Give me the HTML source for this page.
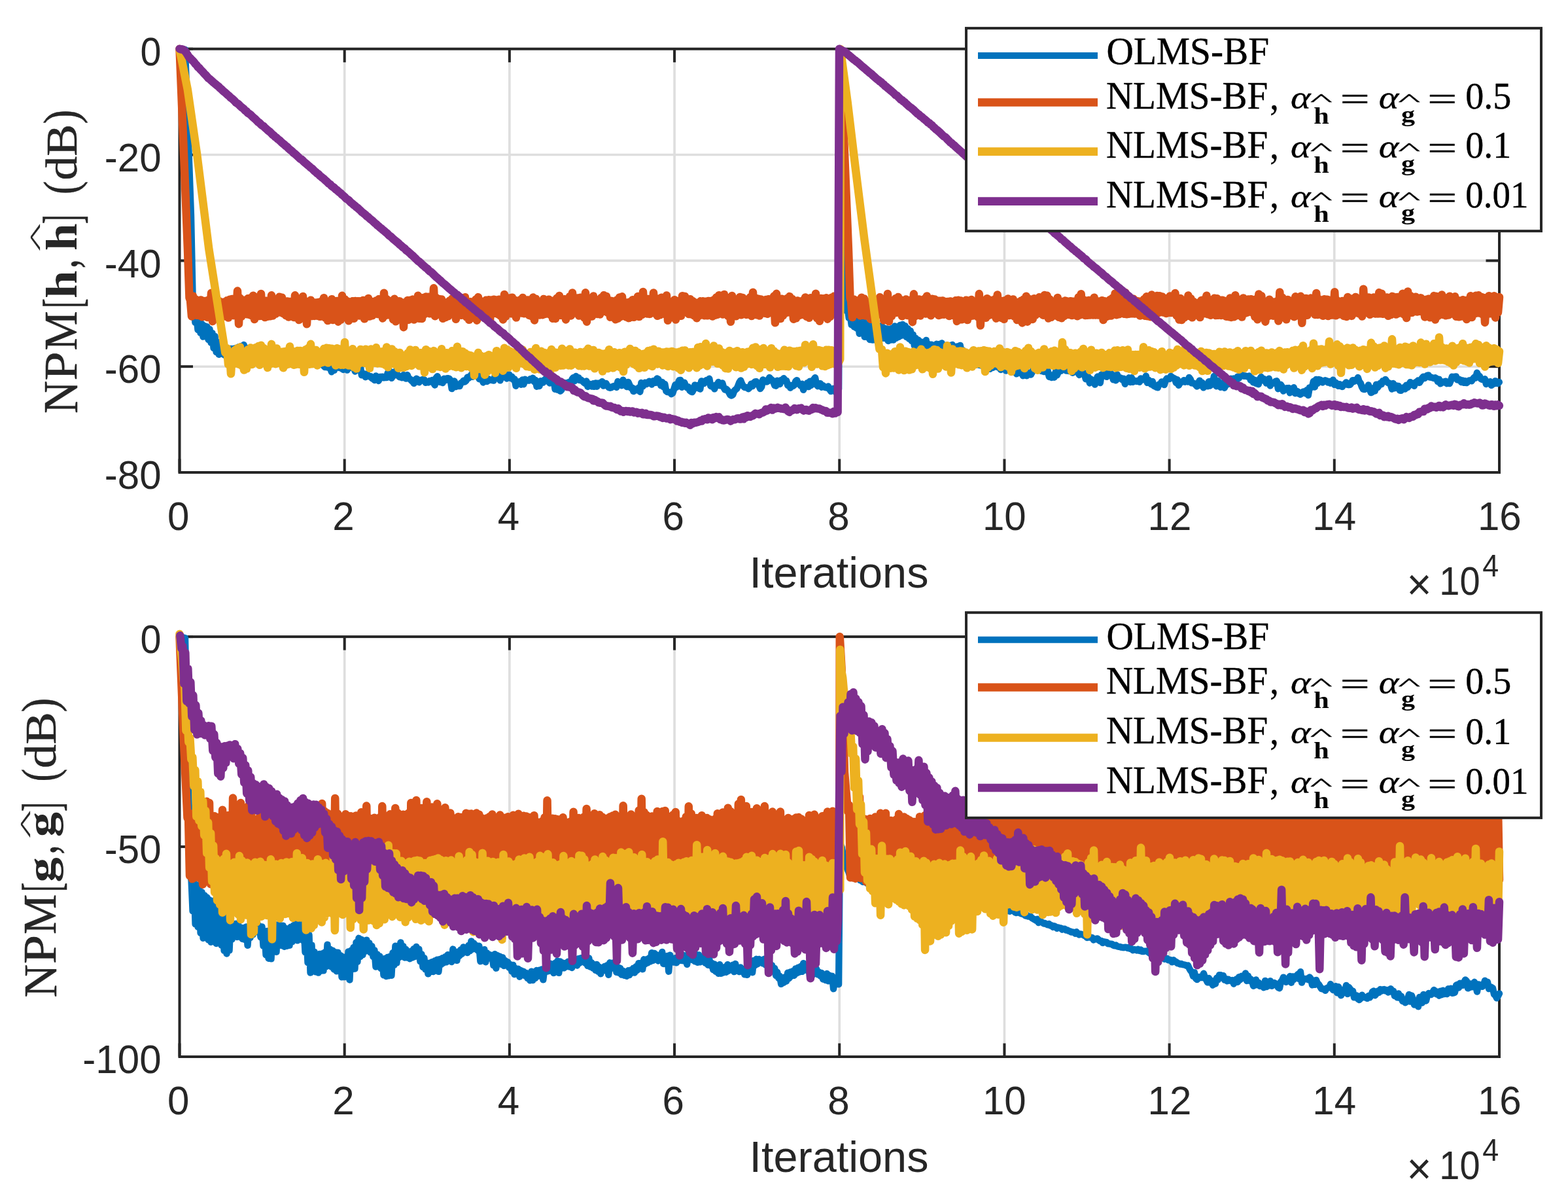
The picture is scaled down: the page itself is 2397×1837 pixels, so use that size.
<!DOCTYPE html>
<html lang="en"><head><meta charset="utf-8"><title>NPM convergence</title>
<style>html,body{margin:0;padding:0;background:#fff}svg{display:block}</style></head>
<body><svg xmlns="http://www.w3.org/2000/svg" width="2397" height="1837" viewBox="0 0 2397 1837">
<rect width="2397" height="1837" fill="#fff"/>
<g><line x1="274.5" y1="74.75" x2="274.5" y2="722" stroke="#dedede" stroke-width="3.6"/><line x1="526.69" y1="74.75" x2="526.69" y2="722" stroke="#dedede" stroke-width="3.6"/><line x1="778.88" y1="74.75" x2="778.88" y2="722" stroke="#dedede" stroke-width="3.6"/><line x1="1031.06" y1="74.75" x2="1031.06" y2="722" stroke="#dedede" stroke-width="3.6"/><line x1="1283.25" y1="74.75" x2="1283.25" y2="722" stroke="#dedede" stroke-width="3.6"/><line x1="1535.44" y1="74.75" x2="1535.44" y2="722" stroke="#dedede" stroke-width="3.6"/><line x1="1787.62" y1="74.75" x2="1787.62" y2="722" stroke="#dedede" stroke-width="3.6"/><line x1="2039.81" y1="74.75" x2="2039.81" y2="722" stroke="#dedede" stroke-width="3.6"/><line x1="2292" y1="74.75" x2="2292" y2="722" stroke="#dedede" stroke-width="3.6"/><line x1="274.5" y1="74.75" x2="2292" y2="74.75" stroke="#dedede" stroke-width="3.6"/><line x1="274.5" y1="236.56" x2="2292" y2="236.56" stroke="#dedede" stroke-width="3.6"/><line x1="274.5" y1="398.38" x2="2292" y2="398.38" stroke="#dedede" stroke-width="3.6"/><line x1="274.5" y1="560.19" x2="2292" y2="560.19" stroke="#dedede" stroke-width="3.6"/><line x1="274.5" y1="722" x2="2292" y2="722" stroke="#dedede" stroke-width="3.6"/></g>
<g><line x1="274.5" y1="722" x2="274.5" y2="701.5" stroke="#262626" stroke-width="4"/><line x1="274.5" y1="74.75" x2="274.5" y2="95.25" stroke="#262626" stroke-width="4"/><line x1="526.69" y1="722" x2="526.69" y2="701.5" stroke="#262626" stroke-width="4"/><line x1="526.69" y1="74.75" x2="526.69" y2="95.25" stroke="#262626" stroke-width="4"/><line x1="778.88" y1="722" x2="778.88" y2="701.5" stroke="#262626" stroke-width="4"/><line x1="778.88" y1="74.75" x2="778.88" y2="95.25" stroke="#262626" stroke-width="4"/><line x1="1031.06" y1="722" x2="1031.06" y2="701.5" stroke="#262626" stroke-width="4"/><line x1="1031.06" y1="74.75" x2="1031.06" y2="95.25" stroke="#262626" stroke-width="4"/><line x1="1283.25" y1="722" x2="1283.25" y2="701.5" stroke="#262626" stroke-width="4"/><line x1="1283.25" y1="74.75" x2="1283.25" y2="95.25" stroke="#262626" stroke-width="4"/><line x1="1535.44" y1="722" x2="1535.44" y2="701.5" stroke="#262626" stroke-width="4"/><line x1="1535.44" y1="74.75" x2="1535.44" y2="95.25" stroke="#262626" stroke-width="4"/><line x1="1787.62" y1="722" x2="1787.62" y2="701.5" stroke="#262626" stroke-width="4"/><line x1="1787.62" y1="74.75" x2="1787.62" y2="95.25" stroke="#262626" stroke-width="4"/><line x1="2039.81" y1="722" x2="2039.81" y2="701.5" stroke="#262626" stroke-width="4"/><line x1="2039.81" y1="74.75" x2="2039.81" y2="95.25" stroke="#262626" stroke-width="4"/><line x1="2292" y1="722" x2="2292" y2="701.5" stroke="#262626" stroke-width="4"/><line x1="2292" y1="74.75" x2="2292" y2="95.25" stroke="#262626" stroke-width="4"/><line x1="274.5" y1="74.75" x2="295" y2="74.75" stroke="#262626" stroke-width="4"/><line x1="2292" y1="74.75" x2="2271.5" y2="74.75" stroke="#262626" stroke-width="4"/><line x1="274.5" y1="236.56" x2="295" y2="236.56" stroke="#262626" stroke-width="4"/><line x1="2292" y1="236.56" x2="2271.5" y2="236.56" stroke="#262626" stroke-width="4"/><line x1="274.5" y1="398.38" x2="295" y2="398.38" stroke="#262626" stroke-width="4"/><line x1="2292" y1="398.38" x2="2271.5" y2="398.38" stroke="#262626" stroke-width="4"/><line x1="274.5" y1="560.19" x2="295" y2="560.19" stroke="#262626" stroke-width="4"/><line x1="2292" y1="560.19" x2="2271.5" y2="560.19" stroke="#262626" stroke-width="4"/><line x1="274.5" y1="722" x2="295" y2="722" stroke="#262626" stroke-width="4"/><line x1="2292" y1="722" x2="2271.5" y2="722" stroke="#262626" stroke-width="4"/></g>
<rect x="274.5" y="74.75" width="2017.5" height="647.25" fill="none" stroke="#262626" stroke-width="4"/>
<g>
<path d="M274.5,75 283,76 292,330 294.5,450 296.42,474.11 298.43,492.94 300.44,484.1 302.45,504.05 304.45,493.07 306.46,508.84 308.47,494.91 310.48,514.64 312.49,498.03 314.5,512.81 316.5,499.36 318.51,518.98 320.52,503.04 322.53,523.81 324.54,509.27 326.54,531.95 328.55,513.95 330.56,537.98 332.57,522.98 334.58,541.79 336.59,526.17 338.59,539.34 340.6,529.44 342.61,542.42 344.62,531.52 346.63,546.3 348.64,534.39 350.64,544.36 352.65,532.93 354.66,545.09 356.67,532.93 358.68,541.85 360.68,531.91 362.69,540.49 364.7,530.28 366.71,542.13 368.72,528.92 370.73,538.25 372.73,527 374.74,539.08 376.75,531.72 378.76,540.51 380.77,533.17 382.77,543.26 384.78,534.26 386.79,541.86 388.8,535.64 390.81,542.31 392.82,535.09 394.82,543.18 396.83,534.42 398.84,544.12 400.85,535.38 402.86,543.51 404.87,535.7 406.87,543.72 408.88,536.92 410.89,546.95 412.9,536.99 414.91,544.42 416.91,535.59 418.92,545.13 420.93,537.14 422.94,546.51 422.94,538.26 424.94,543.58 426.94,543.44 428.93,544.58 430.93,547.24 432.93,550.8 434.93,544.95 436.93,547.16 438.92,554.23 440.92,548.95 442.92,551.57 444.92,551.15 446.92,543.57 448.91,551.46 450.91,541.34 452.91,548.24 454.91,546.78 456.91,543.62 458.9,544.8 460.9,543.86 462.9,543.17 464.9,546.54 466.9,541.14 468.89,544.44 470.89,545.14 472.89,540.55 474.89,543.97 476.89,544.47 478.89,548.09 480.88,541.11 482.88,548.19 484.88,547.83 486.88,546.3 488.88,550.55 490.87,552.51 492.87,554.27 494.87,559.21 496.87,561.09 498.87,559.04 500.86,561.42 502.86,562.04 504.86,562.61 506.86,568.28 508.86,565.09 510.85,565.99 512.85,559.34 514.85,561.51 516.85,561.36 518.85,562.1 520.84,555.42 522.84,563.58 524.84,564.88 526.84,562.9 528.84,555.68 530.83,565.6 532.83,560.81 534.83,555.49 536.83,561.66 538.83,560.85 540.83,561.99 542.82,567.5 544.82,563.37 546.82,560.84 548.82,563.75 550.82,559.61 552.81,573.31 554.81,573.02 556.81,571.08 558.81,576.25 560.81,571.49 562.8,574.92 564.8,575.36 566.8,575.31 568.8,578.4 570.8,579.34 572.79,581.09 574.79,574.41 576.79,577.91 578.79,581.96 580.79,576.04 582.78,576.04 584.78,575.74 586.78,577.4 588.78,577 590.78,577.16 592.78,569.9 594.77,576.34 596.77,567.72 598.77,577.85 600.77,573 602.77,573.77 604.76,567.36 606.76,571.25 608.76,574.29 610.76,576.13 612.76,575.25 614.75,577.31 616.75,573.02 618.75,576.82 620.75,578.67 622.75,573.05 624.74,578.35 626.74,579.08 628.74,581.56 630.74,582.87 632.74,585.89 634.73,580.53 636.73,578.89 638.73,580 640.73,584.22 642.73,582.12 644.72,580.5 646.72,579.83 648.72,580.5 650.72,584.76 652.72,584.21 654.72,584.45 656.71,582.19 658.71,583.31 660.71,581.05 662.71,584.88 664.71,588.49 666.7,577.56 668.7,575.14 670.7,580.75 672.7,584.05 674.7,581.18 676.69,585.06 678.69,578.76 680.69,581.32 682.69,578.47 684.69,578.27 686.68,578.56 688.68,581.37 690.68,594.14 692.68,586.38 694.68,582.51 696.67,591.08 698.67,589.51 700.67,589.84 702.67,590.08 704.67,585.34 706.66,584.31 708.66,581.71 710.66,583.54 712.66,581.66 714.66,576.48 716.66,577.88 718.65,575.32 720.65,572.4 722.65,575.76 724.65,574.66 726.65,569.1 728.64,571.54 730.64,573.86 732.64,579.18 734.64,571.36 736.64,577.41 738.63,584.44 740.63,578.7 742.63,580.73 744.63,582.94 746.63,579.19 748.62,581 750.62,580.58 752.62,581.18 754.62,581.52 756.62,574.98 758.61,573.91 760.61,573.59 762.61,576.95 764.61,581.39 766.61,575.2 768.61,572.41 770.6,571.73 772.6,572.04 774.6,578.47 776.6,572.69 778.6,572.72 780.59,577.93 782.59,575.77 784.59,580.11 786.59,579.26 788.59,589.82 790.58,583.3 792.58,586.1 794.58,582.99 796.58,587.69 798.58,580.58 800.57,587.3 802.57,579.66 804.57,581.9 806.57,581.24 808.57,581.63 810.56,579.23 812.56,579.12 814.56,577.77 816.56,583.29 818.56,580.96 820.55,590.71 822.55,587.99 824.55,590.07 826.55,582.17 828.55,583.67 830.55,584.58 832.54,580.51 834.54,578.75 836.54,578.79 838.54,583.21 840.54,585.45 842.53,581.62 844.53,584.6 846.53,581.56 848.53,594.81 850.53,590.82 852.52,595.65 854.52,595.79 856.52,597.75 858.52,595.8 860.52,587.83 862.51,584.87 864.51,587.51 866.51,589.47 868.51,584.58 870.51,584.02 872.5,586.5 874.5,579.57 876.5,577.14 878.5,582.18 880.5,574.93 882.49,579.98 884.49,577.26 886.49,581.1 888.49,580.7 890.49,582.61 892.49,584.49 894.48,585.89 896.48,582.45 898.48,590.94 900.48,586.52 902.48,588.03 904.47,590.47 906.47,586.32 908.47,590.85 910.47,585.48 912.47,590.75 914.46,585.65 916.46,585.61 918.46,584.92 920.46,583.23 922.46,589.61 924.45,588.53 926.45,585.87 928.45,589.27 930.45,591.97 932.45,592.9 934.44,592.28 936.44,590.77 938.44,589.98 940.44,590.71 942.44,591.97 944.44,583.01 946.43,587.4 948.43,584.01 950.43,589.26 952.43,580.66 954.43,587.68 956.42,588.64 958.42,591.18 960.42,583.89 962.42,588.41 964.42,592.79 966.41,592.72 968.41,598.13 970.41,594.56 972.41,596.19 974.41,596.39 976.4,592.58 978.4,598.7 980.4,585.04 982.4,590.71 984.4,588.13 986.39,584.61 988.39,587.06 990.39,584.9 992.39,582.78 994.39,584.82 996.38,587.51 998.38,582.27 1000.38,583.01 1002.38,584.89 1004.38,578.54 1006.38,579.64 1008.37,584.12 1010.37,589.34 1012.37,584.05 1014.37,591.48 1016.37,587.02 1018.36,597.74 1020.36,599.02 1022.36,599.46 1024.36,599.39 1026.36,602.05 1028.35,600.83 1030.35,594.35 1032.35,588.02 1034.35,591.73 1036.35,586.28 1038.34,581.23 1040.34,580.99 1042.34,591.81 1044.34,589.26 1046.34,584.8 1048.33,589.93 1050.33,592.41 1052.33,591.29 1054.33,596.83 1056.33,598.3 1058.32,599.09 1060.32,594.92 1062.32,588.36 1064.32,592.69 1066.32,589.02 1068.32,593.47 1070.31,594.63 1072.31,582.4 1074.31,583.7 1076.31,586.07 1078.31,582.3 1080.3,580.89 1082.3,581.74 1084.3,578.76 1086.3,589.88 1088.3,590.66 1090.29,589.36 1092.29,594.4 1094.29,588.29 1096.29,588.85 1098.29,584.06 1100.28,589.32 1102.28,588.14 1104.28,585.37 1106.28,592.15 1108.28,595.61 1110.27,594.52 1112.27,596.41 1114.27,599.81 1116.27,603.5 1118.27,604.52 1120.27,603.36 1122.26,597.79 1124.26,595.5 1126.26,594.08 1128.26,589.58 1130.26,584.39 1132.25,581.5 1134.25,586.73 1136.25,590.15 1138.25,592.1 1140.25,591.96 1142.24,592.74 1144.24,594.16 1146.24,592.14 1148.24,586.72 1150.24,590.15 1152.23,585.33 1154.23,583.32 1156.23,583.12 1158.23,587.28 1160.23,589.7 1162.22,594.08 1164.22,591.3 1166.22,580.43 1168.22,582.99 1170.22,581.77 1172.21,583.45 1174.21,582.27 1176.21,577.02 1178.21,579.31 1180.21,580.73 1182.21,583.7 1184.2,589 1186.2,589.69 1188.2,581.79 1190.2,584.8 1192.2,586.96 1194.19,580.86 1196.19,580.57 1198.19,578.29 1200.19,582.55 1202.19,581.72 1204.18,588.98 1206.18,588.03 1208.18,592.67 1210.18,589.15 1212.18,590.02 1214.17,588.55 1216.17,582.93 1218.17,581.08 1220.17,586.34 1222.17,586.52 1224.16,589.65 1226.16,586.76 1228.16,595.88 1230.16,590.89 1232.16,589.42 1234.15,585.2 1236.15,591.09 1238.15,582.76 1240.15,588.76 1242.15,581.97 1244.15,579.85 1246.14,577.12 1248.14,587.85 1250.14,590.19 1252.14,589.41 1254.14,586.09 1256.13,591.68 1258.13,589.13 1260.13,591.61 1262.13,592.21 1264.13,592.59 1266.12,590.45 1268.12,594.88 1270.12,597.95 1272.12,597.07 1274.12,593.85 1276.11,596.36 1278.11,599.74 1280.11,593.51 1282.11,594.14 1284.25,75 1287,80 1290,300 1291.69,459.49 1293.69,474.99 1295.7,470.44 1297.7,485.99 1299.7,481.48 1301.7,496.45 1303.7,487.52 1305.7,499.51 1307.7,488.55 1309.7,501.87 1311.71,489.13 1313.71,509.76 1315.71,489.6 1317.71,509.03 1319.71,489.4 1321.71,514.78 1323.71,494.88 1325.71,515.24 1327.71,498.03 1329.72,519.02 1331.72,497.4 1333.72,519.57 1335.72,501.19 1337.72,519.48 1339.72,500.07 1341.72,517.18 1343.72,498.86 1345.73,514.59 1347.73,497.81 1349.73,516.81 1351.73,501.36 1353.73,517.32 1355.73,502.34 1357.73,521.04 1359.73,502.88 1361.74,519.64 1363.74,501.67 1365.74,519.59 1367.74,498.52 1369.74,516.9 1371.74,500.54 1373.74,514.81 1375.74,497.02 1377.74,512.82 1379.75,495.89 1381.75,512.48 1383.75,498.21 1385.75,515.05 1387.75,502.22 1389.75,517.76 1391.75,505.51 1393.75,521.23 1395.76,511.43 1397.76,528.1 1399.76,516.88 1401.76,532.47 1403.76,519.52 1405.76,534.65 1407.76,522.45 1409.76,535.6 1411.76,524.55 1413.77,540.16 1415.77,519.96 1417.77,535.96 1419.77,526.17 1421.77,540.19 1423.77,526.61 1425.77,536.18 1427.77,528.06 1429.78,533.8 1431.78,525.68 1433.78,534.12 1435.78,525.91 1437.78,533.39 1439.78,524.43 1441.78,532.18 1443.78,527.73 1445.79,533.43 1447.79,527.38 1449.79,533.96 1451.79,527.91 1453.79,534.53 1455.79,526.87 1457.79,533.65 1459.79,529.64 1461.79,533.9 1463.8,529.43 1465.8,542.49 1467.8,527.86 1469.8,539.95 1471.8,535.13 1473.8,545.2 1473.8,538.63 1475.8,544.28 1477.8,545.11 1479.8,547.19 1481.8,548.45 1483.8,556.74 1485.8,556.78 1487.8,553.68 1489.8,557.21 1491.8,557.79 1493.8,553.57 1495.8,557.32 1497.8,558.06 1499.8,558.53 1501.8,558.07 1503.8,553.63 1505.81,558.16 1507.81,561.55 1509.81,559.87 1511.81,557.4 1513.81,563.85 1515.81,555.77 1517.81,561.79 1519.81,556.49 1521.81,553.53 1523.81,560.64 1525.81,561.29 1527.81,561.98 1529.81,564.93 1531.81,557.28 1533.81,558.82 1535.81,561.31 1537.81,566.63 1539.81,563.28 1541.81,557.56 1543.81,560.02 1545.81,557.77 1547.81,560.37 1549.81,561.78 1551.81,564.98 1553.81,571.28 1555.81,570 1557.81,568.99 1559.81,569.96 1561.81,566.17 1563.81,574.22 1565.81,571.16 1567.81,573.65 1569.81,574.25 1571.81,571.16 1573.81,569.71 1575.81,572.58 1577.81,569.05 1579.81,564.69 1581.81,563.7 1583.81,562.7 1585.81,554.08 1587.81,558.57 1589.81,564.64 1591.81,567.02 1593.81,563.88 1595.81,568.07 1597.81,567.9 1599.81,567.17 1601.81,567.05 1603.82,575.93 1605.82,573.1 1607.82,577.07 1609.82,576.22 1611.82,576.67 1613.82,568 1615.82,573.39 1617.82,568.84 1619.82,564.95 1621.82,566.83 1623.82,564.57 1625.82,558.9 1627.82,558.95 1629.82,566.61 1631.82,561.69 1633.82,567.12 1635.82,563.92 1637.82,564.67 1639.82,569.76 1641.82,566.36 1643.82,565.73 1645.82,562.87 1647.82,569.13 1649.82,572.93 1651.82,571.43 1653.82,569.25 1655.82,568.91 1657.82,571.85 1659.82,579.36 1661.82,578.28 1663.82,576.29 1665.82,585.48 1667.82,579.46 1669.82,583.23 1671.82,582.64 1673.82,587.64 1675.82,581.42 1677.82,575.55 1679.82,581.44 1681.82,585.11 1683.82,572.53 1685.82,574.08 1687.82,568.75 1689.82,571.48 1691.82,575.9 1693.82,566.3 1695.82,566.7 1697.82,570.78 1699.82,572.06 1701.83,580.24 1703.83,574.58 1705.83,581.31 1707.83,572.43 1709.83,578.56 1711.83,577.18 1713.83,577.94 1715.83,580.52 1717.83,578.8 1719.83,586.84 1721.83,580.08 1723.83,583.46 1725.83,577.32 1727.83,584 1729.83,577.28 1731.83,583.81 1733.83,582.65 1735.83,582.04 1737.83,582.93 1739.83,581.92 1741.83,583.85 1743.83,578.36 1745.83,580.61 1747.83,579.53 1749.83,579.62 1751.83,574.54 1753.83,584.87 1755.83,580.72 1757.83,583.4 1759.83,587.37 1761.83,583.06 1763.83,589.8 1765.83,590.44 1767.83,591.75 1769.83,592.3 1771.83,587.48 1773.83,587.19 1775.83,583.35 1777.83,585.99 1779.83,587.99 1781.83,581.46 1783.83,578.5 1785.83,579.03 1787.83,579.08 1789.83,575 1791.83,576.75 1793.83,577.69 1795.83,578.66 1797.83,584.88 1799.84,580.31 1801.84,588.79 1803.84,585.42 1805.84,583.87 1807.84,583.42 1809.84,581.15 1811.84,583.75 1813.84,581.07 1815.84,583.47 1817.84,576.93 1819.84,579.73 1821.84,585.4 1823.84,585.72 1825.84,586.1 1827.84,588.23 1829.84,590.47 1831.84,585.62 1833.84,581.6 1835.84,589.15 1837.84,584.64 1839.84,592.41 1841.84,587.96 1843.84,589.93 1845.84,590.2 1847.84,583.19 1849.84,589.64 1851.84,582.32 1853.84,586.87 1855.84,575 1857.84,588.32 1859.84,590.37 1861.84,581.84 1863.84,586.17 1865.84,591.76 1867.84,589.03 1869.84,584.85 1871.84,592.71 1873.84,588.56 1875.84,582.73 1877.84,586.91 1879.84,583.01 1881.84,578.64 1883.84,583.48 1885.84,578.55 1887.84,581.03 1889.84,581.75 1891.84,575.73 1893.84,577.94 1895.84,573.63 1897.84,572.59 1899.85,573.72 1901.85,574.82 1903.85,574.5 1905.85,575.04 1907.85,575.7 1909.85,574.53 1911.85,580.84 1913.85,578.12 1915.85,584.33 1917.85,580.68 1919.85,586.02 1921.85,586.44 1923.85,587.28 1925.85,579.02 1927.85,576.03 1929.85,581.23 1931.85,578.98 1933.85,580.99 1935.85,585.57 1937.85,583.91 1939.85,578.69 1941.85,589.47 1943.85,584.9 1945.85,585.56 1947.85,585.55 1949.85,582.8 1951.85,582.33 1953.85,594.17 1955.85,591.8 1957.85,587.84 1959.85,590.87 1961.85,597.62 1963.85,595.42 1965.85,593.54 1967.85,593.16 1969.85,593.07 1971.85,600.36 1973.85,594.19 1975.85,595.65 1977.85,592.31 1979.85,601.22 1981.85,597.41 1983.85,598.35 1985.85,601.75 1987.85,602.68 1989.85,601.22 1991.85,598.77 1993.85,598.18 1995.85,601.32 1997.86,596.1 1999.86,603.99 2001.86,592.53 2003.86,592.33 2005.86,591.42 2007.86,582.81 2009.86,591.48 2011.86,579.99 2013.86,586.08 2015.86,579.93 2017.86,580.44 2019.86,581.5 2021.86,584.48 2023.86,582.11 2025.86,581.29 2027.86,582.1 2029.86,584.47 2031.86,583.23 2033.86,585.51 2035.86,584.11 2037.86,580.64 2039.86,587.87 2041.86,584.75 2043.86,586.32 2045.86,589.88 2047.86,587.22 2049.86,589.9 2051.86,591.05 2053.86,588.02 2055.86,586.79 2057.86,584.44 2059.86,587.84 2061.86,588.22 2063.86,587.83 2065.86,585.1 2067.86,581.15 2069.86,582.96 2071.86,580.7 2073.86,580.84 2075.86,577.06 2077.86,583.4 2079.86,585.56 2081.86,591.14 2083.86,594.71 2085.86,595.14 2087.86,592.96 2089.86,592.4 2091.86,588.5 2093.86,595.65 2095.87,600.15 2097.87,599.14 2099.87,592.95 2101.87,597.48 2103.87,587.69 2105.87,592.34 2107.87,589.46 2109.87,585.73 2111.87,587.16 2113.87,582.12 2115.87,583.26 2117.87,579.94 2119.87,582.86 2121.87,585.1 2123.87,585.53 2125.87,588.34 2127.87,594.54 2129.87,585.97 2131.87,593.17 2133.87,589.21 2135.87,593.03 2137.87,589.95 2139.87,596.55 2141.87,596.83 2143.87,593.95 2145.87,592.21 2147.87,594.61 2149.87,588.61 2151.87,591.94 2153.87,589.13 2155.87,584.1 2157.87,586.96 2159.87,587.25 2161.87,589.8 2163.87,584.37 2165.87,583.37 2167.87,581.52 2169.87,584.86 2171.87,581.81 2173.87,577.96 2175.87,575.65 2177.87,578.03 2179.87,575.41 2181.87,573.58 2183.87,573.5 2185.87,576.54 2187.87,576.69 2189.87,577.38 2191.87,578.02 2193.88,577.27 2195.88,578.48 2197.88,583.09 2199.88,579.61 2201.88,586.37 2203.88,584.48 2205.88,583.39 2207.88,584.36 2209.88,582.77 2211.88,586.03 2213.88,585.05 2215.88,586.14 2217.88,581.51 2219.88,575.71 2221.88,576.14 2223.88,575.71 2225.88,575.53 2227.88,580.58 2229.88,579.56 2231.88,580.33 2233.88,584.03 2235.88,581.41 2237.88,584.88 2239.88,582.16 2241.88,585.16 2243.88,583.61 2245.88,581.38 2247.88,581.29 2249.88,582.1 2251.88,578.74 2253.88,576.54 2255.88,577.53 2257.88,569.79 2259.88,573.94 2261.88,574.89 2263.88,579.16 2265.88,580.12 2267.88,580.3 2269.88,579.28 2271.88,586.97 2273.88,583.39 2275.88,583.77 2277.88,583.32 2279.88,588.88 2281.88,585.28 2283.88,586.47 2285.88,582.21 2287.88,583.12 2289.88,586.09 2291.88,584" fill="none" stroke="#0072bd" stroke-width="10.4" stroke-linejoin="round" stroke-linecap="round"/>
<path d="M274.5,75 276,110 287,382 289.5,455 291,458.94 293,483.46 295,452.57 297,479.27 299,457.59 301,481.88 303,460.9 305,482.42 307,458.45 309,484.36 311,459.98 313,479.3 315,459.81 317,485.07 319,458.21 321,478.56 323,447.66 325,491.13 327,459.36 329,485.67 331,464.13 333,479.74 335,460.11 337,478.58 339,462.05 341,480.46 343,461.46 345,483.7 347,459.24 349,485.59 351,457.63 353,481.17 355,456.88 357,482.13 359,458.36 361,480.02 363,444.59 365,495.15 367,455.61 369,483.69 371,458.37 373,477.94 375,459.69 377,480.24 379,456.27 381,481.07 383,455.36 385,482.57 387,451.63 389,488.02 391,462.28 393,479.83 395,453.79 397,482.96 399,448.98 401,482.77 403,462.99 405,485.09 407,459.65 409,483.74 411,465.01 413,483.26 415,451.36 417,482.56 419,460.35 421,479.73 423,461.48 425,477.48 427,453.84 429,477.61 431,454.68 433,479.29 435,460.73 437,482.3 439,460.42 441,484.52 443,461.02 445,482.35 447,463.67 449,485.06 451,451.33 453,485.43 455,460.98 457,488.91 459,460.92 461,480.3 463,452.94 465,482.76 467,460.49 469,495.34 471,461.73 473,482.6 475,458.78 477,483.05 479,463.73 481,482.89 483,462.43 485,482.68 487,462.04 489,483.87 491,460.68 493,482.33 495,455.27 497,485.49 499,462.35 501,489.96 503,463.5 505,483.49 507,457.22 509,488.99 511,461.97 513,482.73 515,460.04 517,491.64 519,459.55 521,488.74 523,451.83 525,480.48 527,457.46 529,476.93 531,460.56 533,490.28 535,461.79 537,483.35 539,460.2 541,486.81 543,460.03 545,480.95 547,460.23 549,482.52 551,460.31 553,480.27 555,459.01 557,487.2 559,460.31 561,482.28 563,455.98 565,483.54 567,464.12 569,482.3 571,461.09 573,479.9 575,459.62 577,479.96 579,457.29 581,479.49 583,459.1 585,486.48 587,447.65 589,482.38 591,457.24 593,481.33 595,459.76 597,479.41 599,462.05 601,488.19 603,456.81 605,491.27 607,464.39 609,482.49 611,460.36 613,485.05 615,462.58 617,500.15 619,462.79 621,485.42 623,458.93 625,488.7 627,458.81 629,485 631,457.61 633,488.56 635,459.35 637,482.82 639,451.79 641,486.79 643,460.31 645,487.02 647,454.93 649,480 651,453.57 653,476.89 655,453.71 657,479.2 659,456.84 661,477.63 663,440.29 665,483.22 667,455.12 669,480.52 671,457.03 673,480.95 675,457.42 677,486.79 679,461.94 681,485.07 683,462.42 685,483.27 687,459.73 689,479.9 691,456.55 693,478.58 695,457.86 697,487.74 699,458.65 701,478.48 703,460.52 705,481.67 707,458.93 709,480.32 711,454.34 713,484.44 715,461.92 717,488.85 719,461.3 721,486.01 723,462.93 725,482.9 727,457.99 729,489.68 731,454.12 733,483.32 735,460.35 737,484.33 739,464.71 741,483.52 743,458.64 745,488.45 747,458.26 749,490.6 751,458.52 753,478.92 755,457.83 757,478.82 759,458.41 761,480.16 763,457.83 765,482.79 767,463.25 769,488.46 771,449.89 773,483.71 775,462.21 777,479.48 779,455.4 781,479.25 783,454.78 785,479.86 787,458.74 789,485.38 791,461.16 793,478.4 795,458.5 797,478.46 799,455 801,479.33 803,460.61 805,478.43 807,458.54 809,482.08 811,459.42 813,483.56 815,454.54 817,489.45 819,456.74 821,480.8 823,461.14 825,481.42 827,462.68 829,481.25 831,456.97 833,480.08 835,460.08 837,479.17 839,457.72 841,481.01 843,459.64 845,486.82 847,463.83 849,486.97 851,455.85 853,479.98 855,452.03 857,481.84 859,458.69 861,478.89 863,457.34 865,488.42 867,460.07 869,482.02 871,452.89 873,482.46 875,447.41 877,477.97 879,455.85 881,477.54 883,455.54 885,482.62 887,454.68 889,480.43 891,459.22 893,485.51 895,447.29 897,491.72 899,456.9 901,480.74 903,456.46 905,483.54 907,452.6 909,479.57 911,458.33 913,480 915,458.4 917,480.57 919,454.93 921,476.24 923,451.35 925,475.1 927,453.06 929,477.95 931,459.12 933,484.64 935,459.94 937,481.87 939,461.3 941,488.2 943,458.39 945,486.65 947,454.43 949,483.92 951,453.36 953,481.68 955,463.37 957,484.43 959,462.49 961,486.13 963,461.61 965,484.84 967,458.2 969,484.83 971,460.05 973,479.7 975,452.94 977,483.99 979,457.33 981,481.07 983,445.92 985,478.39 987,457.3 989,479.49 991,456.9 993,479.88 995,456.91 997,477.43 999,447.39 1001,478.93 1003,456.59 1005,482.72 1007,456.51 1009,481.37 1011,454.7 1013,476.35 1015,455.89 1017,480.55 1019,451.44 1021,489.87 1023,462.94 1025,485.41 1027,465.02 1029,484.12 1031,458.16 1033,488.48 1035,459.93 1037,481.55 1039,460.97 1041,482.87 1043,452.15 1045,477.89 1047,453.05 1049,477.59 1051,459.44 1053,480.06 1055,457.28 1057,480.42 1059,460.17 1061,482.35 1063,462.58 1065,486.17 1067,463.42 1069,482.34 1071,460.36 1073,480.11 1075,460.35 1077,482.34 1079,460.72 1081,482.37 1083,460.03 1085,480.54 1087,459.92 1089,483.52 1091,458.52 1093,481.67 1095,454.54 1097,480.67 1099,451.19 1101,475.15 1103,453.21 1105,480.55 1107,449.88 1109,476.3 1111,454.62 1113,482.95 1115,455.54 1117,491.76 1119,451.93 1121,478.37 1123,458.72 1125,483.28 1127,459.66 1129,480.34 1131,453.96 1133,481.34 1135,454.87 1137,477.81 1139,458.41 1141,480.88 1143,457.53 1145,476.33 1147,454.15 1149,483 1151,446.78 1153,476.48 1155,455.72 1157,481.18 1159,456.67 1161,482.55 1163,457.56 1165,476.84 1167,460.02 1169,478.69 1171,458.02 1173,479.8 1175,457.35 1177,478.14 1179,459.6 1181,477.71 1183,452.81 1185,493.37 1187,448.86 1189,477.93 1191,459.77 1193,486.97 1195,456.71 1197,482.25 1199,458.03 1201,478.42 1203,456.24 1205,477.29 1207,453.12 1209,476.45 1211,457.02 1213,487.67 1215,465.01 1217,486.25 1219,459.55 1221,482.48 1223,463.16 1225,481.13 1227,459.53 1229,479.6 1231,454.38 1233,483.73 1235,456.29 1237,485.86 1239,455.31 1241,480.12 1243,458.43 1245,480.72 1247,448.68 1249,486.46 1251,462.19 1253,490.85 1255,456.11 1257,483.91 1259,456.37 1261,483.27 1263,455.25 1265,487.68 1267,457.2 1269,483.72 1271,454.86 1273,476.82 1275,452.87 1277,474.86 1279,455.57 1281,477.22 1283.25,470 1283.75,75 1286,110 1297,382 1299.5,455 1301,460.36 1303,484.93 1305,457.52 1306.99,477.23 1308.99,459.26 1310.99,479.92 1312.99,459.39 1314.99,482.4 1316.98,454.63 1318.98,481.85 1320.98,456.45 1322.98,482.42 1324.98,461.04 1326.97,481.8 1328.97,462.18 1330.97,487.77 1332.97,461.3 1334.97,487.27 1336.96,462.36 1338.96,483.58 1340.96,458.55 1342.96,479.16 1344.96,454.35 1346.95,480.14 1348.95,462.67 1350.95,489.61 1352.95,461.05 1354.95,481.49 1356.94,448.95 1358.94,491.35 1360.94,463.79 1362.94,483.13 1364.94,460.6 1366.93,478.58 1368.93,456.24 1370.93,477.71 1372.93,454.09 1374.93,475.81 1376.92,458.11 1378.92,483.32 1380.92,459.2 1382.92,479.57 1384.92,457.47 1386.91,481.92 1388.91,460.49 1390.91,481.87 1392.91,458.35 1394.91,492.2 1396.9,449.33 1398.9,483.18 1400.9,459.94 1402.9,480.94 1404.9,457.39 1406.89,482.42 1408.89,459.89 1410.89,479 1412.89,457.09 1414.89,479.56 1416.88,452.58 1418.88,478.75 1420.88,457.71 1422.88,482.31 1424.88,456.63 1426.87,479.03 1428.87,457.46 1430.87,478.65 1432.87,459.55 1434.86,481.96 1436.86,459.69 1438.86,481.01 1440.86,459.46 1442.86,480.68 1444.85,460.96 1446.85,480.12 1448.85,460.92 1450.85,482.91 1452.85,460.44 1454.84,481.81 1456.84,461.8 1458.84,480.79 1460.84,459.21 1462.84,490.95 1464.83,458.63 1466.83,488.57 1468.83,459.45 1470.83,488.17 1472.83,460.76 1474.82,480.71 1476.82,458.75 1478.82,489.08 1480.82,461.88 1482.82,483.25 1484.81,458.01 1486.81,482.58 1488.81,462.6 1490.81,480.9 1492.81,462.84 1494.8,484.46 1496.8,449.1 1498.8,497.53 1500.8,459.59 1502.8,481.22 1504.79,462.42 1506.79,485.82 1508.79,456.17 1510.79,482.22 1512.79,458.52 1514.78,479.43 1516.78,459.07 1518.78,481.67 1520.78,457.21 1522.78,486.63 1524.77,450.45 1526.77,478.01 1528.77,460.17 1530.77,485.81 1532.77,459.88 1534.76,487.73 1536.76,459.01 1538.76,482.42 1540.76,456.38 1542.76,482.02 1544.75,460.69 1546.75,480.59 1548.75,457.58 1550.75,483.84 1552.75,461.82 1554.74,489.07 1556.74,461.84 1558.74,482.54 1560.74,459.83 1562.74,493.41 1564.73,457.42 1566.73,482.96 1568.73,452.72 1570.73,491.69 1572.73,456.63 1574.72,481.33 1576.72,458.55 1578.72,487.93 1580.72,456.3 1582.72,481.62 1584.71,458.94 1586.71,479.06 1588.71,454.23 1590.71,478.46 1592.71,456.68 1594.7,481.79 1596.7,450.91 1598.7,481.44 1600.7,451.86 1602.7,486.51 1604.69,457.61 1606.69,484.87 1608.69,462.04 1610.69,480.19 1612.69,461.99 1614.68,482.65 1616.68,454.91 1618.68,484.86 1620.68,461.84 1622.68,486.28 1624.67,460.79 1626.67,483.02 1628.67,459.62 1630.67,481.06 1632.67,460.84 1634.66,480.93 1636.66,460.16 1638.66,482.12 1640.66,460.67 1642.66,480 1644.65,460.29 1646.65,483.22 1648.65,454.22 1650.65,481.62 1652.65,449.23 1654.64,478.48 1656.64,458.46 1658.64,482.08 1660.64,459.73 1662.64,481.75 1664.63,458.93 1666.63,481.48 1668.63,461.91 1670.63,481.48 1672.62,454.71 1674.62,481.48 1676.62,463.48 1678.62,481.62 1680.62,460.51 1682.61,481.62 1684.61,459.2 1686.61,488.99 1688.61,460.32 1690.61,484.33 1692.6,463.54 1694.6,482.74 1696.6,458.28 1698.6,482.5 1700.6,455.51 1702.59,476.84 1704.59,448.53 1706.59,481.18 1708.59,458.17 1710.59,480.32 1712.58,453.14 1714.58,477.1 1716.58,452.7 1718.58,479.76 1720.58,447.36 1722.57,480.33 1724.57,456.05 1726.57,479.63 1728.57,456.71 1730.57,479.18 1732.56,456.67 1734.56,479.59 1736.56,459.69 1738.56,479.68 1740.56,460.46 1742.55,482.56 1744.55,461.34 1746.55,479.15 1748.55,457.47 1750.55,482.8 1752.54,453.34 1754.54,483.27 1756.54,459.44 1758.54,484.33 1760.54,450.43 1762.53,476.19 1764.53,456.58 1766.53,479.41 1768.53,452.06 1770.53,478.22 1772.52,452.3 1774.52,477.05 1776.52,453.44 1778.52,477.62 1780.52,456.13 1782.51,478.91 1784.51,456.03 1786.51,478.1 1788.51,452.4 1790.51,478.12 1792.5,459.59 1794.5,478.22 1796.5,448.05 1798.5,482.25 1800.5,463.05 1802.49,488.45 1804.49,455.99 1806.49,488.96 1808.49,462.03 1810.49,485.15 1812.48,459.25 1814.48,478.48 1816.48,451.58 1818.48,483.07 1820.48,456.47 1822.47,485.26 1824.47,461.08 1826.47,481.91 1828.47,463.78 1830.47,481.71 1832.46,462.71 1834.46,485.11 1836.46,459.04 1838.46,477.36 1840.46,458.05 1842.45,479.23 1844.45,451.69 1846.45,480.19 1848.45,458.41 1850.45,481.75 1852.44,458.31 1854.44,479.43 1856.44,455.84 1858.44,482 1860.44,456.19 1862.43,481.69 1864.43,458.77 1866.43,481.91 1868.43,458.74 1870.43,480.86 1872.42,460.01 1874.42,483.84 1876.42,460.3 1878.42,484.2 1880.42,455.46 1882.41,484.92 1884.41,456.69 1886.41,484.3 1888.41,451.3 1890.41,482.31 1892.4,458.85 1894.4,478.19 1896.4,457.7 1898.4,484.47 1900.4,455.54 1902.39,478.98 1904.39,459.78 1906.39,477.72 1908.39,457.5 1910.39,475.72 1912.38,457.22 1914.38,477.59 1916.38,460.36 1918.38,484.18 1920.38,457.07 1922.37,488.27 1924.37,449.49 1926.37,484.16 1928.37,452.2 1930.36,480.8 1932.36,461.85 1934.36,491.64 1936.36,462.71 1938.36,483.37 1940.35,457.82 1942.35,482.1 1944.35,460.91 1946.35,482.7 1948.35,463.13 1950.34,481.14 1952.34,460.15 1954.34,490.51 1956.34,446.42 1958.34,485.36 1960.33,454.68 1962.33,482.29 1964.33,460.98 1966.33,488.26 1968.33,457.88 1970.32,482.54 1972.32,461.85 1974.32,480.6 1976.32,459.34 1978.32,484.21 1980.31,453.36 1982.31,482.11 1984.31,460.53 1986.31,479.8 1988.31,452.75 1990.3,493.79 1992.3,459.03 1994.3,479.29 1996.3,456.03 1998.3,481.85 2000.29,456.86 2002.29,476.33 2004.29,455.6 2006.29,476.12 2008.29,457.24 2010.28,481 2012.28,447.99 2014.28,480.97 2016.28,457.45 2018.28,479.28 2020.27,459.09 2022.27,482.72 2024.27,457.29 2026.27,478.92 2028.27,457.65 2030.26,482.99 2032.26,458.81 2034.26,481.71 2036.26,460.44 2038.26,481.6 2040.25,446.22 2042.25,482.31 2044.25,459.4 2046.25,480.58 2048.25,460.98 2050.24,480.01 2052.24,460.01 2054.24,482.9 2056.24,461.54 2058.24,484.02 2060.23,453.94 2062.23,481.93 2064.23,461.46 2066.23,482.88 2068.23,456.22 2070.22,478.75 2072.22,454.04 2074.22,476.56 2076.22,457.06 2078.22,479.79 2080.21,458.24 2082.21,483.62 2084.21,441.68 2086.21,477.34 2088.21,458.17 2090.2,477.89 2092.2,454.38 2094.2,480.71 2096.2,455.74 2098.2,476.6 2100.19,454.38 2102.19,479.61 2104.19,456.21 2106.19,479.5 2108.19,447.12 2110.18,479.2 2112.18,448.71 2114.18,479.74 2116.18,457.66 2118.18,479.21 2120.17,454.6 2122.17,482.79 2124.17,459.98 2126.17,481.01 2128.17,452.86 2130.16,479.31 2132.16,454.12 2134.16,480.46 2136.16,453.89 2138.16,478.68 2140.15,457.44 2142.15,476.13 2144.15,448.81 2146.15,480.63 2148.15,455.86 2150.14,486.1 2152.14,445.49 2154.14,473.87 2156.14,452.18 2158.14,477.83 2160.13,456.32 2162.13,475.93 2164.13,453.71 2166.13,476.54 2168.12,456.11 2170.12,475.87 2172.12,455.35 2174.12,476.73 2176.12,459.52 2178.11,484.52 2180.11,457.73 2182.11,481.33 2184.11,456.72 2186.11,485.27 2188.1,458.86 2190.1,477.94 2192.1,452.11 2194.1,488.47 2196.1,452.87 2198.09,482.99 2200.09,461.79 2202.09,480.53 2204.09,450.41 2206.09,480.95 2208.08,455.06 2210.08,482.23 2212.08,456.53 2214.08,481.55 2216.08,452.82 2218.07,479.72 2220.07,456.24 2222.07,478.53 2224.07,453.22 2226.07,483.84 2228.06,458.83 2230.06,484.28 2232.06,463.5 2234.06,483.51 2236.06,458.16 2238.05,481.12 2240.05,459.26 2242.05,488.04 2244.05,458.19 2246.05,480.16 2248.04,452.31 2250.04,484.99 2252.04,455.45 2254.04,479.52 2256.04,451.82 2258.03,478.38 2260.03,451.17 2262.03,478.45 2264.03,453.76 2266.03,480.21 2268.02,455.07 2270.02,492.89 2272.02,457.02 2274.02,478.74 2276.02,452.3 2278.01,479.2 2280.01,453.76 2282.01,479.59 2284.01,452.21 2286.01,485.44 2288,456.94 2290,477.51 2292,454.1" fill="none" stroke="#d95319" stroke-width="12.5" stroke-linejoin="round" stroke-linecap="round"/>
<path d="M274.5,75 286.8,136.7 301.2,236.4 319.4,381 344.3,539 347,532.29 349,556.93 351,540.57 353,571.35 355,538.61 357,555.11 359,534.99 361,555.55 363,532.13 365,556.81 367,530.49 369,558.49 371,538.76 373,565.57 375,537.46 377,563.52 379,534.22 381,554.19 383,531.48 385,557.11 387,537.65 389,554.16 391,531.13 393,554.55 395,528.88 397,557.84 399,527.83 401,555.35 403,532 405,554.24 407,534.66 409,561.91 411,533.89 413,556.42 415,525.87 417,554.23 419,534.55 421,556.27 423,532.53 425,553.81 427,537.49 429,555.57 431,537.73 433,562.22 435,537.22 437,557.87 439,536.21 441,556.44 443,529.41 445,555.26 447,536.61 449,557.81 451,538.34 453,556.9 455,535.88 457,556.71 459,536 461,556.09 463,538.05 465,568.87 467,534.31 469,553.16 471,532.07 473,556.85 475,525.86 477,556.29 479,537.74 481,556.13 483,534.93 485,558.48 487,538.12 489,555.11 491,537.65 493,553.87 495,533 497,549.7 499,531.83 501,554.57 503,532.25 505,552.44 507,532.69 509,553.28 511,535.02 513,558.48 515,532.21 517,556.71 519,533.37 521,557.76 523,536.75 525,557.7 527,522.92 529,557.08 531,535.26 533,558.61 535,536.62 537,556.46 539,533.29 541,561.26 543,538.12 545,563.39 547,538.36 549,555.72 551,534.06 553,552.81 555,534.84 557,554.89 559,533.72 561,554.01 563,537.35 565,562.71 567,533.49 569,551.18 571,535.71 573,554.76 575,531.29 577,555.52 579,538.4 581,555.15 583,537.4 585,556.06 587,536.83 589,557.87 591,530.39 593,561.24 595,538.51 597,556.53 599,533.44 601,555.32 603,537.18 605,557.55 607,539.44 609,562.79 611,538.98 613,562.07 615,543.41 617,561.81 619,543.13 621,560.19 623,539.86 625,558.29 627,534.42 629,558.91 631,538.33 633,556.4 635,534.97 637,556.46 639,540.15 641,559.31 643,539.32 645,558.49 647,539.45 649,569.45 651,534.27 653,556.28 655,536.76 657,556.66 659,537.99 661,564.05 663,536.12 665,558.18 667,538.7 669,560.3 671,539.11 673,560.92 675,533.27 677,559.4 679,540.15 681,563.56 683,539.32 685,560.23 687,541.69 689,559.06 691,536.23 693,559.95 695,536.93 697,561.24 699,529.69 701,556.68 703,538.93 705,562.16 707,537.13 709,558.76 711,539.81 713,560.07 715,542.32 717,559.94 719,543.15 721,562.79 723,544.62 725,573.78 727,544.69 729,564.34 731,539.09 733,563.98 735,543.74 737,565.21 739,545.61 741,572.88 743,544.17 745,567.72 747,542.23 749,563.5 751,547.26 753,564.96 755,543.6 757,570.13 759,536.15 761,560.13 763,539.84 765,561.52 767,539.14 769,566.7 771,531.73 773,560.83 775,534.17 777,561.63 779,536.5 781,557.66 783,538.27 785,555.62 787,539.27 789,562.8 791,536.79 793,555.75 795,538.27 797,553.73 799,534.8 801,556.65 803,541.75 805,560.12 807,540.83 809,560.73 811,538.09 813,558.34 815,539.57 817,564.77 819,532.06 821,557.56 823,539 825,564.55 827,536.81 829,556.53 831,538.64 833,557.54 835,539.87 837,556.56 839,538.93 841,571.13 843,534 845,557.63 847,538.21 849,561.8 851,539.03 853,556.52 855,540.01 857,558.87 859,532.74 861,558.51 863,535.8 865,555.93 867,538.32 869,558.53 871,533.46 873,558.7 875,538.28 877,556.39 879,538.74 881,556.05 883,539.97 885,559.13 887,538.02 889,559.41 891,539.66 893,559.56 895,536.98 897,557.37 899,532.83 901,559.49 903,538.12 905,556.13 907,534.89 909,563.23 911,538.65 913,558.67 915,539.07 917,559.92 919,540.42 921,567.44 923,540.64 925,563.25 927,539.74 929,563.31 931,534.29 933,559.01 935,539.14 937,562.39 939,538.22 941,560.33 943,540.3 945,559.37 947,539.24 949,562.07 951,539.57 953,568 955,537.67 957,557.51 959,537.51 961,554.04 963,533.04 965,553.89 967,537.15 969,556.57 971,536 973,559.07 975,538.78 977,562.87 979,541.9 981,558.1 983,541 985,561.82 987,540.03 989,557.75 991,536.13 993,558.5 995,535.3 997,559.9 999,533.7 1001,555.42 1003,538 1005,556.45 1007,536.85 1009,555.88 1011,538.53 1013,558.39 1015,538.41 1017,557.63 1019,537.42 1021,559.91 1023,537.7 1025,556.36 1027,537.06 1029,560.21 1031,538.11 1033,554.42 1035,538.55 1037,562.71 1039,537.39 1041,565.7 1043,535.76 1045,556.98 1047,535.53 1049,559.65 1051,539.04 1053,562.32 1055,538.27 1057,555.8 1059,538.05 1061,558.34 1063,539.3 1065,562.2 1067,531 1069,558.71 1071,530.11 1073,556.65 1075,533.45 1077,553.13 1079,525.02 1081,559.44 1083,532.34 1085,553.21 1087,533.03 1089,552.65 1091,528.42 1093,551.52 1095,532.64 1097,555.85 1099,532.51 1101,553.76 1103,537.94 1105,558.64 1107,539.51 1109,562.93 1111,539.19 1113,563.46 1115,536.08 1117,555.87 1119,538.52 1121,555.81 1123,537.75 1125,561.31 1127,536.25 1129,560.3 1131,539.95 1133,562.59 1135,538.17 1137,560.8 1139,539.16 1141,556.75 1143,537.63 1145,554.62 1147,536.63 1149,556.89 1151,531.67 1153,555.46 1155,530.54 1157,558.99 1159,538.93 1161,562.78 1163,533.95 1165,557.26 1167,531.94 1169,556.74 1171,538.9 1173,557.4 1175,536.89 1177,561.49 1179,532.14 1181,556.19 1183,536.37 1185,556.68 1187,539.64 1189,560.86 1191,540.92 1193,559.86 1195,540.1 1197,559.53 1199,534.72 1201,559.87 1203,538.91 1205,560.21 1207,535.72 1209,553.35 1211,536.97 1213,555.34 1215,537.28 1217,559.16 1219,536.62 1221,560.27 1223,535.97 1225,554.24 1227,535.21 1229,554.19 1231,526.96 1233,550.79 1235,531.62 1237,551.81 1239,533.07 1241,560.74 1243,526.23 1245,553.32 1247,536.78 1249,556.46 1251,534.9 1253,555.72 1255,535.85 1257,559.36 1259,539.82 1261,559.94 1263,534.64 1265,558.25 1267,534.83 1269,556.69 1271,535.19 1273,554.73 1275,536.49 1277,556.64 1279,538.34 1281,556.28 1284.25,549 1284.75,75 1295.6,155.8 1307.1,251.7 1321.5,366.7 1344.4,533.4 1348,533.93 1350,561.18 1352,539.39 1354,570.41 1356,539.75 1358,558.62 1360,541.52 1362,562.63 1364,541.47 1366,562.42 1368,537.17 1370,562 1372,540.77 1374,565.5 1376,530.38 1378,558.54 1380,540.05 1382,566.11 1384,536.66 1386,557.82 1388,538.04 1390,565.39 1392,542.11 1394,564.25 1396,537.54 1398,558.97 1400,539.9 1402,557.56 1404,538.17 1406,558.48 1408,533.72 1410,564.31 1412,538 1414,561.52 1416,540.08 1418,558.21 1420,538.93 1422,563.02 1424,537.03 1426,571.76 1428,533.88 1430,557.41 1432,535.04 1434,563.51 1436,538.09 1438,556.6 1440,539.92 1442,557.6 1444,538.85 1446,560.44 1448,528.25 1450,556.81 1452,537.26 1454,569.61 1456,533.5 1458,556.49 1460,536.67 1462,556.1 1464,536.88 1466,557.37 1468,536.55 1470,558.16 1472,537.06 1474,557.99 1476,538.47 1478,562.33 1480,540.88 1482,557.91 1484,539.16 1486,560.54 1488,535.18 1490,557.24 1492,537.92 1494,555.88 1496,536.58 1498,555.75 1500,536.34 1502,557.61 1504,535.34 1506,568.07 1508,536.16 1510,562.12 1512,536.82 1514,558.83 1516,538.14 1518,555.95 1520,537.09 1522,554.68 1524,538.45 1526,557 1528,532.48 1530,561.03 1532,537.53 1534,555.29 1536,539.55 1538,559.08 1540,538.11 1542,561.02 1544,539.56 1546,567.98 1548,543.01 1550,560.75 1552,536.16 1554,559.14 1556,537.62 1558,558.27 1560,539.88 1562,558.5 1564,541.43 1566,562.94 1568,536.1 1570,559.12 1572,531.69 1574,554.79 1576,536.87 1578,554.98 1580,540.41 1582,562.86 1584,540.86 1586,565.73 1588,539.07 1590,560.21 1592,539.9 1594,561.59 1596,533.41 1598,555.87 1600,538.35 1602,557.48 1604,538.49 1606,557.67 1608,536.88 1610,558.94 1612,535.78 1614,556.93 1616,537.61 1618,558.58 1620,537.29 1622,554.94 1624,523.06 1626,559.82 1628,534.06 1630,557.22 1632,538.37 1634,556.64 1636,539.28 1638,566.95 1640,541.08 1642,563.07 1644,539.64 1646,559.65 1648,540.14 1650,558.2 1652,537.7 1654,561.56 1656,533 1658,558.36 1660,541.47 1662,557.29 1664,539.54 1666,565.87 1668,534.68 1670,557.6 1672,540.66 1674,561.69 1676,539.66 1678,560 1680,543.37 1682,559.73 1684,538.93 1686,562.13 1688,542.71 1690,560.32 1692,542.03 1694,560.47 1696,539.36 1698,561.03 1700,542.86 1702,560.72 1704,535.81 1706,562.14 1708,535.26 1710,561.18 1712,540.15 1714,560.8 1716,535.25 1718,559.55 1720,540.26 1722,562.77 1724,534.57 1726,563.64 1728,542.7 1730,562.23 1732,542.15 1734,567 1736,542.01 1738,561.99 1740,542.11 1742,561.69 1744,542.02 1746,558.74 1748,530.21 1750,563.31 1752,539.95 1754,561 1756,535.29 1758,560.42 1760,537.05 1762,556.76 1764,538.32 1766,562.18 1768,540.98 1770,558.18 1772,541.21 1774,565.13 1776,537.32 1778,562.69 1780,542.3 1782,564.66 1784,543.27 1786,559.95 1788,539.03 1790,563.86 1792,541.91 1794,561.89 1796,539.29 1798,558.77 1800,534.06 1802,556.56 1804,537.83 1806,555.94 1808,538.19 1810,558.4 1812,529.77 1814,557.28 1816,532.16 1818,558.81 1820,533.2 1822,556.01 1824,536.75 1826,558.45 1828,538.92 1830,559.29 1832,541.74 1834,561.35 1836,536.98 1838,567.06 1840,539.54 1842,556.5 1844,539.02 1846,566.84 1848,539.57 1850,558.7 1852,540.85 1854,558.91 1856,540.98 1858,560.87 1860,540.94 1862,562.37 1864,537.69 1866,556.59 1868,538.83 1870,559.05 1872,537.5 1874,557.54 1876,539.09 1878,559.57 1880,538.59 1882,560.17 1884,540.74 1886,561.62 1888,538.84 1890,563.32 1892,536.25 1894,564.66 1896,539.7 1898,558.46 1900,540.22 1902,562.79 1904,536.21 1906,558.29 1908,539.02 1910,556.06 1912,535.98 1914,559.24 1916,539.74 1918,567.29 1920,540.37 1922,564.13 1924,538.04 1926,565.34 1928,535.68 1930,557.12 1932,540.89 1934,561.82 1936,539.49 1938,562.39 1940,540.04 1942,561.54 1944,538.44 1946,559.09 1948,540.26 1950,561.33 1952,539.22 1954,561.68 1956,536.12 1958,559.14 1960,541.52 1962,564.57 1964,538.59 1966,558.17 1968,538.15 1970,554.96 1972,539.14 1974,556.38 1976,536.11 1978,562.61 1980,534.77 1982,554.55 1984,536.68 1986,556.55 1988,533.62 1990,565.72 1992,528.24 1994,560.5 1996,537.1 1998,558.16 2000,537.92 2002,553.64 2004,534.9 2006,562.98 2008,524.69 2010,554.66 2012,536.15 2014,559.24 2016,534.05 2018,555.28 2020,533.43 2022,554.15 2024,535.49 2026,553.39 2028,533.58 2030,551.14 2032,521.63 2034,556.46 2036,533.46 2038,554.51 2040,532.36 2042,552.83 2044,526.34 2046,559.04 2048,529.24 2050,570.09 2052,533.45 2054,554.68 2056,533.17 2058,555.19 2060,531.61 2062,558.23 2064,532.96 2066,557.69 2068,531.47 2070,554.74 2072,534.67 2074,554.55 2076,536.72 2078,560.27 2080,535.75 2082,558.05 2084,534.28 2086,555.88 2088,535.11 2090,563.88 2092,534.36 2094,555.02 2096,523.83 2098,556.01 2100,529.25 2102,561.49 2104,532.11 2106,558.98 2108,531.68 2110,551.9 2112,531.03 2114,551.11 2116,528.6 2118,562.65 2120,533.79 2122,560.2 2124,532.84 2126,550.8 2128,518.31 2130,555.53 2132,535.03 2134,556.14 2136,536.55 2138,557.17 2140,531.03 2142,555.03 2144,531.78 2146,553.98 2148,529.78 2150,556.96 2152,530.96 2154,557.16 2156,538.67 2158,558.36 2160,528.48 2162,554.55 2164,534.12 2166,553.48 2168,533.46 2170,554.1 2172,523.6 2174,551.64 2176,530.62 2178,556.47 2180,525.82 2182,552.93 2184,533.64 2186,553.49 2188,531.54 2190,549.09 2192,525.33 2194,551.43 2196,533.8 2198,550.06 2200,515.49 2202,550.33 2204,530.56 2206,550.26 2208,532.44 2210,551.14 2212,532.59 2214,553.06 2216,533.03 2218,555.22 2220,528.71 2222,558.58 2224,534.5 2226,553.68 2228,532.15 2230,550.21 2232,530.82 2234,549.95 2236,525.34 2238,551.18 2240,531.12 2242,552.47 2244,532.27 2246,554.45 2248,530.9 2250,549 2252,530.06 2254,548.36 2256,525.25 2258,547.29 2260,526.97 2262,555.04 2264,530.99 2266,554.31 2268,530.63 2270,560.5 2272,528.21 2274,554.66 2276,531.46 2278,553.15 2280,534.63 2282,552.22 2284,532.28 2286,552.43 2288,534.29 2290,554.98 2292,536.9" fill="none" stroke="#edb120" stroke-width="12.5" stroke-linejoin="round" stroke-linecap="round"/>
<path d="M274.5,74.68 276.5,75.39 278.51,75.31 280.51,76.06 282.51,77.89 284.52,80.22 286.52,83.38 288.52,86.75 290.53,88.61 292.53,90.77 294.53,92.71 296.54,94.78 298.54,97.67 300.54,99.51 302.55,102.39 304.55,103.88 306.55,106.43 308.55,108.43 310.56,110.46 312.56,112.94 314.56,114.72 316.57,117.03 318.57,119.45 320.57,120.72 322.58,122.61 324.58,124.45 326.58,126.25 328.59,127.89 330.59,129.46 332.59,131.17 334.6,132.75 336.6,134.92 338.6,136.49 340.61,138.54 342.61,140.32 344.61,141.81 346.62,143.64 348.62,145.58 350.62,147.06 352.63,149.29 354.63,150.64 356.63,152.47 358.64,154.29 360.64,156.69 362.64,157.94 364.65,159.39 366.65,161.45 368.65,163.41 370.65,164.86 372.66,166.46 374.66,168.98 376.66,169.86 378.67,172.48 380.67,173.79 382.67,175.05 384.68,177.01 386.68,179.06 388.68,180.76 390.69,182.41 392.69,184.54 394.69,186.58 396.7,187.87 398.7,189.95 400.7,191.92 402.71,192.61 404.71,194.89 406.71,196.64 408.72,198.43 410.72,200.12 412.72,201.56 414.73,203.58 416.73,205.78 418.73,207.15 420.74,209.38 422.74,210.47 424.74,212.54 426.75,213.99 428.75,215.74 430.75,217.8 432.75,219.49 434.76,221.05 436.76,223.01 438.76,224.32 440.77,226.43 442.77,228.38 444.77,229.81 446.78,231.52 448.78,233.72 450.78,235.05 452.79,236.91 454.79,238.81 456.79,240.63 458.8,242.63 460.8,243.48 462.8,245.38 464.81,247.51 466.81,249.15 468.81,250.86 470.82,252.6 472.82,254.14 474.82,256.15 476.83,257.31 478.83,259.37 480.83,261.48 482.84,262.95 484.84,265.08 486.84,266.14 488.85,268.46 490.85,269.94 492.85,271.72 494.85,273.1 496.86,275.16 498.86,276.78 500.86,278.71 502.87,280.7 504.87,281.87 506.87,284.25 508.88,285.68 510.88,286.92 512.88,289.1 514.89,290.33 516.89,292.24 518.89,293.9 520.9,295.29 522.9,297.57 524.9,299.12 526.91,300.87 528.91,303.21 530.91,304.53 532.92,305.76 534.92,307.94 536.92,310.06 538.93,311.31 540.93,313.32 542.93,314.64 544.94,316.73 546.94,317.95 548.94,319.85 550.95,321.63 552.95,323.81 554.95,325.25 556.95,326.91 558.96,328.47 560.96,330.6 562.96,331.88 564.97,333.83 566.97,335.61 568.97,336.9 570.98,338.93 572.98,340.85 574.98,342.27 576.99,344.48 578.99,345.9 580.99,347.86 583,349.24 585,351.05 587,352.66 589.01,354.49 591.01,355.97 593.01,357.81 595.02,360.08 597.02,361.35 599.02,363.06 601.03,365.09 603.03,366.77 605.03,368.39 607.04,370 609.04,371.63 611.04,373.78 613.05,375.3 615.05,377.17 617.05,378.7 619.05,380.11 621.06,382.65 623.06,383.84 625.06,385.62 627.07,387.36 629.07,389.44 631.07,390.87 633.08,393.02 635.08,394.91 637.08,396.86 639.09,398.85 641.09,400.1 643.09,401.91 645.1,403.97 647.1,405.68 649.1,407.51 651.11,409.24 653.11,410.5 655.11,412.75 657.12,414.7 659.12,415.92 661.12,417.74 663.13,419.75 665.13,421.69 667.13,423.56 669.14,425.19 671.14,427.11 673.14,428.72 675.15,430.74 677.15,432.58 679.15,434.16 681.15,435.74 683.16,437.64 685.16,439.46 687.16,441.18 689.17,442.71 691.17,444.63 693.17,446.35 695.18,447.86 697.18,450.05 699.18,450.73 701.19,452.66 703.19,454.07 705.19,456.19 707.2,458.05 709.2,459.35 711.2,461.61 713.21,463 715.21,464.27 717.21,466.36 719.22,467.76 721.22,469.7 723.22,471.21 725.23,473.1 727.23,474.66 729.23,476.43 731.24,478.14 733.24,479.2 735.24,481.09 737.25,483.23 739.25,484.7 741.25,486.64 743.25,487.66 745.26,489.8 747.26,491.49 749.26,493.53 751.27,494.78 753.27,495.91 755.27,498.45 757.28,499.94 759.28,501.51 761.28,502.88 763.29,505.11 765.29,506.79 767.29,508.34 769.3,509.22 771.3,511.72 773.3,513.37 775.31,514.97 777.31,516.55 779.31,518.32 781.32,520.68 783.32,521.97 785.32,523.98 787.33,525.77 789.33,527.19 791.33,529.5 793.34,531.25 795.34,532.61 797.34,535.14 799.35,536.9 801.35,539.07 803.35,541.18 805.35,542.75 807.36,544.88 809.36,545.93 811.36,547.98 813.37,550.07 815.37,551.71 817.37,553.79 819.38,555.39 821.38,557.36 823.38,559.01 825.39,561.25 827.39,562.97 829.39,565.03 831.4,567.12 833.4,568.91 833.4,567.21 835.4,570.02 837.39,570.72 839.39,571.04 841.39,573.87 843.38,574.91 845.38,576.03 847.37,577.55 849.37,578.95 851.37,579.88 853.36,582.78 855.36,583.24 857.36,583.54 859.35,585.25 861.35,586.54 863.34,587.76 865.34,589.86 867.34,591.23 869.33,590.3 871.33,591.95 873.33,591.48 875.32,593 877.32,597.18 879.32,596.18 881.31,598.62 883.31,599.53 885.3,599.6 887.3,600.36 889.3,602.43 891.29,604.54 893.29,606.14 895.29,605.4 897.28,607.29 899.28,608.38 901.27,608.6 903.27,609.37 905.27,609.47 907.26,612.39 909.26,611.13 911.26,612.78 913.25,613.46 915.25,615.23 917.25,615.68 919.24,615.5 921.24,615.63 923.23,617.88 925.23,619.69 927.23,620.59 929.22,620.46 931.22,621.28 933.22,620.88 935.21,622.73 937.21,623.11 939.2,622.9 941.2,624.41 943.2,625.9 945.19,624.3 947.19,627.17 949.19,628.58 951.18,628 953.18,629.66 955.18,628.33 957.17,627.98 959.17,629.07 961.16,628.2 963.16,629.54 965.16,628.79 967.15,628.56 969.15,630.36 971.15,629.92 973.14,629.86 975.14,631.63 977.13,630.95 979.13,631.59 981.13,630.81 983.12,633.22 985.12,632.94 987.12,631.68 989.11,634.04 991.11,633.72 993.11,634.13 995.1,634 997.1,634.83 999.09,636.21 1001.09,636.34 1003.09,635.51 1005.08,635.69 1007.08,636.05 1009.08,637.4 1011.07,637.31 1013.07,638.91 1015.06,637.8 1017.06,638.67 1019.06,639.52 1021.05,639.44 1023.05,638.86 1025.05,641.14 1027.04,640.23 1029.04,640.58 1031.04,640.92 1033.03,641.58 1035.03,643.54 1037.02,642.91 1039.02,644.65 1041.02,644.49 1043.01,646.05 1045.01,645.56 1047.01,646.64 1049,645.78 1051,647.22 1052.99,647.77 1054.99,649.68 1056.99,646.05 1058.98,647.41 1060.98,645.65 1062.98,646.09 1064.97,645.5 1066.97,644.98 1068.97,644.21 1070.96,642.7 1072.96,643.48 1074.95,640.92 1076.95,640.52 1078.95,639.95 1080.94,641.3 1082.94,638.51 1084.94,640.23 1086.93,639.19 1088.93,641.29 1090.92,638.25 1092.92,639.11 1094.92,637.13 1096.91,638.04 1098.91,637.3 1100.91,640.91 1102.9,640.97 1104.9,642.38 1106.9,642.51 1108.89,641.77 1110.89,641.11 1112.88,641.1 1114.88,641.89 1116.88,643.53 1118.87,642.29 1120.87,641.09 1122.87,641.33 1124.86,640.62 1126.86,639.45 1128.85,639.26 1130.85,640.49 1132.85,640.61 1134.84,637.63 1136.84,640.36 1138.84,637 1140.83,637.77 1142.83,635.2 1144.83,636.61 1146.82,636.97 1148.82,635.73 1150.81,635.43 1152.81,633.62 1154.81,631.85 1156.8,632.54 1158.8,632.6 1160.8,633.24 1162.79,631.43 1164.79,630.81 1166.78,630.21 1168.78,629.01 1170.78,625.58 1172.77,627.63 1174.77,625.17 1176.77,625.38 1178.76,623.09 1180.76,626.6 1182.76,623.59 1184.75,624.79 1186.75,623.74 1188.74,622.84 1190.74,623.83 1192.74,624.05 1194.73,624.64 1196.73,624.81 1198.73,625.23 1200.72,622.7 1202.72,625.69 1204.72,628.49 1206.71,629.69 1208.71,627.52 1210.7,627.12 1212.7,626.38 1214.7,624.1 1216.69,624.85 1218.69,626.16 1220.69,624.37 1222.68,624.32 1224.68,623.63 1226.67,626.08 1228.67,627.55 1230.67,626.26 1232.66,626.07 1234.66,627.23 1236.66,627.75 1238.65,626.27 1240.65,625.82 1242.65,623.27 1244.64,624.38 1246.64,623.21 1248.63,624.33 1250.63,624.49 1252.63,624.55 1254.62,625.77 1256.62,626.39 1258.62,627.45 1260.61,628.1 1262.61,627.99 1264.6,630.73 1266.6,630.65 1268.6,630.77 1270.59,631.31 1272.59,632.14 1274.59,628.84 1276.58,631.58 1278.58,628.36 1280.58,630.03 1283,74.67 1285,76.15 1286.99,76.89 1288.99,77.82 1290.99,78.79 1292.99,80.35 1294.98,82.11 1296.98,83.9 1298.98,85.58 1300.98,87.16 1302.97,89.07 1304.97,90.81 1306.97,92.04 1308.97,93.77 1310.96,95.17 1312.96,96.95 1314.96,98.68 1316.95,100.65 1318.95,102.21 1320.95,103.89 1322.95,105.5 1324.94,107.37 1326.94,109.04 1328.94,110.77 1330.94,112.35 1332.93,113.85 1334.93,115.92 1336.93,117.51 1338.93,119.37 1340.92,121.12 1342.92,122.43 1344.92,124.47 1346.91,125.45 1348.91,127.7 1350.91,128.97 1352.91,131.43 1354.9,132.64 1356.9,134.5 1358.9,136.02 1360.9,137.74 1362.89,139.4 1364.89,141.16 1366.89,142.9 1368.89,145.12 1370.88,145.93 1372.88,148.02 1374.88,149.87 1376.88,152.07 1378.87,152.81 1380.87,154.96 1382.87,156.19 1384.86,158.26 1386.86,159.91 1388.86,161.86 1390.86,163.52 1392.85,164.73 1394.85,166.46 1396.85,168.14 1398.85,170.24 1400.84,171.99 1402.84,173.95 1404.84,175.01 1406.84,177.33 1408.83,178.43 1410.83,180.28 1412.83,182.1 1414.82,183.6 1416.82,185.26 1418.82,187.37 1420.82,188.26 1422.81,190.35 1424.81,191.5 1426.81,194.06 1428.81,195.58 1430.8,197.63 1432.8,198.96 1434.8,200.73 1436.8,202.51 1438.79,204.48 1440.79,206.4 1442.79,208.37 1444.78,209.33 1446.78,211.25 1448.78,213.49 1450.78,215.38 1452.77,217.6 1454.77,218.75 1456.77,220.85 1458.77,222.23 1460.76,224.17 1462.76,226.15 1464.76,227.8 1466.76,229.65 1468.75,231.25 1470.75,233.1 1472.75,235.09 1474.74,236.47 1476.74,238.63 1478.74,240.44 1480.74,241.76 1482.73,243.54 1484.73,245.38 1486.73,247.02 1488.73,249.37 1490.72,250.63 1492.72,252.37 1494.72,254.36 1496.72,256.02 1498.71,257.49 1500.71,258.88 1502.71,260.97 1504.7,262.82 1506.7,264.47 1508.7,265.93 1510.7,267.92 1512.69,269.97 1514.69,271.01 1516.69,273.61 1518.69,274.75 1520.68,276.65 1522.68,278.18 1524.68,280.49 1526.68,282.21 1528.67,283.46 1530.67,285.54 1532.67,287.31 1534.67,288.52 1536.66,290.26 1538.66,292.19 1540.66,294.06 1542.65,295.49 1544.65,297.85 1546.65,299.44 1548.65,300.76 1550.64,302.8 1552.64,304.06 1554.64,306.41 1556.64,307.66 1558.63,309.92 1560.63,311.41 1562.63,313.05 1564.63,315.08 1566.62,316.72 1568.62,318.25 1570.62,320.28 1572.61,321.57 1574.61,323.07 1576.61,325.15 1578.61,326.69 1580.6,328.77 1582.6,330.18 1584.6,331.94 1586.6,333.88 1588.59,335.54 1590.59,337.91 1592.59,338.51 1594.59,340.56 1596.58,342.49 1598.58,344.18 1600.58,346.19 1602.57,347.56 1604.57,349.12 1606.57,351.16 1608.57,352.68 1610.56,354.56 1612.56,356.78 1614.56,358.09 1616.56,359.84 1618.55,361.29 1620.55,363.12 1622.55,365.48 1624.55,366.37 1626.54,368.36 1628.54,370.33 1630.54,371.95 1632.53,373.67 1634.53,375.74 1636.53,376.96 1638.53,379.04 1640.52,380.81 1642.52,382.21 1644.52,384.27 1646.52,385.3 1648.51,387.35 1650.51,388.81 1652.51,390.66 1654.51,392.13 1656.5,394.56 1658.5,395.58 1660.5,397.1 1662.5,399.63 1664.49,401.16 1666.49,403.03 1668.49,404.38 1670.48,406.03 1672.48,408.08 1674.48,409.38 1676.48,410.84 1678.47,412.81 1680.47,414.47 1682.47,416.1 1684.47,417.57 1686.46,419.74 1688.46,421.47 1690.46,422.7 1692.46,424.51 1694.45,426.56 1696.45,428.26 1698.45,429.64 1700.44,431.2 1702.44,433.28 1704.44,434.89 1706.44,436.31 1708.43,438.32 1710.43,439.78 1712.43,441.35 1714.43,443.11 1716.42,444.71 1718.42,446.69 1720.42,447.67 1722.42,450.67 1724.41,451.67 1726.41,453.22 1728.41,455.56 1730.4,456.56 1732.4,458.08 1734.4,460.49 1736.4,461.7 1738.39,463.48 1740.39,465.2 1742.39,467.1 1744.39,468.76 1746.38,470.06 1748.38,472.21 1750.38,473.31 1752.38,475.87 1754.37,476.87 1756.37,479.12 1758.37,480.31 1760.36,482.07 1762.36,483.67 1764.36,485.65 1766.36,487.27 1768.35,489.19 1770.35,491.04 1772.35,492.01 1774.35,493.93 1776.34,495.83 1778.34,497.23 1780.34,498.93 1782.34,500.83 1784.33,502.53 1786.33,504.02 1788.33,505.86 1790.32,507.41 1792.32,508.82 1794.32,510.7 1796.32,512.21 1798.31,514.2 1800.31,515.63 1802.31,517.53 1804.31,518.75 1806.3,520.37 1808.3,522.61 1810.3,523.99 1812.3,526.07 1814.29,528.04 1816.29,529.07 1818.29,530.64 1820.29,533.12 1822.28,533.79 1824.28,536.31 1826.28,537.79 1828.27,539.77 1830.27,540.71 1832.27,542.81 1834.27,543.92 1836.26,546.38 1838.26,547.32 1840.26,548.97 1842.26,551.37 1844.25,552.33 1846.25,554.06 1848.25,555.96 1850.25,557.94 1852.24,559.4 1854.24,560.56 1856.24,562.64 1858.23,564.51 1860.23,565.81 1862.23,567.08 1864.23,569.12 1866.22,571.16 1868.22,572.36 1870.22,574.43 1872.22,575.67 1874.21,577.7 1876.21,579.38 1878.21,580.52 1880.21,582.84 1882.2,584.27 1884.2,586.08 1884.2,584.64 1886.2,589.1 1888.2,588.37 1890.2,590.2 1892.19,589.75 1894.19,589.49 1896.19,590.32 1898.19,593.84 1900.19,592.43 1902.19,595.15 1904.18,596.15 1906.18,596.36 1908.18,597.8 1910.18,597.16 1912.18,599.69 1914.18,597.79 1916.18,602.23 1918.17,600.99 1920.17,603.06 1922.17,606.29 1924.17,605.9 1926.17,605.66 1928.17,605.99 1930.16,607.84 1932.16,608.41 1934.16,609.46 1936.16,610.27 1938.16,612.31 1940.16,612.55 1942.16,614.42 1944.15,614.34 1946.15,614.6 1948.15,615.26 1950.15,616.53 1952.15,617.13 1954.15,619.27 1956.14,617.86 1958.14,619.44 1960.14,617.21 1962.14,619.44 1964.14,621.73 1966.14,620.7 1968.14,621.36 1970.13,622.72 1972.13,622.32 1974.13,623.36 1976.13,625.01 1978.13,624.17 1980.13,624.24 1982.12,625.19 1984.12,625.36 1986.12,626.39 1988.12,627.17 1990.12,627.31 1992.12,626.79 1994.12,629.92 1996.11,628.74 1998.11,630.47 2000.11,632.32 2002.11,631.38 2004.11,626.63 2006.11,627.53 2008.1,625.88 2010.1,624.26 2012.1,623.97 2014.1,621.92 2016.1,620.61 2018.1,619.99 2020.09,618.94 2022.09,620.96 2024.09,618.89 2026.09,619.91 2028.09,618.42 2030.09,618.13 2032.09,617.84 2034.08,618.54 2036.08,619.86 2038.08,618.86 2040.08,618.32 2042.08,620.75 2044.08,619.1 2046.07,620.7 2048.07,619.98 2050.07,622.01 2052.07,621.48 2054.07,621.92 2056.07,622.12 2058.07,621.86 2060.06,623.05 2062.06,623.65 2064.06,623.86 2066.06,622.68 2068.06,624.63 2070.06,623.62 2072.05,623.9 2074.05,622.97 2076.05,625.3 2078.05,626.01 2080.05,626.19 2082.05,626.92 2084.05,625.14 2086.04,627.38 2088.04,626.59 2090.04,626.26 2092.04,627.71 2094.04,628.73 2096.04,628.19 2098.03,629.14 2100.03,629.14 2102.03,630.64 2104.03,632.49 2106.03,631.46 2108.03,630.89 2110.03,634.92 2112.02,634.63 2114.02,634.45 2116.02,637.22 2118.02,636.1 2120.02,637.15 2122.02,635.91 2124.01,637.93 2126.01,637 2128.01,637.63 2130.01,638.73 2132.01,639.93 2134.01,640.75 2136.01,639.81 2138,641.92 2140,640.36 2142,639.86 2144,639.28 2146,641.23 2148,639.14 2149.99,637.21 2151.99,638.29 2153.99,638.87 2155.99,636.97 2157.99,636.92 2159.99,636.75 2161.99,633.96 2163.98,634.35 2165.98,632.67 2167.98,632.92 2169.98,629.47 2171.98,629.39 2173.98,628.73 2175.97,628.98 2177.97,624.82 2179.97,624.85 2181.97,625.47 2183.97,623.33 2185.97,623.63 2187.97,620.63 2189.96,621.68 2191.96,622.05 2193.96,621.83 2195.96,622.75 2197.96,621.5 2199.96,619.9 2201.95,622.06 2203.95,620.79 2205.95,622.37 2207.95,620.97 2209.95,618.34 2211.95,619.52 2213.95,620.34 2215.94,619.6 2217.94,619.47 2219.94,618.69 2221.94,619.79 2223.94,617.78 2225.94,618.48 2227.93,620.73 2229.93,621.21 2231.93,619.15 2233.93,618.41 2235.93,618.37 2237.93,616.23 2239.93,618.18 2241.92,618.6 2243.92,618.01 2245.92,618.68 2247.92,618.39 2249.92,616.81 2251.92,616.73 2253.91,615.35 2255.91,616.13 2257.91,616.4 2259.91,616.25 2261.91,615.52 2263.91,616.75 2265.91,619.44 2267.9,619.19 2269.9,616.57 2271.9,617.47 2273.9,618.17 2275.9,619.4 2277.9,619.89 2279.89,618.26 2281.89,618.53 2283.89,620.87 2285.89,618.43 2287.89,620.18 2289.89,618.41 2291.88,620" fill="none" stroke="#7e2f8e" stroke-width="12.5" stroke-linejoin="round" stroke-linecap="round"/>
</g>
<rect x="1477" y="43.1" width="879" height="310" fill="#fff" stroke="#262626" stroke-width="4"/>
<line x1="1495" y1="85" x2="1678" y2="85" stroke="#0072bd" stroke-width="10"/>
<line x1="1495" y1="156.5" x2="1678" y2="156.5" stroke="#d95319" stroke-width="12.6"/>
<line x1="1495" y1="231.6" x2="1678" y2="231.6" stroke="#edb120" stroke-width="12.6"/>
<line x1="1495" y1="307.6" x2="1678" y2="307.6" stroke="#7e2f8e" stroke-width="12.6"/>
<g><line x1="274.5" y1="973.1" x2="274.5" y2="1615" stroke="#dedede" stroke-width="3.6"/><line x1="526.69" y1="973.1" x2="526.69" y2="1615" stroke="#dedede" stroke-width="3.6"/><line x1="778.88" y1="973.1" x2="778.88" y2="1615" stroke="#dedede" stroke-width="3.6"/><line x1="1031.06" y1="973.1" x2="1031.06" y2="1615" stroke="#dedede" stroke-width="3.6"/><line x1="1283.25" y1="973.1" x2="1283.25" y2="1615" stroke="#dedede" stroke-width="3.6"/><line x1="1535.44" y1="973.1" x2="1535.44" y2="1615" stroke="#dedede" stroke-width="3.6"/><line x1="1787.62" y1="973.1" x2="1787.62" y2="1615" stroke="#dedede" stroke-width="3.6"/><line x1="2039.81" y1="973.1" x2="2039.81" y2="1615" stroke="#dedede" stroke-width="3.6"/><line x1="2292" y1="973.1" x2="2292" y2="1615" stroke="#dedede" stroke-width="3.6"/><line x1="274.5" y1="973.1" x2="2292" y2="973.1" stroke="#dedede" stroke-width="3.6"/><line x1="274.5" y1="1294.05" x2="2292" y2="1294.05" stroke="#dedede" stroke-width="3.6"/><line x1="274.5" y1="1615" x2="2292" y2="1615" stroke="#dedede" stroke-width="3.6"/></g>
<g><line x1="274.5" y1="1615" x2="274.5" y2="1594.5" stroke="#262626" stroke-width="4"/><line x1="274.5" y1="973.1" x2="274.5" y2="993.6" stroke="#262626" stroke-width="4"/><line x1="526.69" y1="1615" x2="526.69" y2="1594.5" stroke="#262626" stroke-width="4"/><line x1="526.69" y1="973.1" x2="526.69" y2="993.6" stroke="#262626" stroke-width="4"/><line x1="778.88" y1="1615" x2="778.88" y2="1594.5" stroke="#262626" stroke-width="4"/><line x1="778.88" y1="973.1" x2="778.88" y2="993.6" stroke="#262626" stroke-width="4"/><line x1="1031.06" y1="1615" x2="1031.06" y2="1594.5" stroke="#262626" stroke-width="4"/><line x1="1031.06" y1="973.1" x2="1031.06" y2="993.6" stroke="#262626" stroke-width="4"/><line x1="1283.25" y1="1615" x2="1283.25" y2="1594.5" stroke="#262626" stroke-width="4"/><line x1="1283.25" y1="973.1" x2="1283.25" y2="993.6" stroke="#262626" stroke-width="4"/><line x1="1535.44" y1="1615" x2="1535.44" y2="1594.5" stroke="#262626" stroke-width="4"/><line x1="1535.44" y1="973.1" x2="1535.44" y2="993.6" stroke="#262626" stroke-width="4"/><line x1="1787.62" y1="1615" x2="1787.62" y2="1594.5" stroke="#262626" stroke-width="4"/><line x1="1787.62" y1="973.1" x2="1787.62" y2="993.6" stroke="#262626" stroke-width="4"/><line x1="2039.81" y1="1615" x2="2039.81" y2="1594.5" stroke="#262626" stroke-width="4"/><line x1="2039.81" y1="973.1" x2="2039.81" y2="993.6" stroke="#262626" stroke-width="4"/><line x1="2292" y1="1615" x2="2292" y2="1594.5" stroke="#262626" stroke-width="4"/><line x1="2292" y1="973.1" x2="2292" y2="993.6" stroke="#262626" stroke-width="4"/><line x1="274.5" y1="973.1" x2="295" y2="973.1" stroke="#262626" stroke-width="4"/><line x1="2292" y1="973.1" x2="2271.5" y2="973.1" stroke="#262626" stroke-width="4"/><line x1="274.5" y1="1294.05" x2="295" y2="1294.05" stroke="#262626" stroke-width="4"/><line x1="2292" y1="1294.05" x2="2271.5" y2="1294.05" stroke="#262626" stroke-width="4"/><line x1="274.5" y1="1615" x2="295" y2="1615" stroke="#262626" stroke-width="4"/><line x1="2292" y1="1615" x2="2271.5" y2="1615" stroke="#262626" stroke-width="4"/></g>
<rect x="274.5" y="973.1" width="2017.5" height="641.9" fill="none" stroke="#262626" stroke-width="4"/>
<g>
<path d="M274.5,973 283,975 288,1200 291.6,1339.5 292.59,1346.1 294.59,1392.42 296.59,1349.87 298.58,1412.4 300.58,1352.28 302.58,1416.8 304.58,1359.35 306.58,1425.93 308.58,1363.34 310.58,1433.91 312.58,1368.28 314.58,1432.81 316.58,1371.56 318.58,1436.57 320.57,1375.47 322.57,1439.9 324.57,1378.25 326.57,1435 328.57,1375.8 330.57,1442.07 332.57,1382.6 334.57,1429.43 336.57,1390.2 338.57,1444.8 340.56,1396.34 342.56,1452.86 344.56,1402.03 346.56,1457.45 348.56,1405.68 350.56,1452.5 352.56,1408.68 354.56,1435.57 356.56,1413.92 358.56,1428.6 360.55,1411.7 362.55,1431.95 364.55,1414.23 366.55,1431.62 368.55,1417.65 370.55,1434.98 372.55,1418.04 374.55,1436.23 376.55,1416.39 378.55,1444.88 380.55,1419.21 382.54,1433.16 384.54,1417.8 386.54,1428.45 388.54,1414.14 390.54,1424.29 392.54,1407.53 394.54,1419.45 396.54,1415.13 398.54,1432.31 400.54,1416.38 402.53,1445.82 404.53,1423.1 406.53,1459.5 408.53,1423.03 410.53,1464.69 412.53,1424.82 414.53,1465.42 416.53,1420.7 418.53,1452.5 420.53,1412.88 422.52,1454.79 424.52,1413.57 426.52,1440.42 428.52,1414.13 430.52,1445.05 432.52,1414.66 434.52,1446.71 436.52,1418.69 438.52,1445.71 440.52,1423.18 442.52,1444.9 444.51,1416.71 446.51,1439.45 448.51,1414.42 450.51,1434.22 452.51,1408.41 454.51,1437.35 456.51,1407.23 458.51,1432.79 460.51,1404.72 462.51,1436.78 464.5,1418.15 466.5,1455.34 468.5,1427.83 470.5,1471.22 472.5,1428.96 474.5,1486.61 476.5,1444.53 478.5,1482.05 480.5,1454.59 482.5,1485.24 484.49,1458.97 486.49,1486.57 488.49,1457.94 490.49,1483.87 492.49,1457.56 494.49,1483.33 496.49,1455.49 498.49,1477.18 500.49,1443.68 502.49,1475.58 504.49,1450.61 506.48,1477.66 508.48,1452.63 510.48,1481.39 512.48,1455.24 514.48,1484.21 516.48,1455.64 518.48,1484.32 520.48,1460.13 522.48,1493.27 524.48,1462.41 526.47,1493.01 528.47,1466.07 530.47,1490.4 532.47,1454.35 534.47,1497.48 536.47,1452.74 538.47,1481.17 540.47,1447.93 542.47,1480.6 544.47,1440.23 546.46,1469.82 548.46,1433.82 550.46,1462.19 552.46,1435.83 554.46,1459.28 556.46,1438 558.46,1453.95 560.46,1436.7 562.46,1450 564.46,1441.37 566.46,1455.76 568.45,1446.21 570.45,1462.08 572.45,1452.42 574.45,1477.5 576.45,1458.32 578.45,1477.1 580.45,1461.31 582.45,1480.19 584.45,1466.12 586.45,1490.29 588.44,1464.88 590.44,1492 592.44,1463.04 594.44,1491.24 596.44,1461.77 598.44,1490.69 600.44,1456.16 602.44,1474.85 604.44,1445.67 606.44,1471.68 608.43,1445.64 610.43,1462.97 612.43,1440.39 614.43,1459.88 616.43,1446.21 618.43,1463.5 620.43,1450.84 622.43,1463.65 624.43,1455.73 626.43,1465.2 628.43,1453.66 630.42,1463.52 632.42,1450.18 634.42,1461.85 636.42,1446.96 638.42,1461.89 640.42,1450.71 642.42,1469.48 644.42,1458.37 646.42,1477.9 648.42,1464.03 650.41,1481.6 652.41,1472.8 654.41,1488.37 656.41,1471.64 658.41,1485.13 660.41,1470.19 662.41,1484.99 664.41,1468.57 666.41,1483.54 668.41,1466.68 670.4,1484.85 672.4,1466.03 674.4,1474.02 676.4,1464.2 678.4,1471.55 680.4,1462.27 682.4,1470.33 684.4,1459.24 686.4,1468.56 688.4,1459.35 690.4,1470.06 692.39,1450.57 694.39,1463.39 696.39,1457.28 698.39,1467.91 700.39,1454.53 702.39,1460.94 704.39,1451.42 706.39,1457.7 708.39,1447.43 710.39,1454.32 712.38,1448.4 714.38,1456.01 716.38,1444.85 718.38,1453.26 720.38,1438.42 722.38,1450.53 724.38,1441.55 726.38,1450.1 728.38,1444.98 730.38,1452.69 732.37,1445.7 734.37,1469.18 736.37,1451.86 738.37,1459.73 740.37,1451.17 742.37,1470.24 744.37,1456.46 746.37,1464.73 748.37,1458.88 750.37,1464.28 752.37,1459.93 754.36,1475.49 756.36,1458.22 758.36,1479.69 760.36,1460.17 762.36,1466.61 764.36,1461.7 766.36,1473.86 768.36,1463.34 770.36,1475.98 772.36,1468.14 774.35,1475.11 776.35,1470.33 778.35,1478.96 780.35,1474.1 782.35,1484.49 784.35,1474.89 786.35,1489.1 788.35,1479.77 790.35,1485.96 792.35,1480.78 794.34,1492.7 796.34,1483.13 798.34,1488.96 800.34,1484.63 802.34,1491.23 804.34,1486.97 806.34,1495 808.34,1488.47 810.34,1498.35 812.34,1484.68 814.34,1498.08 816.33,1485.29 818.33,1494.94 820.33,1483.05 822.33,1491.96 824.33,1482.75 826.33,1487.81 828.33,1481.47 830.33,1497.35 832.33,1480.8 834.33,1485.53 836.32,1474.25 838.32,1484.26 840.32,1472.28 842.32,1482.52 844.32,1474.07 846.32,1486.94 848.32,1472.02 850.32,1481.87 852.32,1468.54 854.32,1486.91 856.31,1469.44 858.31,1479.66 860.31,1471.51 862.31,1479.41 864.31,1471.99 866.31,1477.16 868.31,1469.64 870.31,1477.65 872.31,1471.87 874.31,1478.93 876.31,1462.99 878.3,1474.53 880.3,1468.99 882.3,1475.47 884.3,1465.09 886.3,1471.67 888.3,1464.1 890.3,1469.48 892.3,1465.52 894.3,1471.52 896.3,1467.08 898.29,1476.05 900.29,1464.31 902.29,1477.66 904.29,1470.95 906.29,1479.51 908.29,1474.06 910.29,1482.77 912.29,1474.07 914.29,1484.81 916.29,1477.65 918.28,1488.24 920.28,1479.96 922.28,1483.52 924.28,1476.88 926.28,1482.88 928.28,1475.31 930.28,1489.77 932.28,1471.31 934.28,1479.03 936.28,1471.63 938.28,1479.95 940.27,1473.63 942.27,1485.72 944.27,1478.07 946.27,1486.84 948.27,1479.67 950.27,1489.63 952.27,1483.77 954.27,1490.7 956.27,1486.01 958.27,1491.83 960.26,1483.31 962.26,1490.02 964.26,1482.42 966.26,1486.55 968.26,1479.67 970.26,1486.43 972.26,1477.11 974.26,1482.91 976.26,1472.13 978.26,1479.87 980.25,1471.72 982.25,1481.19 984.25,1466.33 986.25,1473.56 988.25,1466.27 990.25,1471.3 992.25,1464.36 994.25,1469.36 996.25,1456.12 998.25,1467.82 1000.25,1456.91 1002.24,1466.55 1004.24,1459.22 1006.24,1468.42 1008.24,1462.55 1010.24,1467.83 1012.24,1454.97 1014.24,1473.06 1016.24,1463.18 1018.24,1470.72 1020.24,1460.96 1022.23,1484.69 1024.23,1459.6 1026.23,1470.17 1028.23,1464.99 1030.23,1470.62 1032.23,1464.26 1034.23,1471.34 1036.23,1463.83 1038.23,1468.26 1040.23,1460.77 1042.22,1468.09 1044.22,1459.66 1046.22,1468.76 1048.22,1460.59 1050.22,1473.83 1052.22,1457.78 1054.22,1465.72 1056.22,1460.56 1058.22,1466.93 1060.22,1458.04 1062.22,1469.36 1064.21,1458.81 1066.21,1470.78 1068.21,1459.47 1070.21,1470.36 1072.21,1462.5 1074.21,1468.87 1076.21,1463.45 1078.21,1471.72 1080.21,1465.21 1082.21,1474.75 1084.2,1465.33 1086.2,1475.64 1088.2,1471.81 1090.2,1481.9 1092.2,1473.64 1094.2,1484.83 1096.2,1479.81 1098.2,1487.74 1100.2,1474.2 1102.2,1487.71 1104.19,1479.35 1106.19,1486.24 1108.19,1477.84 1110.19,1485.71 1112.19,1474.18 1114.19,1483.6 1116.19,1477.07 1118.19,1482.01 1120.19,1474.78 1122.19,1485.13 1124.19,1473.04 1126.18,1483.77 1128.18,1478.65 1130.18,1485.1 1132.18,1478.4 1134.18,1485.04 1136.18,1481.05 1138.18,1489.36 1140.18,1480.24 1142.18,1489.91 1144.18,1475.31 1146.17,1485.67 1148.17,1472.55 1150.17,1486.18 1152.17,1467.96 1154.17,1475.57 1156.17,1465.82 1158.17,1473.17 1160.17,1465.88 1162.17,1471.03 1164.17,1467.17 1166.16,1472.39 1168.16,1465.81 1170.16,1474.55 1172.16,1469.1 1174.16,1479.33 1176.16,1470.23 1178.16,1477.78 1180.16,1475.35 1182.16,1484.36 1184.16,1479.74 1186.16,1490.95 1188.15,1485.51 1190.15,1494.81 1192.15,1491.82 1194.15,1503.91 1196.15,1496.89 1198.15,1501.78 1200.15,1493.18 1202.15,1499.64 1204.15,1486.7 1206.15,1495.12 1208.14,1485.49 1210.14,1491.82 1212.14,1484.1 1214.14,1490.76 1216.14,1480.37 1218.14,1487.22 1220.14,1478.72 1222.14,1485.55 1224.14,1476.98 1226.14,1484.87 1228.13,1472.15 1230.13,1482.59 1232.13,1477.24 1234.13,1483.11 1236.13,1476.23 1238.13,1493.73 1240.13,1476.02 1242.13,1489.86 1244.13,1479.13 1246.13,1487.52 1248.13,1480.63 1250.12,1489.27 1252.12,1485.56 1254.12,1491.55 1256.12,1486.99 1258.12,1496.5 1260.12,1489.46 1262.12,1498.13 1264.12,1488 1266.12,1499.29 1268.12,1490.71 1270.11,1499.59 1272.11,1491.78 1274.11,1511.19 1276.11,1497.39 1278.11,1504.6 1280.11,1496.65 1282.11,1504.22 1284,1290 1285,1290.71 1287,1295.99 1289.01,1307.85 1291.01,1315.51 1293.01,1323.45 1295.02,1327.15 1297.02,1331.88 1299.03,1337.86 1301.03,1339.86 1303.03,1339.7 1305.04,1341.43 1307.04,1341.44 1309.04,1341.29 1311.05,1342.86 1313.05,1342.58 1315.06,1345.44 1317.06,1345.61 1319.06,1347.85 1321.07,1345.69 1323.07,1346.97 1325.07,1349.57 1327.08,1348.44 1329.08,1350.34 1331.09,1347.13 1333.09,1348.64 1335.09,1350.33 1337.1,1349.64 1339.1,1348.54 1341.1,1352.34 1343.11,1351.28 1345.11,1352.84 1347.11,1352.26 1349.12,1352.77 1351.12,1353.86 1353.13,1353.92 1355.13,1357.27 1357.13,1355.78 1359.14,1355.37 1361.14,1357.51 1363.14,1357.18 1365.15,1359.38 1367.15,1358.69 1369.16,1359.29 1371.16,1360.24 1373.16,1360.86 1375.17,1360.51 1377.17,1360.55 1379.17,1362.04 1381.18,1363.27 1383.18,1364.83 1385.19,1362.97 1387.19,1364.24 1389.19,1365.11 1391.2,1366.25 1393.2,1365.27 1395.2,1365.54 1397.21,1368.19 1399.21,1367.57 1401.21,1370.37 1403.22,1367.74 1405.22,1367.33 1407.23,1369.12 1409.23,1369.91 1411.23,1370.12 1413.24,1371.05 1415.24,1372.35 1417.24,1372.4 1419.25,1372.08 1421.25,1369.18 1423.26,1372.18 1425.26,1372.77 1427.26,1370.55 1429.27,1372.13 1431.27,1373.04 1433.27,1374.01 1435.28,1370.69 1437.28,1372.54 1439.29,1374.27 1441.29,1373.67 1443.29,1372.66 1445.3,1375.43 1447.3,1373.61 1449.3,1375.01 1451.31,1375.72 1453.31,1374.88 1455.31,1376.11 1457.32,1377.24 1459.32,1377.57 1461.33,1377.37 1463.33,1376.14 1465.33,1378.77 1467.34,1379.26 1469.34,1380.58 1471.34,1379.29 1473.35,1378.51 1475.35,1378.96 1477.36,1379.82 1479.36,1380.11 1481.36,1379.8 1483.37,1381.79 1485.37,1381.27 1487.37,1382.13 1489.38,1381.05 1491.38,1382.72 1493.39,1380.47 1495.39,1382.31 1497.39,1384.02 1499.4,1382.55 1501.4,1384.11 1503.4,1384.26 1505.41,1385.11 1507.41,1383.67 1509.41,1385.07 1511.42,1385.32 1513.42,1384.8 1515.43,1385.88 1517.43,1386.02 1519.43,1385.82 1521.44,1387.25 1523.44,1388.64 1525.44,1388.57 1527.45,1388.98 1529.45,1389.79 1531.46,1389.26 1533.46,1390.22 1535.46,1390.61 1537.47,1391.83 1539.47,1389.07 1541.47,1391.91 1543.48,1392.77 1545.48,1391.31 1547.49,1390.82 1549.49,1391.62 1551.49,1394.15 1553.5,1395.04 1555.5,1392.17 1557.5,1394.61 1559.51,1395.57 1561.51,1396.42 1563.51,1395.42 1565.52,1397.69 1567.52,1399.52 1569.53,1398.33 1571.53,1400.6 1573.53,1400.67 1575.54,1400.6 1577.54,1403.21 1579.54,1404.23 1581.55,1405.18 1583.55,1406.64 1585.56,1404.6 1587.56,1410.05 1589.56,1406.87 1591.57,1408.69 1593.57,1409.93 1595.57,1411.5 1597.58,1411.06 1599.58,1412.34 1601.59,1413.3 1603.59,1411.87 1605.59,1414.53 1607.6,1414.32 1609.6,1416.73 1611.6,1415.36 1613.61,1416.25 1615.61,1418.72 1617.61,1417.49 1619.62,1418.12 1621.62,1418.33 1623.63,1420.58 1625.63,1419.68 1627.63,1419.76 1629.64,1421.43 1631.64,1421.35 1633.64,1422.79 1635.65,1423.23 1637.65,1424.52 1639.66,1424.45 1641.66,1425.03 1643.66,1426.49 1645.67,1424.28 1647.67,1427.13 1649.67,1428.43 1651.68,1427.39 1653.68,1428.05 1655.69,1428.36 1657.69,1429.93 1659.69,1430.17 1661.7,1433 1663.7,1431.8 1665.7,1432.49 1667.71,1432.69 1669.71,1433.08 1671.71,1436.46 1673.72,1435.44 1675.72,1434.79 1677.73,1434.45 1679.73,1436.79 1681.73,1438.21 1683.74,1438.05 1685.74,1440.92 1687.74,1439.18 1689.75,1440.16 1691.75,1439.99 1693.76,1442.3 1695.76,1442.16 1697.76,1442.77 1699.77,1442.59 1701.77,1444.69 1703.77,1445.39 1705.78,1444.46 1707.78,1446.22 1709.79,1446.73 1711.79,1446.87 1713.79,1447.65 1715.8,1448 1717.8,1448.19 1719.8,1447.67 1721.81,1447.94 1723.81,1449.07 1725.81,1447.77 1727.82,1450.04 1729.82,1450 1731.83,1452.09 1733.83,1451.05 1735.83,1451.44 1737.84,1452.52 1739.84,1450.91 1741.84,1452.82 1743.85,1451.59 1745.85,1454.04 1747.86,1454.11 1749.86,1453.58 1751.86,1453.65 1753.87,1453.33 1755.87,1455.58 1757.87,1456.98 1759.88,1457.57 1761.88,1456.88 1763.89,1458.8 1765.89,1459.69 1767.89,1460.38 1769.9,1459.01 1771.9,1461.63 1773.9,1462.56 1775.91,1462.47 1777.91,1462.35 1779.91,1465.71 1781.92,1464.73 1783.92,1464.71 1785.93,1467.29 1787.93,1466.63 1789.93,1467.68 1791.94,1470.41 1793.94,1467.31 1795.94,1469.27 1797.95,1470.07 1799.95,1472.05 1801.96,1472.4 1803.96,1473.52 1805.96,1473 1807.97,1474.12 1809.97,1474.47 1811.97,1474.86 1813.98,1476 1815.98,1475.44 1817.99,1479.83 1819.99,1483.25 1821.99,1485.66 1824,1491.87 1826,1492.46 1826,1486.29 1828,1495.25 1830,1497.02 1832,1493.63 1834,1493.05 1836,1494.14 1838,1493.97 1840,1487.77 1842,1493.73 1844,1497.46 1846,1501.4 1848,1495 1850,1501.71 1852,1498.76 1854,1505.58 1856,1499.84 1858,1503.5 1860,1494.74 1862,1497.37 1864,1490.26 1866,1490.14 1868,1491.48 1870,1491.19 1872,1497.63 1874,1495.97 1876,1499.36 1878,1496.76 1880,1498.64 1882,1498.98 1884,1498.09 1886,1503.6 1888,1498.6 1890,1496.34 1892,1500.82 1894,1493.33 1896,1497.11 1898,1491.76 1900,1494.5 1902,1494.78 1904,1487.43 1906,1498.97 1908,1491.55 1910,1498.75 1912,1496.49 1914,1499.36 1916,1506.71 1918,1505.81 1920,1497.34 1922,1505.19 1924,1501.75 1926,1507.01 1928,1504.67 1930,1507.23 1932,1509.31 1934,1498.93 1936,1508.06 1938,1507.01 1940,1505.78 1942,1499.21 1944,1506.8 1946,1505.51 1948,1502.03 1950,1503.07 1952,1504.99 1954,1509.11 1956,1510.25 1958,1500.49 1960,1498.32 1962,1493.61 1964,1496.64 1966,1500.84 1968,1498.05 1970,1495.69 1972,1492.05 1974,1501.77 1976,1492.43 1978,1496.92 1980,1492.24 1982,1492.68 1984,1489.05 1986,1496.17 1988,1485.24 1990,1501.6 1992,1495.22 1994,1496.66 1996,1496.09 1998,1495.73 2000,1497.18 2002,1493.48 2004,1495.93 2006,1505.32 2008,1503.8 2010.01,1504.89 2012.01,1497.87 2014.01,1502.66 2016.01,1504.55 2018.01,1507.75 2020.01,1510.98 2022.01,1511.53 2024.01,1511.55 2026.01,1513.82 2028.01,1510.49 2030.01,1509.34 2032.01,1509.37 2034.01,1504.05 2036.01,1509.21 2038.01,1513.05 2040.01,1511.38 2042.01,1507.2 2044.01,1517.23 2046.01,1508.14 2048.01,1512.16 2050.01,1521.26 2052.01,1516.08 2054.01,1517.3 2056.01,1513.94 2058.01,1505.99 2060.01,1518.98 2062.01,1508.82 2064.01,1511.5 2066.01,1516.41 2068.01,1514.4 2070.01,1524.26 2072.01,1524.17 2074.01,1521.37 2076.01,1526.79 2078.01,1527.97 2080.01,1525.84 2082.01,1520.66 2084.01,1523.57 2086.01,1524.23 2088.01,1524.08 2090.01,1525.91 2092.01,1521.96 2094.01,1524.4 2096.01,1521.85 2098.01,1515.7 2100.01,1514.55 2102.01,1521.26 2104.01,1518.76 2106.01,1514.76 2108.01,1516.92 2110.01,1511.95 2112.01,1514.39 2114.01,1512.42 2116.01,1511.98 2118.01,1514.18 2120.01,1513.08 2122.01,1516.49 2124.01,1512.72 2126.01,1511.18 2128.01,1515.89 2130.01,1514.53 2132.01,1522.07 2134.01,1519.79 2136.01,1524.5 2138.01,1518.52 2140.01,1525.13 2142.01,1522.36 2144.01,1529.92 2146.01,1528.72 2148.01,1532.31 2150.01,1531.25 2152.01,1526.03 2154.01,1519.94 2156.01,1530.63 2158.01,1521.57 2160.01,1527 2162.01,1535.5 2164.01,1531.77 2166.01,1529.9 2168.01,1538.41 2170.01,1524.01 2172.01,1528.21 2174.01,1532.43 2176.01,1519.97 2178.01,1527.82 2180.01,1529.49 2182.01,1521.55 2184.01,1518.03 2186.01,1518.94 2188.01,1520.01 2190.01,1516.48 2192.01,1512.97 2194.01,1514.99 2196.01,1519.33 2198.01,1515.68 2200.01,1521.67 2202.01,1514.76 2204.01,1520.18 2206.01,1513.67 2208.01,1519.15 2210.01,1516.69 2212.01,1519.18 2214.01,1511.22 2216.01,1512.34 2218.01,1510.74 2220.01,1517.91 2222.01,1517.51 2224.01,1516.63 2226.01,1505.88 2228.01,1504.75 2230.01,1509.47 2232.01,1502.65 2234.01,1505.09 2236.01,1505.72 2238.01,1501.11 2240.01,1497.43 2242.01,1499.11 2244.01,1510.34 2246.01,1509.52 2248.01,1503.47 2250.01,1508.32 2252.01,1506.86 2254.01,1500.84 2256.01,1506.68 2258.01,1515.6 2260.01,1504.4 2262.01,1505.78 2264.01,1505.08 2266.01,1507.78 2268.01,1504.8 2270.01,1498.67 2272.01,1504.99 2274.01,1500.66 2276.01,1511.12 2278.01,1509.42 2280.01,1508.84 2282.01,1510.3 2284.01,1519.75 2286.01,1521.11 2288.01,1525.31 2290.01,1522.25 2292.01,1518.44" fill="none" stroke="#0072bd" stroke-width="10.4" stroke-linejoin="round" stroke-linecap="round"/>
<path d="M274.5,973 276,1010 281.7,1150 286.5,1250 288,1247.69 290,1338.47 292,1243.49 294.01,1343.37 296.01,1248.34 298.01,1341.46 300.01,1233.84 302.01,1337.22 304.02,1227.23 306.02,1342.8 308.02,1247.53 310.02,1351.68 312.02,1252.4 314.03,1345.63 316.03,1224.84 318.03,1343.92 320.03,1226.94 322.03,1351.26 324.04,1253.42 326.04,1344.19 328.04,1247.37 330.04,1347.85 332.04,1249.07 334.05,1346.3 336.05,1251.26 338.05,1349.52 340.05,1237.74 342.05,1349.47 344.06,1251.71 346.06,1346.24 348.06,1246.31 350.06,1347.97 352.06,1247.86 354.07,1348.27 356.07,1219.56 358.07,1344.42 360.07,1238.12 362.07,1347.79 364.08,1247.45 366.08,1341.47 368.08,1227.07 370.08,1344.4 372.08,1251.17 374.09,1338.98 376.09,1247.78 378.09,1341.23 380.09,1231.25 382.09,1340.75 384.1,1238.27 386.1,1346.54 388.1,1256.01 390.1,1350.51 392.1,1256.29 394.11,1350 396.11,1249.39 398.11,1348.21 400.11,1227.77 402.11,1349.45 404.12,1244.46 406.12,1366.15 408.12,1237.41 410.12,1348.37 412.12,1249.95 414.13,1343.91 416.13,1241.44 418.13,1353.31 420.13,1243.8 422.14,1353.59 424.14,1255.94 426.14,1348.74 428.14,1256.72 430.14,1350.88 432.15,1253.98 434.15,1354.71 436.15,1247.58 438.15,1345.96 440.15,1248.69 442.16,1352.43 444.16,1256.34 446.16,1363.88 448.16,1257.84 450.16,1353.25 452.17,1255.07 454.17,1353.19 456.17,1238.79 458.17,1355.91 460.17,1249.14 462.18,1353.33 464.18,1257.48 466.18,1346.42 468.18,1249.51 470.18,1347.18 472.19,1246 474.19,1342 476.19,1245.52 478.19,1350.28 480.19,1249.92 482.2,1342.42 484.2,1241.67 486.2,1342.96 488.2,1245.93 490.2,1338.4 492.21,1228.04 494.21,1338.46 496.21,1239.8 498.21,1341.1 500.21,1242.5 502.22,1339.16 504.22,1246.08 506.22,1343.8 508.22,1243.85 510.22,1342.95 512.23,1219.96 514.23,1340.27 516.23,1243.54 518.23,1349.09 520.23,1250.1 522.24,1343.54 524.24,1247.85 526.24,1346.13 528.24,1244.28 530.24,1342.45 532.25,1247.08 534.25,1346.22 536.25,1247.16 538.25,1344.64 540.25,1255.78 542.26,1345.35 544.26,1246.38 546.26,1346.67 548.26,1249.77 550.26,1340.04 552.27,1241.34 554.27,1337.95 556.27,1245.76 558.27,1337.14 560.27,1231.57 562.28,1344.23 564.28,1250.15 566.28,1350.92 568.28,1251.45 570.28,1343.52 572.29,1249.76 574.29,1349.64 576.29,1254.08 578.29,1350.73 580.29,1249.26 582.3,1343.41 584.3,1232.07 586.3,1342.03 588.3,1251.67 590.3,1347.42 592.31,1249.38 594.31,1349.69 596.31,1244.32 598.31,1341.04 600.31,1246.87 602.32,1345.61 604.32,1234.96 606.32,1340.86 608.32,1242.58 610.32,1345.77 612.33,1248.12 614.33,1345.86 616.33,1244.86 618.33,1340.42 620.33,1244.94 622.34,1339.42 624.34,1242.72 626.34,1334.77 628.34,1226.96 630.34,1343.13 632.35,1240.81 634.35,1336.55 636.35,1222.89 638.35,1337.21 640.35,1243.61 642.36,1339.46 644.36,1234.93 646.36,1343.26 648.36,1246.17 650.36,1342 652.37,1225.2 654.37,1347.28 656.37,1250.51 658.37,1346.04 660.38,1233.47 662.38,1342.77 664.38,1249.04 666.38,1338.1 668.38,1228.35 670.39,1340.09 672.39,1238.34 674.39,1336.03 676.39,1245.76 678.39,1336.38 680.4,1234.2 682.4,1334.99 684.4,1242.23 686.4,1344.53 688.4,1242.54 690.41,1338.29 692.41,1249.99 694.41,1348.71 696.41,1250.82 698.41,1341.54 700.42,1248.14 702.42,1347.68 704.42,1249.05 706.42,1341.74 708.42,1253.14 710.43,1341.76 712.43,1242.81 714.43,1340.83 716.43,1243.73 718.43,1347.41 720.44,1243.56 722.44,1340.26 724.44,1247.39 726.44,1341.78 728.44,1242.62 730.45,1340.34 732.45,1244.66 734.45,1337.14 736.45,1250.2 738.45,1343.47 740.46,1254.22 742.46,1346.77 744.46,1250.17 746.46,1342.55 748.46,1248.04 750.47,1350.96 752.47,1244.42 754.47,1342.01 756.47,1249.86 758.47,1350.88 760.48,1256.64 762.48,1357.92 764.48,1245.57 766.48,1349.78 768.48,1254.26 770.49,1346.7 772.49,1249.81 774.49,1344.65 776.49,1248.24 778.49,1349.45 780.5,1250.94 782.5,1354.53 784.5,1245.84 786.5,1347.85 788.5,1255.22 790.51,1348.49 792.51,1243.68 794.51,1340.28 796.51,1251.77 798.51,1348.75 800.52,1246.8 802.52,1344.12 804.52,1247.44 806.52,1350.33 808.52,1248.98 810.53,1350.41 812.53,1258.92 814.53,1344.98 816.53,1246.13 818.53,1357.03 820.54,1256.03 822.54,1346.78 824.54,1257.62 826.54,1359.71 828.54,1255.27 830.55,1359.06 832.55,1249.33 834.55,1351.87 836.55,1223.32 838.55,1345.57 840.56,1251.72 842.56,1344.31 844.56,1250.74 846.56,1347.08 848.56,1251.21 850.57,1347.12 852.57,1252.18 854.57,1340.56 856.57,1252.45 858.57,1344.64 860.58,1249.19 862.58,1354.35 864.58,1257.35 866.58,1346.7 868.58,1256.63 870.59,1343.52 872.59,1255.21 874.59,1347.52 876.59,1240.75 878.59,1350.3 880.6,1251.37 882.6,1343.3 884.6,1250.02 886.6,1345.43 888.6,1251.86 890.61,1346.43 892.61,1248.45 894.61,1342.58 896.61,1236.02 898.61,1350.96 900.62,1247.29 902.62,1343.31 904.62,1249.75 906.62,1340.8 908.62,1243.18 910.63,1345.01 912.63,1255.26 914.63,1353.19 916.63,1245.22 918.64,1346.3 920.64,1248.52 922.64,1343.93 924.64,1254.75 926.64,1345.92 928.65,1250.39 930.65,1341 932.65,1248.19 934.65,1342.94 936.65,1246.51 938.66,1336.97 940.66,1244.87 942.66,1345.2 944.66,1248.27 946.66,1350.91 948.67,1252.47 950.67,1352.61 952.67,1231.33 954.67,1341.35 956.67,1253.83 958.68,1343.96 960.68,1251.99 962.68,1344.97 964.68,1244.45 966.68,1361.68 968.69,1248.67 970.69,1342.44 972.69,1251.14 974.69,1350.31 976.69,1238.48 978.7,1346.53 980.7,1220.72 982.7,1340.7 984.7,1241.2 986.7,1338.7 988.71,1245.82 990.71,1343.23 992.71,1250.16 994.71,1343.24 996.71,1247.48 998.72,1339.85 1000.72,1250.85 1002.72,1342.39 1004.72,1239.97 1006.72,1343.35 1008.73,1246.44 1010.73,1334.14 1012.73,1240.03 1014.73,1334.32 1016.73,1238.93 1018.74,1339.89 1020.74,1247.41 1022.74,1350.76 1024.74,1248.57 1026.74,1336.01 1028.75,1245.29 1030.75,1349.3 1032.75,1240.9 1034.75,1353.41 1036.75,1254.73 1038.76,1347.02 1040.76,1256.57 1042.76,1346.72 1044.76,1254.42 1046.76,1343.77 1048.77,1248.28 1050.77,1346.78 1052.77,1232.35 1054.77,1347.07 1056.77,1243.41 1058.78,1355.98 1060.78,1251.51 1062.78,1343.86 1064.78,1250 1066.78,1344.8 1068.79,1251.59 1070.79,1346.39 1072.79,1246.15 1074.79,1342.72 1076.79,1252.69 1078.8,1340.16 1080.8,1250.12 1082.8,1342.55 1084.8,1252.29 1086.8,1365.09 1088.81,1255.23 1090.81,1346.81 1092.81,1251.85 1094.81,1346.3 1096.81,1243.37 1098.82,1360.37 1100.82,1250.41 1102.82,1340.75 1104.82,1241.52 1106.82,1338.06 1108.83,1245.52 1110.83,1346.82 1112.83,1234.77 1114.83,1341.27 1116.83,1240 1118.84,1343.67 1120.84,1243.62 1122.84,1341.56 1124.84,1251.81 1126.84,1344.87 1128.85,1228.49 1130.85,1339.7 1132.85,1222.03 1134.85,1352.88 1136.85,1240.72 1138.86,1339.69 1140.86,1231.94 1142.86,1340.8 1144.86,1248.24 1146.86,1342.33 1148.87,1241.11 1150.87,1337.68 1152.87,1242.15 1154.87,1337.8 1156.88,1235.24 1158.88,1343.28 1160.88,1246.82 1162.88,1340.07 1164.88,1245.86 1166.89,1347.31 1168.89,1232.1 1170.89,1344.99 1172.89,1246.45 1174.89,1354.45 1176.9,1251.55 1178.9,1343.95 1180.9,1240.61 1182.9,1347.87 1184.9,1251.65 1186.91,1351.5 1188.91,1248.11 1190.91,1344.69 1192.91,1240.43 1194.91,1355.45 1196.92,1252.43 1198.92,1351.39 1200.92,1257.84 1202.92,1345.96 1204.92,1250.02 1206.93,1341.9 1208.93,1254.1 1210.93,1343.8 1212.93,1251.65 1214.93,1345.4 1216.94,1249.56 1218.94,1344.22 1220.94,1249.12 1222.94,1337.45 1224.94,1251.45 1226.95,1344.57 1228.95,1258.81 1230.95,1350.86 1232.95,1253.91 1234.95,1347.1 1236.96,1245.9 1238.96,1350.87 1240.96,1248.02 1242.96,1349.26 1244.96,1244.81 1246.97,1341.54 1248.97,1252.09 1250.97,1348.93 1252.97,1251.42 1254.97,1342.02 1256.98,1247.35 1258.98,1338.06 1260.98,1246.27 1262.98,1338.13 1264.98,1240.58 1266.99,1341.35 1268.99,1253.49 1270.99,1346.28 1272.99,1239.78 1274.99,1342.45 1277,1254.29 1279,1356.77 1281,1246.31 1283.25,1290 1283.75,973 1286.5,1020 1291,1180 1296,1240 1298,1230.63 1300,1341.27 1302,1242.82 1304,1341.47 1306,1235.39 1308,1342.66 1310,1234.34 1312,1339.8 1314,1217.68 1316,1342.32 1318,1252.95 1320,1341.83 1322,1251.77 1324,1347.45 1326,1252.55 1328,1342.36 1330,1251.09 1332,1340.06 1334,1251.22 1336,1341.77 1338,1248.4 1340,1354.08 1342,1249.89 1344,1361.47 1346,1242.85 1348,1360.39 1350,1251.42 1352,1349.88 1354,1242.73 1356,1348.63 1358,1259.51 1360,1351.61 1362,1254.11 1364,1345.7 1366,1255.7 1368,1350.77 1370,1252.43 1372,1352.84 1374,1244.12 1376,1338.86 1378,1248.71 1380,1340.54 1382,1248.49 1384,1346.65 1386,1250.98 1388,1345.3 1390,1253.18 1392,1344.25 1394,1255.53 1396,1347.24 1398,1256.06 1400,1350.05 1402,1257.34 1404,1349.67 1406,1248.13 1408,1353.34 1410,1256.02 1412,1359.64 1414,1245.88 1416,1354.25 1418,1253.51 1420,1362.07 1422,1250.71 1424,1353.54 1426,1253.45 1428,1356.86 1430,1249.34 1432,1358.15 1434,1253.91 1436,1347.54 1438,1254.44 1440,1343.41 1442,1247.68 1444,1342.51 1446,1233.72 1448,1339.38 1450,1247.46 1452,1338.74 1454,1248.23 1456,1339.49 1458,1244.93 1460,1347.25 1462,1247.18 1464,1349.11 1466,1253.13 1468,1344.68 1470,1247.9 1472,1342.47 1474,1235 1476,1343.12 1478,1240.14 1480,1364.53 1482,1244.79 1484,1342.37 1486,1242.97 1488,1348.82 1490,1244.3 1492,1348.13 1494,1243.07 1496,1349.04 1498,1234.04 1500,1355.2 1502,1246.63 1504,1347.09 1506,1245.43 1508,1357.07 1510,1246.98 1512,1346.78 1514,1246.41 1516,1343.81 1518,1247.54 1520,1351.88 1522,1246.56 1524,1345.22 1526,1230.24 1528,1342.99 1530,1237.37 1532,1346.68 1534,1238.89 1536,1346.83 1538,1240.66 1540,1351.27 1542,1236.2 1544,1341.11 1546,1237.8 1548,1344.78 1550,1225.24 1552,1339.48 1554,1242.38 1556,1359.99 1558,1247.74 1560,1349.49 1562,1230.91 1564,1347.44 1566,1246.05 1568,1350.23 1570,1247.15 1572,1351.67 1574,1236.75 1576,1346.47 1578,1247.91 1580,1348.66 1582,1248.62 1584,1348.79 1586,1243.69 1588,1347.08 1590,1245.95 1592,1345.52 1594,1238.37 1596,1352.9 1598,1246.5 1600,1346 1602,1237.24 1604,1343.39 1606,1212.28 1608,1347.56 1610,1219.36 1612,1335.82 1614,1241.35 1616,1342.65 1618,1236.55 1620,1339.88 1622,1240.45 1624,1342.76 1626,1229.44 1628,1333.62 1630,1240.01 1632,1343.37 1634,1235.4 1636,1339.44 1638,1222.71 1640,1337.91 1642,1238.75 1644,1339.36 1646,1237.84 1648,1344.9 1650,1235.75 1652,1338.91 1654,1238.46 1656,1351.46 1658,1240.7 1660,1349.97 1662,1228.87 1664,1347.66 1666,1236.81 1668,1338.13 1670,1216.75 1672,1341.5 1674,1241.35 1676,1345.3 1678,1240.18 1680,1349.83 1682,1242.82 1684,1350.99 1686,1232.06 1688,1342.89 1690,1241.12 1692,1346.07 1694,1244.94 1696,1348.58 1698,1244.13 1700,1350.43 1702,1241.59 1704,1343.79 1706,1226.53 1708,1343.13 1710,1239.19 1712,1340.75 1714,1240.46 1716,1347.47 1718,1227.83 1720,1343.1 1722,1240.69 1724,1344.88 1726,1246.94 1728,1358.65 1730,1244.49 1732,1342.47 1734,1245.91 1736,1342.59 1738,1235.87 1740,1343.62 1742,1247.16 1744,1356.62 1746,1247.86 1748,1353.5 1750,1243.31 1752,1338.87 1754,1242.71 1756,1340.16 1758,1233.45 1760,1337.47 1762,1217.26 1764,1351.29 1766,1233.87 1768,1358.36 1770,1229.35 1772,1357.8 1774,1237.65 1776,1335.78 1778,1236.31 1780,1338.9 1782,1241.97 1784,1361.26 1786,1233.64 1788,1336.67 1790,1212.98 1792,1333.11 1794,1227.82 1796,1332.25 1798,1237.57 1800,1338.13 1802,1230.2 1804,1336.87 1806,1235.64 1808,1346.51 1810,1242.32 1812,1342.43 1814,1242.95 1816,1351.55 1818,1241.97 1820,1349.11 1822,1246.28 1824,1350.36 1826,1243.97 1828,1345.68 1830,1247.49 1832,1346.14 1834,1243.42 1836,1348.8 1838,1235.28 1840,1344.1 1842,1244.88 1844,1349.66 1846,1234.02 1848,1353.58 1850,1253.55 1852,1355.21 1854,1237.11 1856,1346.17 1858,1247.89 1860,1344.46 1862,1238.71 1864,1346 1866,1238.66 1868,1338.01 1870,1239.13 1872,1337.27 1874,1240.35 1876,1342.68 1878,1239.43 1880,1344.37 1882,1244.27 1884,1347.82 1886,1241.62 1888,1342.47 1890,1242.78 1892,1347.86 1894,1224.99 1896,1351.7 1898,1249.88 1900,1352.74 1902,1240.8 1904,1343.52 1906,1241.94 1908,1338.43 1910,1243.56 1912,1338.82 1914,1243.02 1916,1343.94 1918,1232.63 1920,1340.06 1922,1240.14 1924,1339.5 1926,1240.16 1928,1336.3 1930,1236.33 1932,1343.64 1934,1231.91 1936,1340.61 1938,1234.64 1940,1360.35 1942,1231.87 1944,1344.99 1946,1243.26 1948,1361.42 1950,1246.72 1952,1353.43 1954,1244.14 1956,1358.66 1958,1237.9 1960,1347.8 1962,1244.34 1964,1342.47 1966,1237.33 1968,1348.11 1970,1241.45 1972,1348.45 1974,1240 1976,1352.78 1978,1246.57 1980,1341.58 1982,1240.19 1984,1340.84 1986,1244.14 1988,1354.81 1990,1230.63 1992,1339.25 1994,1244.11 1996,1340.62 1998,1243.61 2000,1341.72 2002,1233.85 2004,1344.03 2006,1242.58 2008,1344.2 2010,1244.55 2012,1350.57 2014,1246.32 2016,1339.86 2018,1235.7 2020,1338.39 2022,1240.4 2024,1341.65 2026,1213.32 2028,1340.27 2030,1215.1 2032,1353.11 2034,1235.59 2036,1344.08 2038,1239.85 2040,1356.33 2042,1236.22 2044,1347.51 2046,1247.98 2048,1343.55 2050,1241.94 2052,1349.99 2054,1241.5 2056,1348.05 2058,1247.17 2060,1344.85 2062,1246.52 2064,1345.53 2066,1248.46 2068,1351.71 2070,1245.2 2072,1355.03 2074,1248.99 2076,1353.25 2078,1232.61 2080,1343.07 2082,1242.48 2084,1347.06 2086,1229.21 2088,1342.92 2090,1242.17 2092,1344.13 2094,1234.88 2096,1344.57 2098,1241.88 2100,1343.53 2102,1238.21 2104,1340.08 2106,1244.91 2108,1340.86 2110,1231.07 2112,1362.83 2114,1243.19 2116,1343.7 2118,1242.19 2120,1344.4 2122,1245.26 2124,1342.97 2126,1233.97 2128,1341.99 2130,1240.46 2132,1343.86 2134,1242.16 2136,1343.71 2138,1242.35 2140,1337.48 2142,1235.76 2144,1344.16 2146,1220.62 2148,1345.09 2150,1243.22 2152,1346.7 2154,1240.45 2156,1342.12 2158,1238.73 2160,1343.93 2162,1235.45 2164,1347.7 2166,1244.2 2168,1340.84 2170,1243.66 2172,1354.6 2174,1228.85 2176,1344.86 2178,1236.64 2180,1352.23 2182,1239.36 2184,1345.67 2186,1234.26 2188,1337.5 2190,1232.96 2192,1340.65 2194,1237.8 2196,1343.56 2198,1241.94 2200,1349.56 2202,1241.22 2204,1347.85 2206,1255.2 2208,1355.77 2210,1245.13 2212,1349.81 2214,1251.49 2216,1357.18 2218,1225.85 2220,1362.54 2222,1250.43 2224,1353.53 2226,1252.3 2228,1353.28 2230,1249.53 2232,1363.07 2234,1235.86 2236,1347.46 2238,1243.17 2240,1351.95 2242,1219.74 2244,1348.36 2246,1246.45 2248,1349.01 2250,1247.04 2252,1350.03 2254,1236.56 2256,1354.59 2258,1238.35 2260,1345.02 2262,1241.93 2264,1342.58 2266,1245.59 2268,1348.05 2270,1248.72 2272,1345.77 2274,1238.84 2276,1343 2278,1244.44 2280,1346.67 2282,1230.62 2284,1341.51 2286,1239.31 2288,1348.11 2290,1235.3 2292,1344.7" fill="none" stroke="#d95319" stroke-width="12.5" stroke-linejoin="round" stroke-linecap="round"/>
<path d="M274.5,969.04 276.48,991.57 278.47,1010.85 280.45,1037.94 282.44,1051.47 284.42,1116.78 286.41,1094.45 288.39,1134.29 290.38,1127.63 292.36,1160.68 294.35,1157.19 296.33,1201.58 298.32,1176.92 300.3,1248 302.29,1193.86 304.27,1254.13 306.26,1209.62 308.24,1262.64 310.23,1224.13 312.21,1276.6 314.2,1238.95 316.18,1304.05 318.17,1256.93 320.15,1326.02 322.14,1273.48 324.12,1346.98 326.11,1292.24 328.09,1363.73 330.08,1311.84 332.06,1376.2 334.05,1315.85 336.03,1382.42 338.02,1315.48 340,1394.79 342,1312.62 344,1389 346,1304.85 347.99,1389.52 349.99,1323.34 351.99,1406.4 353.99,1320.32 355.99,1394.76 357.98,1317.82 359.98,1393.86 361.98,1320.2 363.98,1397.53 365.97,1308.1 367.97,1405.24 369.97,1315.25 371.97,1396.89 373.97,1321.78 375.96,1398.54 377.96,1318.5 379.96,1399.53 381.96,1323.49 383.96,1428.06 385.95,1321.06 387.95,1424.39 389.95,1317.86 391.95,1409.57 393.94,1320.52 395.94,1396.35 397.94,1316.63 399.94,1400.7 401.94,1321.27 403.93,1395.71 405.93,1322.06 407.93,1399.07 409.93,1322.4 411.93,1397.61 413.92,1313.32 415.92,1435.54 417.92,1320.74 419.92,1396.58 421.91,1320.82 423.91,1398.04 425.91,1324.29 427.91,1403.8 429.91,1319.1 431.9,1394.31 433.9,1321.27 435.9,1397.07 437.9,1317.4 439.9,1396.07 441.89,1318.82 443.89,1393.43 445.89,1317.26 447.89,1402.94 449.89,1318.07 451.88,1398.95 453.88,1303.95 455.88,1402.55 457.88,1324.51 459.87,1402.44 461.87,1311.13 463.87,1401.96 465.87,1318.96 467.87,1421.6 469.86,1319.01 471.86,1408.79 473.86,1328.22 475.86,1418.76 477.86,1320.58 479.85,1414.19 481.85,1329.86 483.85,1403.93 485.85,1313.16 487.84,1395.66 489.84,1319.34 491.84,1409.6 493.84,1321.31 495.84,1402.4 497.83,1318.67 499.83,1395.95 501.83,1322.24 503.83,1393 505.83,1320.82 507.82,1396.24 509.82,1310.77 511.82,1421.97 513.82,1318.49 515.81,1395.35 517.81,1315.5 519.81,1395.61 521.81,1320.93 523.81,1398.05 525.8,1318.33 527.8,1390.49 529.8,1314.97 531.8,1389.26 533.8,1315.26 535.79,1418.02 537.79,1319.42 539.79,1405.13 541.79,1310.62 543.79,1397.32 545.78,1320.73 547.78,1394.61 549.78,1327.4 551.78,1406.13 553.77,1322.82 555.77,1420.5 557.77,1324.99 559.77,1396.48 561.77,1322.75 563.76,1406.62 565.76,1325.26 567.76,1400.56 569.76,1321.53 571.76,1408.08 573.75,1316.31 575.75,1414.01 577.75,1315.56 579.75,1411.29 581.74,1311.98 583.74,1390.39 585.74,1316.4 587.74,1405.3 589.74,1312.57 591.73,1395.26 593.73,1291.71 595.73,1398.21 597.73,1316.27 599.73,1400.9 601.72,1304.03 603.72,1395.05 605.72,1304.35 607.72,1397.48 609.71,1320.82 611.71,1401.74 613.71,1315.74 615.71,1401.31 617.71,1319.98 619.7,1409.22 621.7,1319.37 623.7,1402.46 625.7,1316.8 627.7,1399.75 629.69,1318.03 631.69,1395.55 633.69,1315.4 635.69,1404.86 637.69,1314.7 639.68,1395.33 641.68,1315.38 643.68,1406.74 645.68,1322.88 647.67,1396.97 649.67,1319.07 651.67,1405.1 653.67,1320.74 655.67,1408.32 657.66,1314.91 659.66,1397.55 661.66,1314.01 663.66,1393.43 665.66,1313.07 667.65,1388.71 669.65,1311.53 671.65,1400.78 673.65,1313.97 675.64,1402.54 677.64,1324.69 679.64,1413.68 681.64,1315.21 683.64,1398.46 685.63,1322.66 687.63,1399.54 689.63,1314.61 691.63,1402.28 693.63,1318.82 695.62,1407.05 697.62,1320.83 699.62,1395.91 701.62,1308.47 703.61,1397.29 705.61,1325.82 707.61,1401.65 709.61,1322.45 711.61,1399.02 713.6,1314.32 715.6,1397.65 717.6,1302.03 719.6,1399.18 721.6,1305.88 723.59,1424.32 725.59,1316.95 727.59,1407.78 729.59,1321.44 731.59,1416.86 733.58,1317.57 735.58,1398.32 737.58,1303.63 739.58,1397.51 741.57,1322.82 743.57,1395.69 745.57,1315.66 747.57,1402.76 749.57,1324.55 751.56,1401.15 753.56,1316.9 755.56,1429.43 757.56,1325.05 759.56,1415.48 761.55,1317.77 763.55,1403.13 765.55,1320.12 767.55,1436.15 769.54,1306.01 771.54,1405.24 773.54,1321.16 775.54,1398.52 777.54,1316.46 779.53,1423.34 781.53,1320.69 783.53,1403.65 785.53,1327.93 787.53,1410.76 789.52,1319.79 791.52,1405.83 793.52,1313.45 795.52,1398.91 797.51,1322.17 799.51,1392.69 801.51,1311.55 803.51,1389.84 805.51,1318.2 807.5,1397.26 809.5,1309.79 811.5,1396.84 813.5,1318.25 815.5,1398.76 817.49,1320.94 819.49,1429.94 821.49,1316.73 823.49,1390.4 825.49,1307.79 827.48,1405.07 829.48,1309.65 831.48,1390.82 833.48,1309.7 835.47,1402.24 837.47,1305.3 839.47,1404.63 841.47,1324.81 843.47,1411.97 845.46,1318.37 847.46,1413.27 849.46,1325.39 851.46,1411.45 853.46,1321.8 855.45,1398.32 857.45,1320.18 859.45,1393.98 861.45,1308.06 863.44,1400.3 865.44,1318.59 867.44,1399.74 869.44,1326.13 871.44,1404.78 873.43,1316.06 875.43,1400 877.43,1321.06 879.43,1399.07 881.43,1317.26 883.42,1401.96 885.42,1307.15 887.42,1400.65 889.42,1307.76 891.41,1410.11 893.41,1313.14 895.41,1396.52 897.41,1322.37 899.41,1401.32 901.4,1323.23 903.4,1400.63 905.4,1320.6 907.4,1404.34 909.4,1313.44 911.39,1407.01 913.39,1323.91 915.39,1405.25 917.39,1320.48 919.39,1399.93 921.38,1309.05 923.38,1400.59 925.38,1314.46 927.38,1397.74 929.37,1318.95 931.37,1400.29 933.37,1316.36 935.37,1388.52 937.37,1310.77 939.36,1386.76 941.36,1311.14 943.36,1415.23 945.36,1312.84 947.36,1395.11 949.35,1302.45 951.35,1393.54 953.35,1314.16 955.35,1395.69 957.34,1304.61 959.34,1409.75 961.34,1302.18 963.34,1389.94 965.34,1310.11 967.33,1400.17 969.33,1310.18 971.33,1403.5 973.33,1325.85 975.33,1416.52 977.32,1321.67 979.32,1406.84 981.32,1305.89 983.32,1407.44 985.31,1322.46 987.31,1406.59 989.31,1317.19 991.31,1436.14 993.31,1320.72 995.3,1393.51 997.3,1319.47 999.3,1430.52 1001.3,1315.99 1003.3,1390.45 1005.29,1313.54 1007.29,1415.51 1009.29,1315.15 1011.29,1409.62 1013.29,1286.28 1015.28,1391.7 1017.28,1317.26 1019.28,1391.83 1021.28,1317.94 1023.27,1388.81 1025.27,1321.04 1027.27,1407.66 1029.27,1322.42 1031.27,1400.04 1033.26,1320.98 1035.26,1401.1 1037.26,1318.79 1039.26,1401.7 1041.26,1322.11 1043.25,1398.83 1045.25,1317.73 1047.25,1391.83 1049.25,1316.23 1051.24,1397.12 1053.24,1319.78 1055.24,1408.32 1057.24,1315.1 1059.24,1399.88 1061.23,1317.65 1063.23,1389.06 1065.23,1291.14 1067.23,1388.98 1069.23,1314.55 1071.22,1406.71 1073.22,1309.77 1075.22,1387.84 1077.22,1308.89 1079.21,1394.5 1081.21,1298.92 1083.21,1406.21 1085.21,1320.39 1087.21,1408.03 1089.2,1322.45 1091.2,1415.49 1093.2,1304.05 1095.2,1397.75 1097.2,1319.63 1099.19,1394.42 1101.19,1314.73 1103.19,1400.45 1105.19,1308.82 1107.19,1410.22 1109.18,1315.73 1111.18,1395.32 1113.18,1316.78 1115.18,1411.28 1117.17,1317.79 1119.17,1394.97 1121.17,1320.15 1123.17,1415.41 1125.17,1319.38 1127.16,1435.39 1129.16,1319.07 1131.16,1390.86 1133.16,1317.71 1135.16,1417.81 1137.15,1315.48 1139.15,1389.97 1141.15,1309.84 1143.15,1395.77 1145.14,1316.84 1147.14,1397.01 1149.14,1307.65 1151.14,1393.76 1153.14,1314.63 1155.13,1394.11 1157.13,1314.78 1159.13,1398.13 1161.13,1316.99 1163.13,1395.08 1165.12,1319.53 1167.12,1398.12 1169.12,1311.11 1171.12,1395.67 1173.11,1318.83 1175.11,1391.05 1177.11,1311.81 1179.11,1393.52 1181.11,1305.12 1183.1,1397.91 1185.1,1320.62 1187.1,1397.4 1189.1,1316.05 1191.1,1428.35 1193.09,1304.67 1195.09,1394.2 1197.09,1312.2 1199.09,1398.46 1201.09,1306.04 1203.08,1392.44 1205.08,1318.32 1207.08,1404.52 1209.08,1324 1211.07,1405.51 1213.07,1324.24 1215.07,1396.75 1217.07,1301.59 1219.07,1396.45 1221.06,1299.91 1223.06,1393.22 1225.06,1322.77 1227.06,1414.3 1229.06,1322.24 1231.05,1411.27 1233.05,1325.38 1235.05,1402.28 1237.05,1309.77 1239.04,1398.17 1241.04,1312.98 1243.04,1408.72 1245.04,1316.69 1247.04,1402.88 1249.03,1321.84 1251.03,1400.69 1253.03,1322.63 1255.03,1399.19 1257.03,1315.03 1259.02,1400.01 1261.02,1322.03 1263.02,1403.41 1265.02,1323.47 1267.01,1405.59 1269.01,1324.1 1271.01,1417.4 1273.01,1318.88 1275.01,1409.82 1277,1322.03 1279,1399.72 1281,1316.34 1284.25,1360 1284.25,992.66 1286.24,1025 1288.23,1035.88 1290.21,1058.2 1292.2,1059.67 1294.19,1084.18 1296.18,1088.04 1298.17,1114.38 1300.15,1115.75 1302.14,1152.61 1304.13,1140.98 1306.12,1204.21 1308.11,1159.47 1310.1,1237.1 1312.08,1192.92 1314.07,1259.91 1316.06,1229.12 1318.05,1305.29 1320.04,1255.56 1322.02,1333.6 1324.01,1272.73 1326,1345.73 1328.12,1300.69 1330.11,1357.97 1332.11,1297.83 1334.11,1362.21 1336.11,1311.69 1338.11,1380.36 1340.11,1312.29 1342.11,1373.87 1344.11,1317.84 1346.11,1398.76 1348.11,1292.38 1350.11,1374.52 1352.11,1315.95 1354.11,1374.25 1356.11,1312.7 1358.11,1382.3 1360.11,1312.51 1362.11,1373.37 1364.11,1316.43 1366.11,1366.13 1368.11,1316.73 1370.11,1375.15 1372.11,1313.23 1374.11,1377.83 1376.11,1302.74 1378.11,1381.53 1380.11,1319.95 1382.11,1383.45 1384.11,1301.07 1386.11,1382.56 1388.11,1318.31 1390.11,1385.06 1392.11,1308.79 1394.11,1390.23 1396.11,1320.21 1398.11,1400.72 1400.11,1316.23 1402.11,1403.81 1404.11,1322.89 1406.11,1406.18 1408.11,1329 1410.11,1413.15 1412.1,1315.69 1414.1,1451.92 1416.1,1318.4 1418.1,1420.46 1420.1,1325.25 1422.1,1438.39 1424.1,1327.43 1426.1,1427.37 1428.1,1320.71 1430.1,1428.47 1432.1,1325.88 1434.1,1430.73 1436.1,1318.84 1438.1,1428.55 1440.1,1327.61 1442.1,1425.42 1444.1,1320.61 1446.1,1425.21 1448.1,1323.28 1450.1,1415.11 1452.1,1321.7 1454.1,1407.93 1456.1,1319.66 1458.1,1394.09 1460.1,1319.82 1462.1,1389.41 1464.1,1322.8 1466.1,1426.66 1468.1,1299.57 1470.1,1424.07 1472.1,1308.91 1474.1,1420.75 1476.1,1320.69 1478.1,1421.85 1480.1,1322.45 1482.1,1407.66 1484.1,1309.08 1486.1,1420.42 1488.1,1321.26 1490.1,1393.49 1492.1,1321.13 1494.1,1392.97 1496.09,1319.02 1498.09,1384.27 1500.09,1313.98 1502.09,1375.84 1504.09,1307.41 1506.09,1389.26 1508.09,1319.69 1510.09,1389.84 1512.09,1315.79 1514.09,1396.31 1516.09,1324.01 1518.09,1399.66 1520.09,1321.37 1522.09,1385.18 1524.09,1312.03 1526.09,1397.64 1528.09,1320.77 1530.09,1387.1 1532.09,1324.25 1534.09,1409.67 1536.09,1319.44 1538.09,1383.17 1540.09,1304.66 1542.09,1382.17 1544.09,1313.08 1546.09,1376.35 1548.09,1304.28 1550.09,1385.79 1552.09,1314.97 1554.09,1386.83 1556.09,1320.81 1558.09,1385.47 1560.09,1318.1 1562.09,1382.82 1564.09,1316.8 1566.09,1394.14 1568.09,1323.71 1570.09,1384.79 1572.09,1317.23 1574.09,1383.88 1576.09,1321.34 1578.09,1390.15 1580.08,1298.16 1582.08,1386.51 1584.08,1323.07 1586.08,1390.58 1588.08,1321.39 1590.08,1389.55 1592.08,1307.39 1594.08,1398.14 1596.08,1309.47 1598.08,1390.25 1600.08,1314.72 1602.08,1393.97 1604.08,1316.49 1606.08,1393.47 1608.08,1317 1610.08,1381.07 1612.08,1323.91 1614.08,1395.09 1616.08,1325.05 1618.08,1386.57 1620.08,1319.98 1622.08,1384.07 1624.08,1314.29 1626.08,1381.96 1628.08,1308.92 1630.08,1384.19 1632.08,1304.17 1634.08,1388.34 1636.08,1316.73 1638.08,1383.35 1640.08,1316.26 1642.08,1387.6 1644.08,1317.32 1646.08,1395.87 1648.08,1320.02 1650.08,1384.36 1652.08,1321.47 1654.08,1386.68 1656.08,1325.96 1658.08,1396.84 1660.08,1327.02 1662.08,1428.32 1664.07,1318.12 1666.07,1386.61 1668.07,1310.96 1670.07,1391.59 1672.07,1299.54 1674.07,1391.15 1676.07,1325.87 1678.07,1396.28 1680.07,1326.7 1682.07,1387.95 1684.07,1321.85 1686.07,1384.26 1688.07,1322 1690.07,1389.86 1692.07,1317.08 1694.07,1390.97 1696.07,1325.19 1698.07,1383.76 1700.07,1324.91 1702.07,1386.22 1704.07,1325.28 1706.07,1390.73 1708.07,1327.29 1710.07,1390.33 1712.07,1321.61 1714.07,1415.09 1716.07,1328.25 1718.07,1395.37 1720.07,1332.87 1722.07,1394.49 1724.07,1329.73 1726.07,1405.74 1728.07,1318.41 1730.07,1398.5 1732.07,1322.2 1734.07,1391 1736.07,1315.24 1738.07,1389.04 1740.07,1316.8 1742.07,1382.39 1744.07,1295.55 1746.07,1391.11 1748.06,1323.69 1750.06,1387.73 1752.06,1315.26 1754.06,1405.61 1756.06,1325.51 1758.06,1383.45 1760.06,1324.29 1762.06,1393.95 1764.06,1322.91 1766.06,1397.01 1768.06,1331.65 1770.06,1397.29 1772.06,1317.66 1774.06,1393.06 1776.06,1328.1 1778.06,1389.57 1780.06,1320.24 1782.06,1389.55 1784.06,1317.29 1786.06,1392.07 1788.06,1310.75 1790.06,1383.4 1792.06,1322.23 1794.06,1409.49 1796.06,1318.61 1798.06,1381.34 1800.06,1320.9 1802.06,1382.84 1804.06,1316.15 1806.06,1387.16 1808.06,1325.71 1810.06,1386.55 1812.06,1314.71 1814.06,1395.93 1816.06,1321.19 1818.06,1386 1820.06,1323.04 1822.06,1387.57 1824.06,1314.31 1826.06,1396.01 1828.06,1328.68 1830.06,1401.74 1832.05,1311.47 1834.05,1391.49 1836.05,1312.73 1838.05,1390.77 1840.05,1322.89 1842.05,1390.35 1844.05,1321 1846.05,1390.83 1848.05,1326.51 1850.05,1387.41 1852.05,1323.2 1854.05,1393.36 1856.05,1312.55 1858.05,1392.63 1860.05,1322.77 1862.05,1390.05 1864.05,1321.86 1866.05,1391.19 1868.05,1314.57 1870.05,1388.56 1872.05,1315.11 1874.05,1398.15 1876.05,1323.04 1878.05,1385.13 1880.05,1315.92 1882.05,1394.23 1884.05,1327.15 1886.05,1396.72 1888.05,1324.04 1890.05,1399.21 1892.05,1324.99 1894.05,1398.57 1896.05,1330.33 1898.05,1405.03 1900.05,1319.95 1902.05,1405.1 1904.05,1323.63 1906.05,1397.02 1908.05,1320.35 1910.05,1396.55 1912.05,1323.81 1914.05,1385.93 1916.04,1311.48 1918.04,1386.22 1920.04,1315.95 1922.04,1384.69 1924.04,1314.03 1926.04,1386.14 1928.04,1319.7 1930.04,1383.69 1932.04,1321.91 1934.04,1387.26 1936.04,1303.81 1938.04,1384.67 1940.04,1313.81 1942.04,1392.67 1944.04,1312.89 1946.04,1381.76 1948.04,1320.49 1950.04,1388.43 1952.04,1314.88 1954.04,1391.64 1956.04,1313.74 1958.04,1408.78 1960.04,1315.21 1962.04,1393.26 1964.04,1317.78 1966.04,1382.66 1968.04,1316.74 1970.04,1389.43 1972.04,1316.45 1974.04,1387.25 1976.04,1323.69 1978.04,1392.71 1980.04,1320.83 1982.04,1401.41 1984.04,1318.06 1986.04,1391.26 1988.04,1324.13 1990.04,1396.24 1992.04,1313.87 1994.04,1385.74 1996.04,1322.64 1998.04,1394.44 2000.03,1317.89 2002.03,1385.3 2004.03,1324.11 2006.03,1418.47 2008.03,1323.48 2010.03,1387 2012.03,1316.93 2014.03,1387.46 2016.03,1315.02 2018.03,1390.14 2020.03,1324.11 2022.03,1397.38 2024.03,1314.98 2026.03,1414.85 2028.03,1326.52 2030.03,1393.49 2032.03,1327.81 2034.03,1390.53 2036.03,1316.9 2038.03,1392.75 2040.03,1320.62 2042.03,1392.75 2044.03,1325.42 2046.03,1391.21 2048.03,1330.15 2050.03,1394.95 2052.03,1320.28 2054.03,1395.62 2056.03,1329.61 2058.03,1414.47 2060.03,1311.48 2062.03,1387.86 2064.03,1317.44 2066.03,1392.9 2068.03,1322.49 2070.03,1403.44 2072.03,1324.68 2074.03,1392.79 2076.03,1312.36 2078.03,1415.89 2080.03,1317.95 2082.03,1396.98 2084.02,1327.66 2086.02,1415.3 2088.02,1326.69 2090.02,1389.72 2092.02,1323.13 2094.02,1414.55 2096.02,1322.37 2098.02,1405.88 2100.02,1324.12 2102.02,1390.62 2104.02,1323.72 2106.02,1389.79 2108.02,1316.26 2110.02,1402.73 2112.02,1321.68 2114.02,1393.39 2116.02,1321.44 2118.02,1399.43 2120.02,1328.08 2122.02,1397.91 2124.02,1333.9 2126.02,1417.32 2128.02,1334.58 2130.02,1398.36 2132.02,1317.48 2134.02,1390.66 2136.02,1326.03 2138.02,1391.14 2140.02,1292.98 2142.02,1404.44 2144.02,1319.41 2146.02,1392.15 2148.02,1321.42 2150.02,1391.54 2152.02,1315.17 2154.02,1389.42 2156.02,1321.54 2158.02,1403.94 2160.02,1318.74 2162.02,1379.5 2164.02,1310.53 2166.02,1380.77 2168.01,1314.29 2170.01,1383.3 2172.01,1313.56 2174.01,1409.67 2176.01,1318.13 2178.01,1383.29 2180.01,1321.69 2182.01,1390.24 2184.01,1321.73 2186.01,1387.48 2188.01,1311.23 2190.01,1403.51 2192.01,1320.01 2194.01,1401.6 2196.01,1321.06 2198.01,1396.1 2200.01,1317.07 2202.01,1395.73 2204.01,1322.52 2206.01,1390.08 2208.01,1326.14 2210.01,1400.33 2212.01,1317.66 2214.01,1394.21 2216.01,1316.37 2218.01,1387.03 2220.01,1314.36 2222.01,1395.16 2224.01,1315.8 2226.01,1385.37 2228.01,1309.22 2230.01,1388.98 2232.01,1323.71 2234.01,1428.1 2236.01,1318.23 2238.01,1391.3 2240.01,1311.68 2242.01,1401.7 2244.01,1320.57 2246.01,1386.85 2248.01,1319.54 2250.01,1386.6 2252,1316.68 2254,1386.53 2256,1296.88 2258,1390.41 2260,1319.4 2262,1396.99 2264,1319.73 2266,1390.32 2268,1324.35 2270,1406.81 2272,1328.2 2274,1390.13 2276,1321.31 2278,1389.41 2280,1319.53 2282,1408.48 2284,1324.05 2286,1419.01 2288,1325.08 2290,1398.73 2292,1301.38" fill="none" stroke="#edb120" stroke-width="12.5" stroke-linejoin="round" stroke-linecap="round"/>
<path d="M275.34,971.27 277.33,991.11 279.33,987.59 281.33,1044.93 283.33,997.46 285.33,1071.65 287.33,1021.71 289.33,1075.1 291.32,1042.44 293.32,1095.06 295.32,1062.52 297.32,1115.52 299.32,1077.59 301.32,1122.57 303.32,1089.66 305.31,1120.99 307.31,1101.46 309.31,1120.98 311.31,1108.31 313.31,1123.45 315.31,1112.64 317.31,1123.55 319.3,1109.36 321.3,1129.2 323.3,1109.85 325.3,1147.25 327.3,1122.1 329.3,1157.48 331.3,1135.29 333.3,1182.25 335.29,1140.57 337.29,1186.74 339.29,1142.01 341.29,1173.95 343.29,1140.28 345.29,1165.88 347.29,1139.86 349.28,1155.04 351.28,1138.48 353.28,1155.83 355.28,1139.2 357.28,1159.3 359.28,1137.28 361.28,1159.65 363.27,1144.37 365.27,1167.3 367.27,1151.56 369.27,1183.68 371.27,1158.34 373.27,1196.12 375.27,1169.42 377.26,1212.79 379.26,1177.45 381.26,1223.79 383.26,1187.4 385.26,1238.44 387.26,1197.16 389.26,1233.16 391.25,1199.35 393.25,1238.75 395.25,1202.15 397.25,1236.42 399.25,1203.38 401.25,1233.84 403.25,1198.49 405.24,1248.09 407.24,1202.85 409.24,1233.46 411.24,1204.73 413.24,1238.19 415.24,1209.19 417.24,1247.43 419.24,1213.93 421.23,1255.02 423.23,1213.69 425.23,1258.98 427.23,1219.69 429.23,1261.01 431.23,1222.28 433.23,1269.56 435.22,1224.52 437.22,1277.49 439.22,1230.64 441.22,1271.54 443.22,1236.1 445.22,1274.05 447.22,1233.63 449.21,1268.07 451.21,1232.37 453.21,1264.33 455.21,1227.64 457.21,1258.7 459.21,1223.11 461.21,1269.01 463.2,1219.88 465.2,1276.33 467.2,1225.94 469.2,1280.94 471.2,1227.72 473.2,1277.12 475.2,1230.7 477.19,1272.58 479.19,1229.4 481.19,1264.75 483.19,1229.72 485.19,1260.06 487.19,1234.01 489.19,1258.42 491.19,1237.45 493.18,1257.81 495.18,1243.72 497.18,1272.65 499.18,1251.38 501.18,1295.95 503.18,1259.29 505.18,1293.7 507.17,1263.45 509.17,1307.6 511.17,1269.29 513.17,1313.69 515.17,1270.89 517.17,1330.01 519.17,1277.23 521.16,1343.99 523.16,1282.58 525.16,1332.18 527.16,1285.77 529.16,1325.34 531.16,1286.31 533.16,1320.06 535.15,1293.93 537.15,1343.44 539.15,1292.11 541.15,1353.5 543.15,1287.09 545.15,1372.78 547.15,1291.58 549.14,1391.07 551.14,1292.12 553.14,1372.53 555.14,1287.53 557.14,1347.71 559.14,1285.41 561.14,1328.55 563.14,1284.93 565.13,1315.11 567.13,1285.46 569.13,1301.91 571.13,1287.88 573.13,1316.64 575.13,1288.33 577.13,1316.28 579.12,1286.67 581.12,1329.35 583.12,1293.01 585.12,1338.06 587.12,1303.4 589.12,1354.82 591.12,1311.9 593.11,1357.05 595.11,1304.15 597.11,1358.72 599.11,1315.16 601.11,1363.59 603.11,1321.19 605.11,1365.95 607.1,1325.9 609.1,1371.31 611.1,1331 613.1,1367.33 615.1,1330.21 617.1,1373.08 619.1,1334.69 621.09,1373.97 623.09,1339.85 625.09,1374.53 627.09,1341.49 629.09,1379.15 631.09,1346.36 633.09,1374.57 635.08,1344.62 637.08,1370.69 639.08,1338.05 641.08,1368.99 643.08,1337.92 645.08,1373.97 647.08,1338.74 649.08,1376.81 651.07,1341.69 653.07,1376.73 655.07,1349.45 657.07,1383.39 659.07,1348.26 661.07,1393.33 663.07,1353.58 665.06,1396.92 667.06,1366.91 669.06,1399.07 671.06,1368.1 673.06,1402.64 675.06,1367.39 677.06,1408.4 679.05,1365.97 681.05,1404.03 683.05,1371.01 685.05,1404.87 687.05,1374.36 689.05,1410.04 691.05,1376.02 693.04,1416.04 695.04,1372.83 697.04,1410.9 699.04,1372.64 701.04,1417.14 703.04,1373.13 705.04,1422.98 707.03,1369.33 709.03,1418.04 711.03,1371.04 713.03,1420.68 715.03,1371.4 717.03,1418.16 719.03,1368.2 721.03,1420.7 723.02,1371.29 725.02,1422.74 727.02,1375 729.02,1423.16 731.02,1374.12 733.02,1428.2 735.02,1379.01 737.01,1426.16 739.01,1380.75 741.01,1433.32 743.01,1381.11 745.01,1428.12 747.01,1381.61 749.01,1425.63 751,1384.19 753,1432 755,1383.97 757,1427.87 757,1387.6 759,1426.49 761,1389.17 763,1430.91 765,1388.58 767,1427.61 769,1384.68 771,1421.23 773,1394.39 775,1423.65 777,1379.65 779,1423.4 781,1393.31 783,1431.29 785,1392.24 787,1435.05 789,1387.79 791,1461.57 793,1394.53 795,1429.43 797,1390 799,1457.37 801,1400.17 803,1449.54 805,1385.94 807,1464.81 809,1401.41 811,1431.61 813,1390.47 815,1433.4 817,1398.63 819,1428.97 821,1389.82 823,1430.79 825,1401.45 827,1441.61 829,1406.54 831,1453.27 833,1408.38 835,1479.25 837,1406.84 839,1435.83 841,1403.65 843,1451.61 845,1400.34 847,1446.31 849,1402.51 851,1457.76 853,1404.31 855,1435.15 857,1394.02 859,1437.86 861,1404.04 863,1446.53 865,1406.11 867,1443.36 869,1408.88 871,1445.78 873,1410.7 875,1468.86 877,1396.83 879,1444.49 881,1404.65 883,1442.08 885,1405.42 887,1437.03 889,1396.8 891,1447.01 893,1400.29 895,1460.45 897,1384.1 899,1438.41 901,1394.59 903,1430.54 905,1396.33 907,1426.18 909,1399.21 911,1439.97 913,1394.45 915,1440.35 917,1388.59 919,1431.78 921,1390.2 923,1437.17 925,1387.28 927,1433.51 929,1384.66 931,1421.57 933,1349.5 935,1426.07 937,1396.85 939,1431.41 941,1388.07 943,1468.52 945,1357.08 947,1424.74 949,1390.72 951,1436.55 953,1394.25 955,1427.73 957,1386.21 959,1427.95 961,1394.02 963,1433.43 965,1398.52 967,1456.63 969,1396.21 971,1431.05 973,1397.51 975,1435.31 977,1395.19 979,1429.49 981,1400.78 983,1429.08 985,1394.1 987,1437.35 989,1385.21 991,1436.8 993,1393.66 995,1436.12 997,1393.13 999,1441.15 1001,1398.62 1003,1439.72 1005,1399.65 1007,1429.68 1009,1400.27 1011,1436.68 1013,1399.82 1015,1432.41 1017,1386.23 1019,1436.54 1021,1386.73 1023,1434 1025,1402.23 1027,1435.57 1029,1389.63 1031,1436.66 1033,1397.82 1035,1450.08 1037,1398.82 1039,1460.34 1041,1389.11 1043,1432.25 1045,1397.76 1047,1447.02 1049,1400.04 1051,1449.53 1053,1405.69 1055,1455.99 1057,1404.9 1059,1459.28 1061,1399.25 1063,1448.51 1065,1401.29 1067,1431.53 1069,1401.48 1071,1441.68 1073,1396.56 1075,1438.71 1077,1401.04 1079,1455.51 1081,1389.13 1083,1458.09 1085,1405.02 1087,1437.08 1089,1394.14 1091,1458.54 1093,1403.97 1095,1448.94 1097,1403.92 1099,1438.86 1101,1395.25 1103,1436.78 1105,1388.02 1107,1435.42 1109,1405.67 1111,1442.47 1113,1405.71 1115,1454.9 1117,1403.15 1119,1444.06 1121,1412.31 1123,1442.71 1125,1384.08 1127,1436.88 1129,1404.3 1131,1437.49 1133,1401.24 1135,1437.23 1137,1398.8 1139,1442.74 1141,1403.71 1143,1475.19 1145,1401.47 1147,1444.63 1149,1396.51 1151,1431.41 1153,1374.36 1155,1428.39 1157,1370.35 1159,1426.61 1161,1393.8 1163,1426.37 1165,1380.35 1167,1435.58 1169,1391.94 1171,1424.99 1173,1391.82 1175,1487.05 1177,1386.39 1179,1452.44 1181,1401.15 1183,1429.25 1185,1396.42 1187,1445.93 1189,1396.15 1191,1435.5 1193,1401.83 1195,1431.58 1197,1390.8 1199,1438.17 1201,1377.04 1203,1440.41 1205,1395.94 1207,1436.19 1209,1403.41 1211,1441.47 1213,1412.11 1215,1457.46 1217,1404.97 1219,1454.59 1221,1391.68 1223,1446.4 1225,1405.92 1227,1434.86 1229,1404.09 1231,1451.24 1233,1378.06 1235,1439.07 1237,1408.73 1239,1495.23 1241,1404.74 1243,1438.21 1245,1397.96 1247,1472.89 1249,1406.57 1251,1442.93 1253,1398.31 1255,1440.24 1257,1408.54 1259,1442.41 1261,1401.92 1263,1448.95 1265,1392.26 1267,1438.57 1269,1393.5 1271,1444.42 1273,1371.41 1275,1450.76 1277,1398.5 1279,1438.53 1281,1406.43 1284.5,1094.02 1286.5,1179.38 1288.5,1080.4 1290.5,1121.53 1292.5,1088.72 1294.49,1104.47 1296.49,1073.23 1298.49,1106.5 1300.49,1060.72 1302.49,1116.49 1304.49,1057.99 1306.49,1109.1 1308.49,1067.66 1310.49,1117.3 1312.48,1073.02 1314.48,1120.15 1316.48,1079.05 1318.48,1137.09 1320.48,1092.71 1322.48,1160.65 1324.48,1102.5 1326.48,1148.35 1328.47,1102.43 1330.47,1137.46 1332.47,1104.36 1334.47,1135.38 1336.47,1109.41 1338.47,1142.41 1340.47,1121.19 1342.47,1142.69 1344.47,1121.3 1346.46,1151.91 1348.46,1114.26 1350.46,1144.46 1352.46,1120.27 1354.46,1158.14 1356.46,1129.8 1358.46,1158.61 1360.46,1140.4 1362.46,1172.78 1364.45,1147.82 1366.45,1184.01 1368.45,1164.61 1370.45,1192.74 1372.45,1165.67 1374.45,1196.76 1376.45,1164.79 1378.45,1202.7 1380.45,1159.58 1382.44,1197.47 1384.44,1164.16 1386.44,1201.17 1388.44,1162.58 1390.44,1208.71 1392.44,1176.19 1394.44,1225.84 1396.44,1177.18 1398.43,1209.92 1400.43,1175.57 1402.43,1208.6 1404.43,1161.82 1406.43,1214.58 1408.43,1172 1410.43,1222.97 1412.43,1171.64 1414.43,1230.37 1416.42,1181.33 1418.42,1255.82 1420.42,1188.36 1422.42,1251.83 1424.42,1194.46 1426.42,1260.17 1428.42,1200.74 1430.42,1267.69 1432.42,1203.89 1434.41,1267.32 1436.41,1211.64 1438.41,1266.85 1440.41,1215.96 1442.41,1261.38 1444.41,1216.55 1446.41,1261.59 1448.41,1218.82 1450.4,1256.15 1452.4,1219.16 1454.4,1259.57 1456.4,1215.52 1458.4,1254.74 1460.4,1208.84 1462.4,1258.67 1464.4,1221.08 1466.4,1261.61 1468.39,1224.73 1470.39,1265.43 1472.39,1222.65 1474.39,1271.08 1476.39,1231.58 1478.39,1270.6 1480.39,1234.18 1482.39,1275.41 1484.39,1234.04 1486.38,1271.36 1488.38,1242.75 1490.38,1271.44 1492.38,1244.15 1494.38,1273.4 1496.38,1250.16 1498.38,1278.04 1500.38,1251.04 1502.38,1275.14 1504.37,1257.43 1506.37,1276.3 1508.37,1258.51 1510.37,1276.86 1512.37,1264.51 1514.37,1283.16 1516.37,1268.49 1518.37,1293.18 1520.36,1268.56 1522.36,1299.86 1524.36,1274.9 1526.36,1303.94 1528.36,1279.74 1530.36,1315.15 1532.36,1281.25 1534.36,1315.82 1536.36,1286.88 1538.35,1322.64 1540.35,1287.21 1542.35,1324.49 1544.35,1287.61 1546.35,1324.03 1548.35,1286.2 1550.35,1317.01 1552.35,1283.23 1554.35,1315.32 1556.34,1272.32 1558.34,1317.54 1560.34,1280.55 1562.34,1316.49 1564.34,1280.83 1566.34,1327.19 1568.34,1288.55 1570.34,1326.32 1572.34,1291.45 1574.33,1351.9 1576.33,1297.7 1578.33,1342.91 1580.33,1301.98 1582.33,1347.61 1584.33,1299.88 1586.33,1342.1 1588.33,1299.22 1590.32,1339.97 1592.32,1298.27 1594.32,1338.97 1596.32,1300.15 1598.32,1341.45 1600.32,1300.46 1602.32,1336.94 1604.32,1300.04 1606.32,1334.34 1608.31,1306.22 1610.31,1340.86 1612.31,1312.25 1614.31,1346.34 1616.31,1309.1 1618.31,1351.72 1620.31,1319.91 1622.31,1359.47 1624.31,1322.1 1626.3,1371.66 1628.3,1322.27 1630.3,1378.7 1632.3,1323.53 1634.3,1390.01 1636.3,1329.04 1638.3,1381.76 1640.3,1326.2 1642.3,1365.86 1644.29,1322.53 1646.29,1353.6 1648.29,1324.58 1650.29,1362.36 1652.29,1322.77 1654.29,1366.68 1656.29,1334.81 1658.29,1385.52 1660.28,1338.37 1662.28,1381.72 1664.28,1342.61 1666.28,1384.51 1668.28,1344.23 1670.28,1398.67 1672.28,1342.5 1674.28,1406.56 1676.28,1351.71 1678.27,1401.16 1680.27,1352.3 1682.27,1400.99 1684.27,1354.97 1686.27,1402.46 1688.27,1359.83 1690.27,1404.45 1692.27,1364.46 1694.27,1420.11 1696.26,1369.93 1698.26,1420.33 1700.26,1375.93 1702.26,1427.1 1704.26,1383.63 1706.26,1426.21 1708.26,1379.37 1710.26,1415.92 1712.26,1374.44 1714.25,1409.96 1716.25,1364.95 1718.25,1409.75 1720.25,1367.33 1722.25,1421.06 1724.25,1375.43 1726.25,1426.45 1728.25,1381.44 1730.24,1439.11 1732.24,1384.35 1734.24,1435.05 1736.24,1372.85 1738.24,1426.12 1740.24,1376.07 1742.24,1413.16 1744.24,1380.18 1746.24,1417.27 1748.23,1384.02 1750.23,1426.15 1752.23,1391.29 1754.23,1436.7 1756.23,1394.43 1758.23,1444.04 1760.23,1401.23 1762.23,1464.36 1764.23,1409.59 1766.22,1485.09 1768.22,1408.99 1770.22,1470.33 1772.22,1408.77 1774.22,1463.68 1776.22,1406.15 1778.22,1456.71 1780.22,1393.48 1782.21,1449.03 1784.21,1396.31 1786.21,1443.61 1788.21,1391.32 1790.21,1446.51 1792.21,1390.29 1794.21,1428.58 1796.21,1380.84 1798.21,1422.12 1800.2,1385.31 1802.2,1421.39 1804.2,1388.79 1806.2,1411.98 1808.2,1382.64 1810.2,1429.94 1812.2,1394.02 1814.2,1440.57 1816.2,1392.38 1818.19,1443.44 1820.19,1399.85 1822.19,1456.41 1824.19,1401.74 1826.19,1464.29 1828.19,1405.59 1830.19,1475.25 1832.19,1407.64 1834.19,1472.84 1836.18,1405.23 1838.18,1467.78 1840.18,1401.5 1842.18,1458.99 1844.18,1401.85 1846.18,1452.71 1848.18,1396.93 1850.18,1444.54 1852.17,1394.42 1854.17,1438.91 1856.17,1382.99 1858.17,1428.49 1860.17,1384.31 1862.17,1427.41 1864.17,1385.32 1866.17,1426.11 1868.17,1382.15 1870.16,1438.12 1872.16,1386.32 1874.16,1442.42 1876.16,1391.5 1878.16,1444.61 1880.16,1378.37 1882.16,1441.65 1884.16,1385.28 1886.16,1442.44 1888.15,1378.66 1890.15,1435.43 1892.15,1374.47 1894.15,1432.52 1896.15,1372.73 1898.15,1429.16 1900.15,1374.48 1902.15,1428.17 1904.15,1380.7 1906.14,1429.48 1908.14,1388.41 1910.14,1433.55 1912.14,1388.03 1915,1390.07 1917.01,1438.23 1919.01,1409.57 1921.02,1433.26 1923.02,1407.54 1925.03,1455.76 1927.03,1387.98 1929.04,1438.43 1931.04,1407.64 1933.05,1439.04 1935.05,1392.08 1937.06,1437.86 1939.06,1408.11 1941.07,1438.3 1943.07,1408.54 1945.08,1434.6 1947.09,1400.63 1949.09,1439.18 1951.1,1395.04 1953.1,1455.23 1955.11,1394.64 1957.11,1423.85 1959.12,1359.65 1961.12,1443.65 1963.13,1402.57 1965.13,1473.5 1967.14,1389.86 1969.14,1456.19 1971.15,1398.02 1973.15,1437.95 1975.16,1395.45 1977.16,1432.94 1979.17,1408.4 1981.18,1443.01 1983.18,1385.74 1985.19,1427.36 1987.19,1391.15 1989.2,1429.77 1991.2,1394.6 1993.21,1431.55 1995.21,1388.82 1997.22,1436.57 1999.22,1397.41 2001.23,1429.07 2003.23,1389.94 2005.24,1422.95 2007.24,1380.84 2009.25,1418.65 2011.26,1380.95 2013.26,1422.86 2015.27,1399.17 2017.27,1481.22 2019.28,1390.71 2021.28,1423.29 2023.29,1391.16 2025.29,1427.17 2027.3,1390.69 2029.3,1424.85 2031.31,1399.23 2033.31,1426.93 2035.32,1396.29 2037.32,1428.88 2039.33,1400.16 2041.34,1432.82 2043.34,1395.52 2045.35,1429.37 2047.35,1396.95 2049.36,1430.02 2051.36,1394.2 2053.37,1430.85 2055.37,1402.13 2057.38,1428.61 2059.38,1392.18 2061.39,1430.81 2063.39,1404.26 2065.4,1440.84 2067.4,1397.97 2069.41,1445.34 2071.41,1404.26 2073.42,1447.33 2075.43,1388.29 2077.43,1435.29 2079.44,1409.05 2081.44,1467.76 2083.45,1394.79 2085.45,1442.57 2087.46,1389.32 2089.46,1430.57 2091.47,1395.07 2093.47,1429.84 2095.48,1371.35 2097.48,1435.35 2099.49,1393.92 2101.49,1446.32 2103.5,1390.18 2105.51,1432.19 2107.51,1392.39 2109.52,1430.05 2111.52,1398.04 2113.53,1436.48 2115.53,1403.41 2117.54,1454.33 2119.54,1395.01 2121.55,1456.24 2123.55,1405.55 2125.56,1461.51 2127.56,1399.72 2129.57,1436.51 2131.57,1399.41 2133.58,1427.35 2135.59,1401.39 2137.59,1436.67 2139.6,1402.83 2141.6,1426.03 2143.61,1398.92 2145.61,1443.71 2147.62,1371.2 2149.62,1426.93 2151.63,1407.49 2153.63,1435.3 2155.64,1402.37 2157.64,1435.86 2159.65,1407.41 2161.65,1455.42 2163.66,1397.14 2165.66,1427.87 2167.67,1396.31 2169.68,1432.03 2171.68,1404.01 2173.69,1440.19 2175.69,1384.88 2177.7,1462.19 2179.7,1405.77 2181.71,1433.61 2183.71,1394.64 2185.72,1431.81 2187.72,1401.31 2189.73,1433.64 2191.73,1407.03 2193.74,1451.01 2195.74,1395.09 2197.75,1439.57 2199.76,1393.53 2201.76,1436.72 2203.77,1401.43 2205.77,1439.84 2207.78,1386.62 2209.78,1443.94 2211.79,1398.24 2213.79,1441.36 2215.8,1402.63 2217.8,1429.38 2219.81,1398.33 2221.81,1438.39 2223.82,1404.6 2225.82,1462.49 2227.83,1406.55 2229.84,1463.43 2231.84,1397.27 2233.85,1436.44 2235.85,1389.49 2237.86,1457.39 2239.86,1396.15 2241.87,1432.38 2243.87,1396.24 2245.88,1427.01 2247.88,1397.92 2249.89,1437.07 2251.89,1386.13 2253.9,1437.11 2255.9,1398.41 2257.91,1448.83 2259.91,1395.89 2261.92,1425.69 2263.93,1396.94 2265.93,1425.04 2267.94,1401.39 2269.94,1428.49 2271.95,1400.38 2273.95,1426.58 2275.96,1375.15 2277.96,1438.4 2279.97,1389.15 2281.97,1440.76 2283.98,1387.74 2285.98,1432.05 2287.99,1406.92 2289.99,1436.01 2292,1378.31" fill="none" stroke="#7e2f8e" stroke-width="12.5" stroke-linejoin="round" stroke-linecap="round"/>
</g>
<rect x="1477" y="936.2" width="879" height="313.7" fill="#fff" stroke="#262626" stroke-width="4"/>
<line x1="1495" y1="977.8" x2="1678" y2="977.8" stroke="#0072bd" stroke-width="10"/>
<line x1="1495" y1="1050.5" x2="1678" y2="1050.5" stroke="#d95319" stroke-width="12.6"/>
<line x1="1495" y1="1127.5" x2="1678" y2="1127.5" stroke="#edb120" stroke-width="12.6"/>
<line x1="1495" y1="1204" x2="1678" y2="1204" stroke="#7e2f8e" stroke-width="12.6"/>
<g>
<text transform="matrix(0.6007 0.0000 0.0000 0.6180 256.0054 810.2000)" font-size="100" font-family="'Liberation Sans', sans-serif" fill="#262626">0</text>
<text transform="matrix(0.6007 0.0000 0.0000 0.6180 508.1929 810.2000)" font-size="100" font-family="'Liberation Sans', sans-serif" fill="#262626">2</text>
<text transform="matrix(0.6007 0.0000 0.0000 0.6180 760.8497 810.2000)" font-size="100" font-family="'Liberation Sans', sans-serif" fill="#262626">4</text>
<text transform="matrix(0.6007 0.0000 0.0000 0.6180 1012.5679 810.2000)" font-size="100" font-family="'Liberation Sans', sans-serif" fill="#262626">6</text>
<text transform="matrix(0.6007 0.0000 0.0000 0.6180 1265.2247 810.2000)" font-size="100" font-family="'Liberation Sans', sans-serif" fill="#262626">8</text>
<text transform="matrix(0.6007 0.0000 0.0000 0.6180 1501.9004 810.2000)" font-size="100" font-family="'Liberation Sans', sans-serif" fill="#262626">10</text>
<text transform="matrix(0.6007 0.0000 0.0000 0.6180 1754.5572 810.2000)" font-size="100" font-family="'Liberation Sans', sans-serif" fill="#262626">12</text>
<text transform="matrix(0.6007 0.0000 0.0000 0.6180 2006.2754 810.2000)" font-size="100" font-family="'Liberation Sans', sans-serif" fill="#262626">14</text>
<text transform="matrix(0.6007 0.0000 0.0000 0.6180 2258.9322 810.2000)" font-size="100" font-family="'Liberation Sans', sans-serif" fill="#262626">16</text>
<text transform="matrix(0.5747 0.0000 0.0000 0.6180 214.5669 100.0500)" font-size="100" font-family="'Liberation Sans', sans-serif" fill="#262626">0</text>
<text transform="matrix(0.6007 0.0000 0.0000 0.6180 159.7765 261.8625)" font-size="100" font-family="'Liberation Sans', sans-serif" fill="#262626">-20</text>
<text transform="matrix(0.6007 0.0000 0.0000 0.6180 159.7765 423.6750)" font-size="100" font-family="'Liberation Sans', sans-serif" fill="#262626">-40</text>
<text transform="matrix(0.6007 0.0000 0.0000 0.6180 159.7765 585.4875)" font-size="100" font-family="'Liberation Sans', sans-serif" fill="#262626">-60</text>
<text transform="matrix(0.6007 0.0000 0.0000 0.6180 159.7765 747.3000)" font-size="100" font-family="'Liberation Sans', sans-serif" fill="#262626">-80</text>
<text transform="matrix(0.5741 0.0000 0.0000 0.5862 1691.5061 98.1841)" font-size="100" font-family="'Liberation Serif', serif" fill="#000" stroke="#000" stroke-width="0.7" stroke-linejoin="round">OLMS-BF</text>
<text transform="matrix(0.5706 0.0000 0.0000 0.5833 1690.9085 166.0886)" font-size="100" font-family="'Liberation Serif', serif" fill="#000" stroke="#000" stroke-width="0.7" stroke-linejoin="round">NLMS-BF</text>
<text transform="matrix(0.5440 0.0000 0.0000 0.5873 1941.3000 166.6235)" font-size="100" font-family="'Liberation Serif', serif" fill="#000" stroke="#000" stroke-width="0.7" stroke-linejoin="round">,</text>
<text transform="matrix(0.5835 0.0000 0.0000 0.4960 1973.0882 166.0250)" font-size="100" font-family="'Liberation Serif', serif" fill="#000" stroke="#000" stroke-width="0.7" stroke-linejoin="round" font-style="italic">α</text>
<text transform="matrix(0.7147 0.0000 0.0000 0.2475 2003.0000 160.8400)" font-size="100" font-family="'Liberation Serif', serif" fill="#000" stroke="#000" stroke-width="1.6" stroke-linejoin="round">^</text>
<text transform="matrix(0.4235 0.0000 0.0000 0.3584 2008.1382 188.6000)" font-size="100" font-family="'Liberation Serif', serif" fill="#000" font-weight="bold">h</text>
<text transform="matrix(0.5835 0.0000 0.0000 0.4960 2107.6882 166.0250)" font-size="100" font-family="'Liberation Serif', serif" fill="#000" stroke="#000" stroke-width="0.7" stroke-linejoin="round" font-style="italic">α</text>
<text transform="matrix(0.7147 0.0000 0.0000 0.2475 2137.5000 160.8400)" font-size="100" font-family="'Liberation Serif', serif" fill="#000" stroke="#000" stroke-width="1.6" stroke-linejoin="round">^</text>
<text transform="matrix(0.4212 0.0000 0.0000 0.3307 2141.9419 185.7500)" font-size="100" font-family="'Liberation Serif', serif" fill="#000" font-weight="bold">g</text>
<text transform="matrix(0.8064 0.0000 0.0000 0.5007 2048.5200 168.1706)" font-size="100" font-family="'Liberation Serif', serif" fill="#000" stroke="#000" stroke-width="0.7" stroke-linejoin="round">=</text>
<text transform="matrix(0.8064 0.0000 0.0000 0.5007 2181.9200 168.1706)" font-size="100" font-family="'Liberation Serif', serif" fill="#000" stroke="#000" stroke-width="0.7" stroke-linejoin="round">=</text>
<text transform="matrix(0.5608 0.0000 0.0000 0.5789 2240.2474 166.4955)" font-size="100" font-family="'Liberation Serif', serif" fill="#000" stroke="#000" stroke-width="0.7" stroke-linejoin="round">0.5</text>
<text transform="matrix(0.5706 0.0000 0.0000 0.5833 1690.9085 240.9886)" font-size="100" font-family="'Liberation Serif', serif" fill="#000" stroke="#000" stroke-width="0.7" stroke-linejoin="round">NLMS-BF</text>
<text transform="matrix(0.5440 0.0000 0.0000 0.5873 1941.3000 241.5235)" font-size="100" font-family="'Liberation Serif', serif" fill="#000" stroke="#000" stroke-width="0.7" stroke-linejoin="round">,</text>
<text transform="matrix(0.5835 0.0000 0.0000 0.4960 1973.0882 240.9250)" font-size="100" font-family="'Liberation Serif', serif" fill="#000" stroke="#000" stroke-width="0.7" stroke-linejoin="round" font-style="italic">α</text>
<text transform="matrix(0.7147 0.0000 0.0000 0.2475 2003.0000 235.7400)" font-size="100" font-family="'Liberation Serif', serif" fill="#000" stroke="#000" stroke-width="1.6" stroke-linejoin="round">^</text>
<text transform="matrix(0.4235 0.0000 0.0000 0.3584 2008.1382 263.5000)" font-size="100" font-family="'Liberation Serif', serif" fill="#000" font-weight="bold">h</text>
<text transform="matrix(0.5835 0.0000 0.0000 0.4960 2107.6882 240.9250)" font-size="100" font-family="'Liberation Serif', serif" fill="#000" stroke="#000" stroke-width="0.7" stroke-linejoin="round" font-style="italic">α</text>
<text transform="matrix(0.7147 0.0000 0.0000 0.2475 2137.5000 235.7400)" font-size="100" font-family="'Liberation Serif', serif" fill="#000" stroke="#000" stroke-width="1.6" stroke-linejoin="round">^</text>
<text transform="matrix(0.4212 0.0000 0.0000 0.3307 2141.9419 260.6500)" font-size="100" font-family="'Liberation Serif', serif" fill="#000" font-weight="bold">g</text>
<text transform="matrix(0.8064 0.0000 0.0000 0.5007 2048.5200 243.0706)" font-size="100" font-family="'Liberation Serif', serif" fill="#000" stroke="#000" stroke-width="0.7" stroke-linejoin="round">=</text>
<text transform="matrix(0.8064 0.0000 0.0000 0.5007 2181.9200 243.0706)" font-size="100" font-family="'Liberation Serif', serif" fill="#000" stroke="#000" stroke-width="0.7" stroke-linejoin="round">=</text>
<text transform="matrix(0.5598 0.0000 0.0000 0.5789 2240.2507 241.3955)" font-size="100" font-family="'Liberation Serif', serif" fill="#000" stroke="#000" stroke-width="0.7" stroke-linejoin="round">0.1</text>
<text transform="matrix(0.5706 0.0000 0.0000 0.5833 1690.9085 316.6886)" font-size="100" font-family="'Liberation Serif', serif" fill="#000" stroke="#000" stroke-width="0.7" stroke-linejoin="round">NLMS-BF</text>
<text transform="matrix(0.5440 0.0000 0.0000 0.5873 1941.3000 317.2235)" font-size="100" font-family="'Liberation Serif', serif" fill="#000" stroke="#000" stroke-width="0.7" stroke-linejoin="round">,</text>
<text transform="matrix(0.5835 0.0000 0.0000 0.4960 1973.0882 316.6250)" font-size="100" font-family="'Liberation Serif', serif" fill="#000" stroke="#000" stroke-width="0.7" stroke-linejoin="round" font-style="italic">α</text>
<text transform="matrix(0.7147 0.0000 0.0000 0.2475 2003.0000 311.4400)" font-size="100" font-family="'Liberation Serif', serif" fill="#000" stroke="#000" stroke-width="1.6" stroke-linejoin="round">^</text>
<text transform="matrix(0.4235 0.0000 0.0000 0.3584 2008.1382 339.2000)" font-size="100" font-family="'Liberation Serif', serif" fill="#000" font-weight="bold">h</text>
<text transform="matrix(0.5835 0.0000 0.0000 0.4960 2107.6882 316.6250)" font-size="100" font-family="'Liberation Serif', serif" fill="#000" stroke="#000" stroke-width="0.7" stroke-linejoin="round" font-style="italic">α</text>
<text transform="matrix(0.7147 0.0000 0.0000 0.2475 2137.5000 311.4400)" font-size="100" font-family="'Liberation Serif', serif" fill="#000" stroke="#000" stroke-width="1.6" stroke-linejoin="round">^</text>
<text transform="matrix(0.4212 0.0000 0.0000 0.3307 2141.9419 336.3500)" font-size="100" font-family="'Liberation Serif', serif" fill="#000" font-weight="bold">g</text>
<text transform="matrix(0.8064 0.0000 0.0000 0.5007 2048.5200 318.7706)" font-size="100" font-family="'Liberation Serif', serif" fill="#000" stroke="#000" stroke-width="0.7" stroke-linejoin="round">=</text>
<text transform="matrix(0.8064 0.0000 0.0000 0.5007 2181.9200 318.7706)" font-size="100" font-family="'Liberation Serif', serif" fill="#000" stroke="#000" stroke-width="0.7" stroke-linejoin="round">=</text>
<text transform="matrix(0.5491 0.0000 0.0000 0.5789 2240.2841 317.0955)" font-size="100" font-family="'Liberation Serif', serif" fill="#000" stroke="#000" stroke-width="0.7" stroke-linejoin="round">0.01</text>
<text transform="matrix(0.6007 0.0000 0.0000 0.6180 256.0054 1702.6000)" font-size="100" font-family="'Liberation Sans', sans-serif" fill="#262626">0</text>
<text transform="matrix(0.6007 0.0000 0.0000 0.6180 508.1929 1702.6000)" font-size="100" font-family="'Liberation Sans', sans-serif" fill="#262626">2</text>
<text transform="matrix(0.6007 0.0000 0.0000 0.6180 760.8497 1702.6000)" font-size="100" font-family="'Liberation Sans', sans-serif" fill="#262626">4</text>
<text transform="matrix(0.6007 0.0000 0.0000 0.6180 1012.5679 1702.6000)" font-size="100" font-family="'Liberation Sans', sans-serif" fill="#262626">6</text>
<text transform="matrix(0.6007 0.0000 0.0000 0.6180 1265.2247 1702.6000)" font-size="100" font-family="'Liberation Sans', sans-serif" fill="#262626">8</text>
<text transform="matrix(0.6007 0.0000 0.0000 0.6180 1501.9004 1702.6000)" font-size="100" font-family="'Liberation Sans', sans-serif" fill="#262626">10</text>
<text transform="matrix(0.6007 0.0000 0.0000 0.6180 1754.5572 1702.6000)" font-size="100" font-family="'Liberation Sans', sans-serif" fill="#262626">12</text>
<text transform="matrix(0.6007 0.0000 0.0000 0.6180 2006.2754 1702.6000)" font-size="100" font-family="'Liberation Sans', sans-serif" fill="#262626">14</text>
<text transform="matrix(0.6007 0.0000 0.0000 0.6180 2258.9322 1702.6000)" font-size="100" font-family="'Liberation Sans', sans-serif" fill="#262626">16</text>
<text transform="matrix(0.5747 0.0000 0.0000 0.6180 214.5669 998.4000)" font-size="100" font-family="'Liberation Sans', sans-serif" fill="#262626">0</text>
<text transform="matrix(0.6007 0.0000 0.0000 0.6180 159.7765 1319.3500)" font-size="100" font-family="'Liberation Sans', sans-serif" fill="#262626">-50</text>
<text transform="matrix(0.6007 0.0000 0.0000 0.6180 126.3687 1640.3000)" font-size="100" font-family="'Liberation Sans', sans-serif" fill="#262626">-100</text>
<text transform="matrix(0.5741 0.0000 0.0000 0.5862 1691.5061 991.8841)" font-size="100" font-family="'Liberation Serif', serif" fill="#000" stroke="#000" stroke-width="0.7" stroke-linejoin="round">OLMS-BF</text>
<text transform="matrix(0.5706 0.0000 0.0000 0.5833 1690.9085 1059.5886)" font-size="100" font-family="'Liberation Serif', serif" fill="#000" stroke="#000" stroke-width="0.7" stroke-linejoin="round">NLMS-BF</text>
<text transform="matrix(0.5440 0.0000 0.0000 0.5873 1941.3000 1060.1235)" font-size="100" font-family="'Liberation Serif', serif" fill="#000" stroke="#000" stroke-width="0.7" stroke-linejoin="round">,</text>
<text transform="matrix(0.5835 0.0000 0.0000 0.4960 1973.0882 1059.5250)" font-size="100" font-family="'Liberation Serif', serif" fill="#000" stroke="#000" stroke-width="0.7" stroke-linejoin="round" font-style="italic">α</text>
<text transform="matrix(0.7147 0.0000 0.0000 0.2475 2003.0000 1054.3400)" font-size="100" font-family="'Liberation Serif', serif" fill="#000" stroke="#000" stroke-width="1.6" stroke-linejoin="round">^</text>
<text transform="matrix(0.4235 0.0000 0.0000 0.3584 2008.1382 1082.1000)" font-size="100" font-family="'Liberation Serif', serif" fill="#000" font-weight="bold">h</text>
<text transform="matrix(0.5835 0.0000 0.0000 0.4960 2107.6882 1059.5250)" font-size="100" font-family="'Liberation Serif', serif" fill="#000" stroke="#000" stroke-width="0.7" stroke-linejoin="round" font-style="italic">α</text>
<text transform="matrix(0.7147 0.0000 0.0000 0.2475 2137.5000 1054.3400)" font-size="100" font-family="'Liberation Serif', serif" fill="#000" stroke="#000" stroke-width="1.6" stroke-linejoin="round">^</text>
<text transform="matrix(0.4212 0.0000 0.0000 0.3307 2141.9419 1079.2500)" font-size="100" font-family="'Liberation Serif', serif" fill="#000" font-weight="bold">g</text>
<text transform="matrix(0.8064 0.0000 0.0000 0.5007 2048.5200 1061.6706)" font-size="100" font-family="'Liberation Serif', serif" fill="#000" stroke="#000" stroke-width="0.7" stroke-linejoin="round">=</text>
<text transform="matrix(0.8064 0.0000 0.0000 0.5007 2181.9200 1061.6706)" font-size="100" font-family="'Liberation Serif', serif" fill="#000" stroke="#000" stroke-width="0.7" stroke-linejoin="round">=</text>
<text transform="matrix(0.5608 0.0000 0.0000 0.5789 2240.2474 1059.9955)" font-size="100" font-family="'Liberation Serif', serif" fill="#000" stroke="#000" stroke-width="0.7" stroke-linejoin="round">0.5</text>
<text transform="matrix(0.5706 0.0000 0.0000 0.5833 1690.9085 1136.2886)" font-size="100" font-family="'Liberation Serif', serif" fill="#000" stroke="#000" stroke-width="0.7" stroke-linejoin="round">NLMS-BF</text>
<text transform="matrix(0.5440 0.0000 0.0000 0.5873 1941.3000 1136.8235)" font-size="100" font-family="'Liberation Serif', serif" fill="#000" stroke="#000" stroke-width="0.7" stroke-linejoin="round">,</text>
<text transform="matrix(0.5835 0.0000 0.0000 0.4960 1973.0882 1136.2250)" font-size="100" font-family="'Liberation Serif', serif" fill="#000" stroke="#000" stroke-width="0.7" stroke-linejoin="round" font-style="italic">α</text>
<text transform="matrix(0.7147 0.0000 0.0000 0.2475 2003.0000 1131.0400)" font-size="100" font-family="'Liberation Serif', serif" fill="#000" stroke="#000" stroke-width="1.6" stroke-linejoin="round">^</text>
<text transform="matrix(0.4235 0.0000 0.0000 0.3584 2008.1382 1158.8000)" font-size="100" font-family="'Liberation Serif', serif" fill="#000" font-weight="bold">h</text>
<text transform="matrix(0.5835 0.0000 0.0000 0.4960 2107.6882 1136.2250)" font-size="100" font-family="'Liberation Serif', serif" fill="#000" stroke="#000" stroke-width="0.7" stroke-linejoin="round" font-style="italic">α</text>
<text transform="matrix(0.7147 0.0000 0.0000 0.2475 2137.5000 1131.0400)" font-size="100" font-family="'Liberation Serif', serif" fill="#000" stroke="#000" stroke-width="1.6" stroke-linejoin="round">^</text>
<text transform="matrix(0.4212 0.0000 0.0000 0.3307 2141.9419 1155.9500)" font-size="100" font-family="'Liberation Serif', serif" fill="#000" font-weight="bold">g</text>
<text transform="matrix(0.8064 0.0000 0.0000 0.5007 2048.5200 1138.3706)" font-size="100" font-family="'Liberation Serif', serif" fill="#000" stroke="#000" stroke-width="0.7" stroke-linejoin="round">=</text>
<text transform="matrix(0.8064 0.0000 0.0000 0.5007 2181.9200 1138.3706)" font-size="100" font-family="'Liberation Serif', serif" fill="#000" stroke="#000" stroke-width="0.7" stroke-linejoin="round">=</text>
<text transform="matrix(0.5598 0.0000 0.0000 0.5789 2240.2507 1136.6955)" font-size="100" font-family="'Liberation Serif', serif" fill="#000" stroke="#000" stroke-width="0.7" stroke-linejoin="round">0.1</text>
<text transform="matrix(0.5706 0.0000 0.0000 0.5833 1690.9085 1212.4886)" font-size="100" font-family="'Liberation Serif', serif" fill="#000" stroke="#000" stroke-width="0.7" stroke-linejoin="round">NLMS-BF</text>
<text transform="matrix(0.5440 0.0000 0.0000 0.5873 1941.3000 1213.0235)" font-size="100" font-family="'Liberation Serif', serif" fill="#000" stroke="#000" stroke-width="0.7" stroke-linejoin="round">,</text>
<text transform="matrix(0.5835 0.0000 0.0000 0.4960 1973.0882 1212.4250)" font-size="100" font-family="'Liberation Serif', serif" fill="#000" stroke="#000" stroke-width="0.7" stroke-linejoin="round" font-style="italic">α</text>
<text transform="matrix(0.7147 0.0000 0.0000 0.2475 2003.0000 1207.2400)" font-size="100" font-family="'Liberation Serif', serif" fill="#000" stroke="#000" stroke-width="1.6" stroke-linejoin="round">^</text>
<text transform="matrix(0.4235 0.0000 0.0000 0.3584 2008.1382 1235.0000)" font-size="100" font-family="'Liberation Serif', serif" fill="#000" font-weight="bold">h</text>
<text transform="matrix(0.5835 0.0000 0.0000 0.4960 2107.6882 1212.4250)" font-size="100" font-family="'Liberation Serif', serif" fill="#000" stroke="#000" stroke-width="0.7" stroke-linejoin="round" font-style="italic">α</text>
<text transform="matrix(0.7147 0.0000 0.0000 0.2475 2137.5000 1207.2400)" font-size="100" font-family="'Liberation Serif', serif" fill="#000" stroke="#000" stroke-width="1.6" stroke-linejoin="round">^</text>
<text transform="matrix(0.4212 0.0000 0.0000 0.3307 2141.9419 1232.1500)" font-size="100" font-family="'Liberation Serif', serif" fill="#000" font-weight="bold">g</text>
<text transform="matrix(0.8064 0.0000 0.0000 0.5007 2048.5200 1214.5706)" font-size="100" font-family="'Liberation Serif', serif" fill="#000" stroke="#000" stroke-width="0.7" stroke-linejoin="round">=</text>
<text transform="matrix(0.8064 0.0000 0.0000 0.5007 2181.9200 1214.5706)" font-size="100" font-family="'Liberation Serif', serif" fill="#000" stroke="#000" stroke-width="0.7" stroke-linejoin="round">=</text>
<text transform="matrix(0.5491 0.0000 0.0000 0.5789 2240.2841 1212.8955)" font-size="100" font-family="'Liberation Serif', serif" fill="#000" stroke="#000" stroke-width="0.7" stroke-linejoin="round">0.01</text>
<text transform="matrix(0.6666 0.0000 0.0000 0.6747 1145.3922 898.2458)" font-size="100" font-family="'Liberation Sans', sans-serif" fill="#262626">Iterations</text>
<text transform="matrix(0.6666 0.0000 0.0000 0.6747 1145.3922 1791.2458)" font-size="100" font-family="'Liberation Sans', sans-serif" fill="#262626">Iterations</text>
<text transform="matrix(0.6510 0.0000 0.0000 0.6665 2150.5310 916.1897)" font-size="100" font-family="'Liberation Sans', sans-serif" fill="#262626">×</text>
<text transform="matrix(0.5601 0.0000 0.0000 0.6094 2200.2997 909.0478)" font-size="100" font-family="'Liberation Sans', sans-serif" fill="#262626">10</text>
<text transform="matrix(0.4480 0.0000 0.0000 0.4836 2266.2000 881.0000)" font-size="100" font-family="'Liberation Sans', sans-serif" fill="#262626">4</text>
<text transform="matrix(0.6510 0.0000 0.0000 0.6665 2150.5310 1808.8897)" font-size="100" font-family="'Liberation Sans', sans-serif" fill="#262626">×</text>
<text transform="matrix(0.5601 0.0000 0.0000 0.6094 2200.2997 1801.7478)" font-size="100" font-family="'Liberation Sans', sans-serif" fill="#262626">10</text>
<text transform="matrix(0.4480 0.0000 0.0000 0.4836 2266.2000 1773.7000)" font-size="100" font-family="'Liberation Sans', sans-serif" fill="#262626">4</text>
<text transform="matrix(0.0000 -0.6924 0.7314 0.0000 117.6000 631.9818)" font-size="100" font-family="'Liberation Serif', serif" fill="#262626" stroke="#262626" stroke-width="0.7" stroke-linejoin="round">N</text>
<text transform="matrix(0.0000 -0.8010 0.7223 0.0000 117.0000 581.7515)" font-size="100" font-family="'Liberation Serif', serif" fill="#262626" stroke="#262626" stroke-width="0.7" stroke-linejoin="round">P</text>
<text transform="matrix(0.0000 -0.6807 0.7223 0.0000 117.0000 535.7636)" font-size="100" font-family="'Liberation Serif', serif" fill="#262626" stroke="#262626" stroke-width="0.7" stroke-linejoin="round">M</text>
<text transform="matrix(0.0000 -0.4352 0.8178 0.0000 122.5000 470.7200)" font-size="100" font-family="'Liberation Serif', serif" fill="#262626" stroke="#262626" stroke-width="0.7" stroke-linejoin="round">[</text>
<text transform="matrix(0.0000 -0.7661 0.6827 0.0000 117.0000 455.8971)" font-size="100" font-family="'Liberation Serif', serif" fill="#262626" font-weight="bold">h</text>
<text transform="matrix(0.0000 -0.5696 0.8282 0.0000 118.0588 410.2800)" font-size="100" font-family="'Liberation Serif', serif" fill="#262626" stroke="#262626" stroke-width="0.7" stroke-linejoin="round">,</text>
<text transform="matrix(0.0000 -0.7492 0.6827 0.0000 117.0000 382.9706)" font-size="100" font-family="'Liberation Serif', serif" fill="#262626" font-weight="bold">h</text>
<text transform="matrix(0.0000 -0.9067 0.2987 0.0000 67.1000 384.0000)" font-size="100" font-family="'Liberation Serif', serif" fill="#262626" stroke="#262626" stroke-width="0.7" stroke-linejoin="round">^</text>
<text transform="matrix(0.0000 -0.4267 0.8178 0.0000 122.5000 342.3333)" font-size="100" font-family="'Liberation Serif', serif" fill="#262626" stroke="#262626" stroke-width="0.7" stroke-linejoin="round">]</text>
<text transform="matrix(0.0000 -0.6080 0.7485 0.0000 117.6271 297.0000)" font-size="100" font-family="'Liberation Serif', serif" fill="#262626" stroke="#262626" stroke-width="0.7" stroke-linejoin="round">(</text>
<text transform="matrix(0.0000 -0.7351 0.6790 0.0000 116.7391 275.3971)" font-size="100" font-family="'Liberation Serif', serif" fill="#262626" stroke="#262626" stroke-width="0.7" stroke-linejoin="round">dB</text>
<text transform="matrix(0.0000 -0.6513 0.7485 0.0000 117.6271 189.2353)" font-size="100" font-family="'Liberation Serif', serif" fill="#262626" stroke="#262626" stroke-width="0.7" stroke-linejoin="round">)</text>
<text transform="matrix(0.0000 -0.7025 0.7253 0.0000 85.6000 1524.3977)" font-size="100" font-family="'Liberation Serif', serif" fill="#262626" stroke="#262626" stroke-width="0.7" stroke-linejoin="round">N</text>
<text transform="matrix(0.0000 -0.7971 0.7162 0.0000 85.0000 1473.1455)" font-size="100" font-family="'Liberation Serif', serif" fill="#262626" stroke="#262626" stroke-width="0.7" stroke-linejoin="round">P</text>
<text transform="matrix(0.0000 -0.6889 0.7162 0.0000 85.0000 1428.0764)" font-size="100" font-family="'Liberation Serif', serif" fill="#262626" stroke="#262626" stroke-width="0.7" stroke-linejoin="round">M</text>
<text transform="matrix(0.0000 -0.4267 0.8296 0.0000 91.3333 1362.9667)" font-size="100" font-family="'Liberation Serif', serif" fill="#262626" stroke="#262626" stroke-width="0.7" stroke-linejoin="round">[</text>
<text transform="matrix(0.0000 -0.7639 0.6067 0.0000 84.3812 1348.4935)" font-size="100" font-family="'Liberation Serif', serif" fill="#262626" font-weight="bold">g</text>
<text transform="matrix(0.0000 -0.5760 0.8358 0.0000 85.8412 1305.8000)" font-size="100" font-family="'Liberation Serif', serif" fill="#262626" stroke="#262626" stroke-width="0.7" stroke-linejoin="round">,</text>
<text transform="matrix(0.0000 -0.7639 0.6067 0.0000 84.3812 1279.1935)" font-size="100" font-family="'Liberation Serif', serif" fill="#262626" font-weight="bold">g</text>
<text transform="matrix(0.0000 -0.9067 0.2987 0.0000 52.0000 1281.0000)" font-size="100" font-family="'Liberation Serif', serif" fill="#262626" stroke="#262626" stroke-width="0.7" stroke-linejoin="round">^</text>
<text transform="matrix(0.0000 -0.4267 0.8296 0.0000 91.3333 1240.3333)" font-size="100" font-family="'Liberation Serif', serif" fill="#262626" stroke="#262626" stroke-width="0.7" stroke-linejoin="round">]</text>
<text transform="matrix(0.0000 -0.5938 0.7593 0.0000 86.3898 1194.5556)" font-size="100" font-family="'Liberation Serif', serif" fill="#262626" stroke="#262626" stroke-width="0.7" stroke-linejoin="round">(</text>
<text transform="matrix(0.0000 -0.7387 0.6790 0.0000 84.7391 1174.3086)" font-size="100" font-family="'Liberation Serif', serif" fill="#262626" stroke="#262626" stroke-width="0.7" stroke-linejoin="round">dB</text>
<text transform="matrix(0.0000 -0.6551 0.7593 0.0000 86.3898 1088.4471)" font-size="100" font-family="'Liberation Serif', serif" fill="#262626" stroke="#262626" stroke-width="0.7" stroke-linejoin="round">)</text>
</g>
</svg></body></html>
